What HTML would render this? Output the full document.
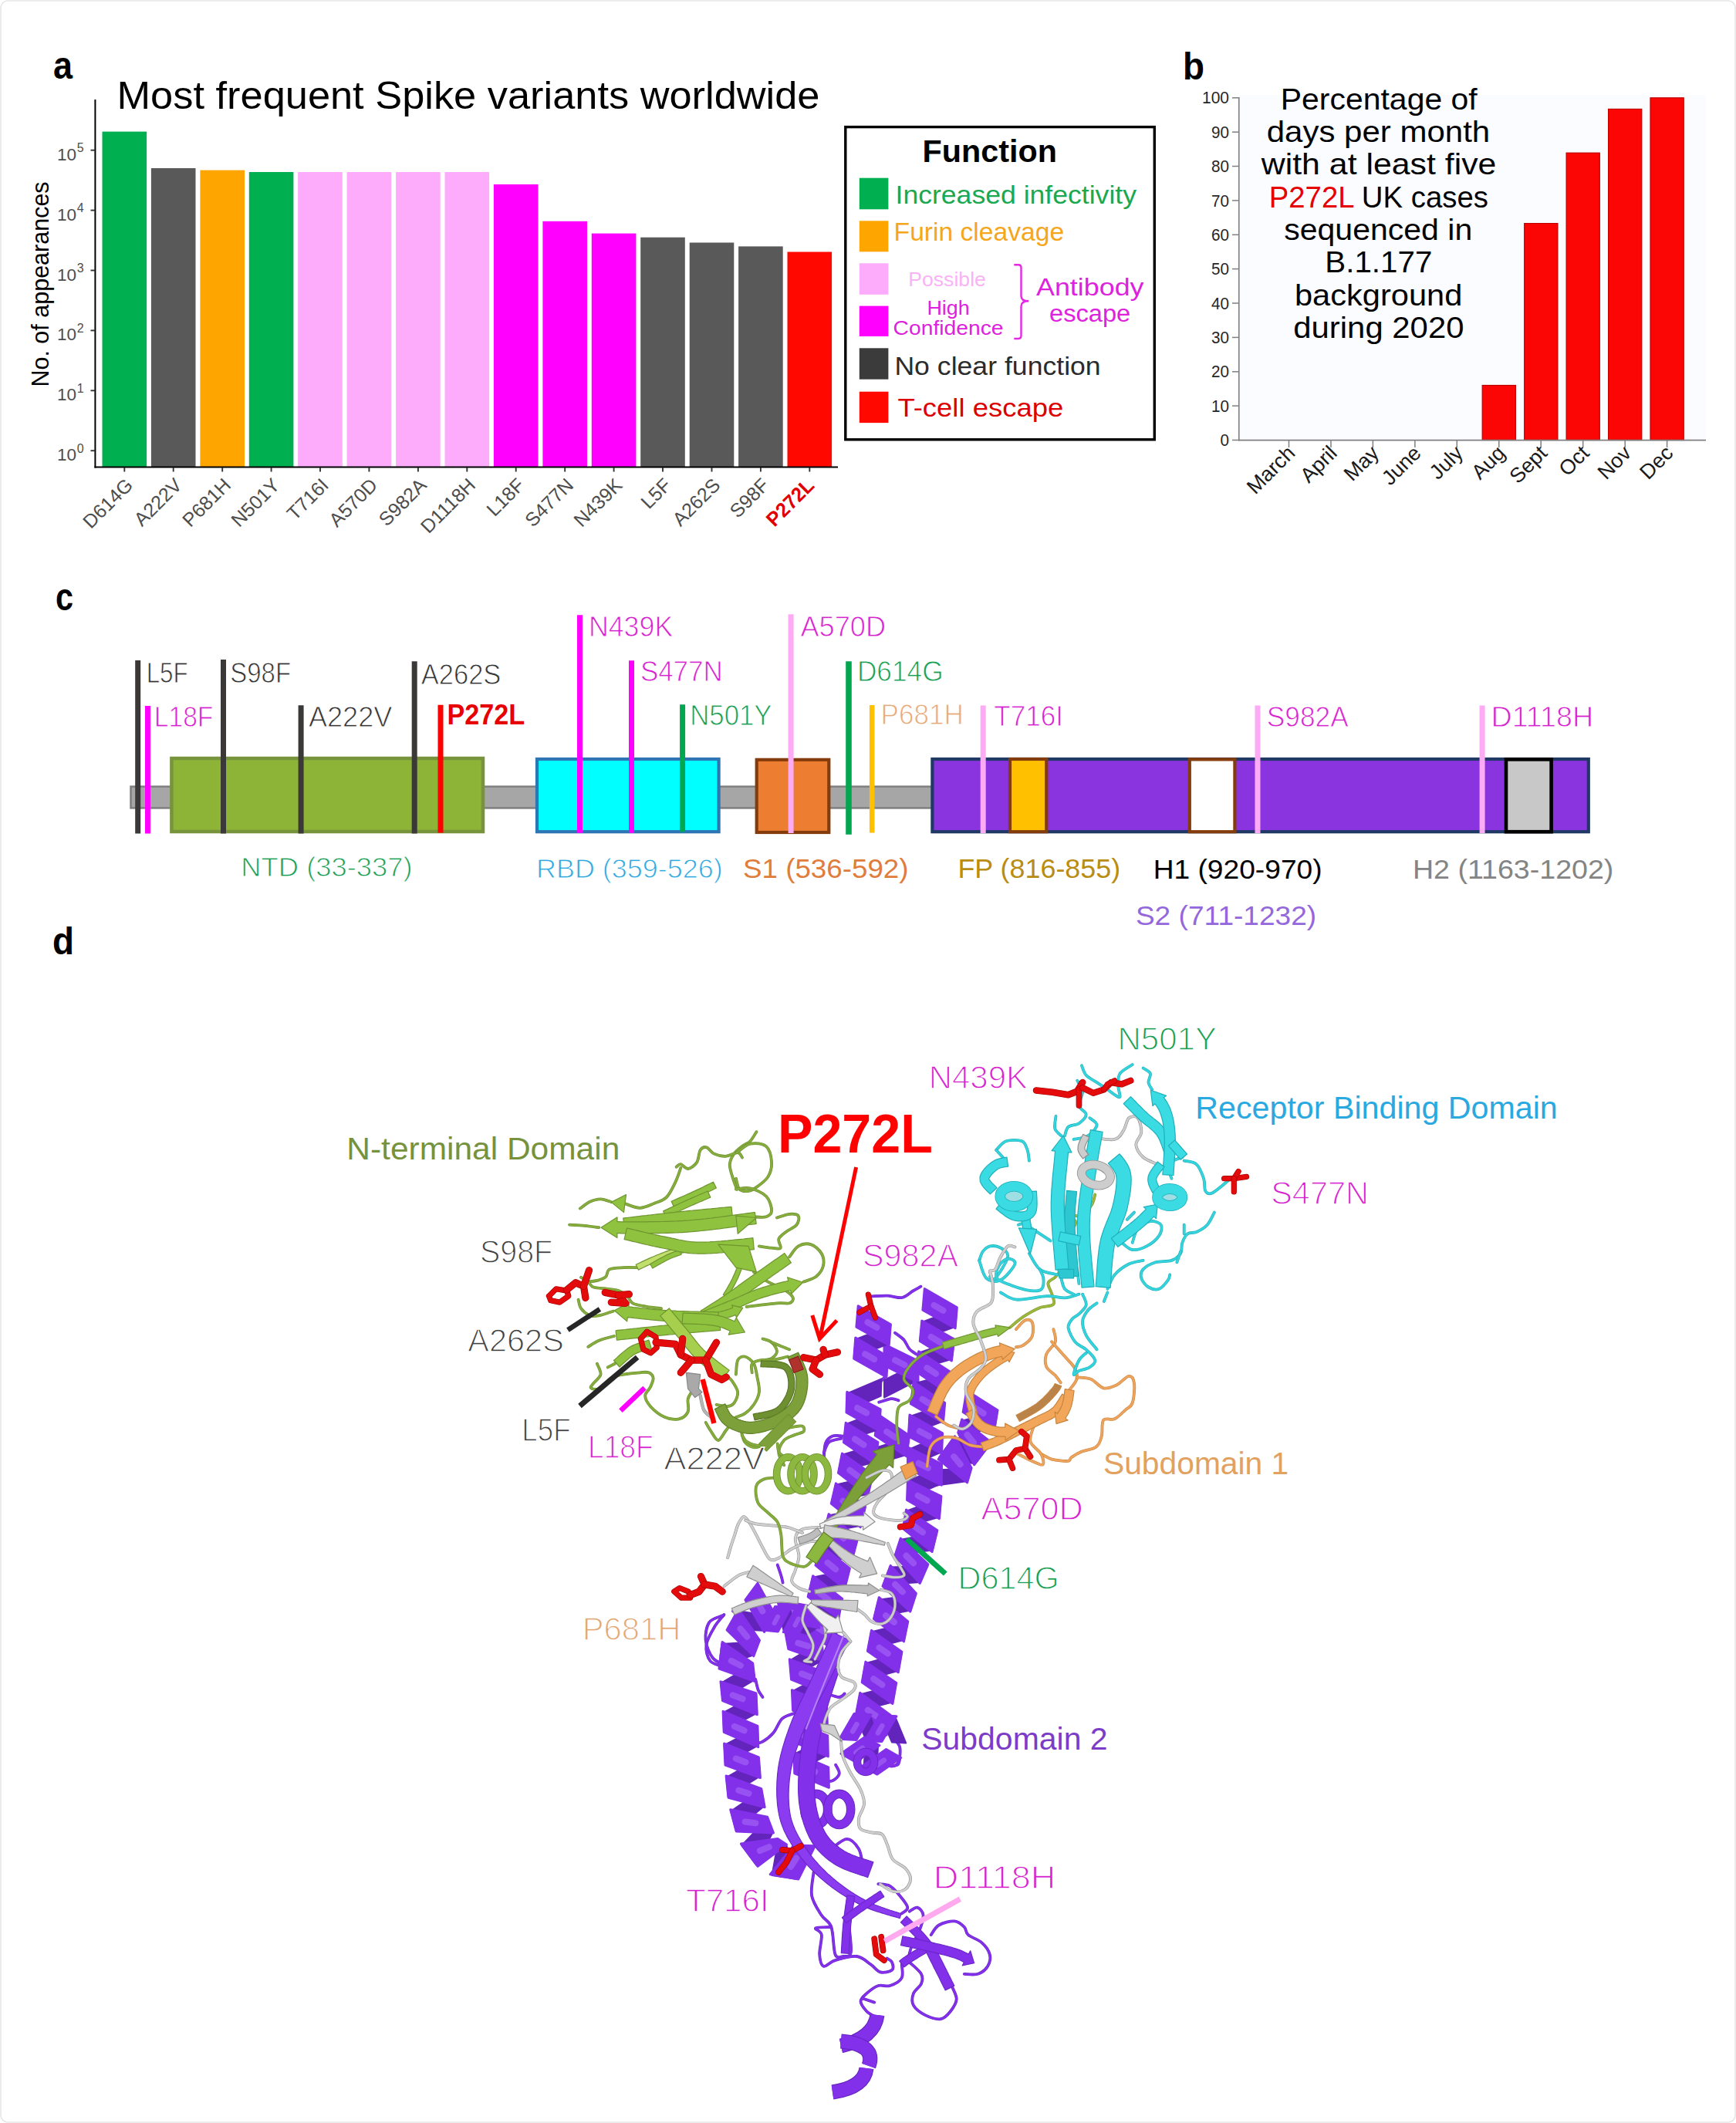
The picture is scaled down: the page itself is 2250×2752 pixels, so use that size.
<!DOCTYPE html>
<html><head><meta charset="utf-8"><title>Spike variants figure</title>
<style>
html,body{margin:0;padding:0;background:#fff;}
body{width:2250px;height:2752px;overflow:hidden;}
svg{display:block;font-family:"Liberation Sans", sans-serif;}
</style></head><body>
<svg width="2250" height="2752" viewBox="0 0 2250 2752">
<rect x="0" y="0" width="2250" height="2752" fill="#fff"/>
<rect x="1" y="1" width="2248" height="2750" rx="9" ry="9" fill="#fff" stroke="#e6e6e6" stroke-width="1.6"/>

<text x="69.0" y="102.0" font-size="50" fill="#000" font-weight="700" textLength="25.0" lengthAdjust="spacingAndGlyphs">a</text>
<text x="1533.0" y="102.5" font-size="50" fill="#000" font-weight="700" textLength="28.0" lengthAdjust="spacingAndGlyphs">b</text>
<text x="72.0" y="790.5" font-size="50" fill="#000" font-weight="700" textLength="23.0" lengthAdjust="spacingAndGlyphs">c</text>
<text x="68.0" y="1237.0" font-size="50" fill="#000" font-weight="700" textLength="28.0" lengthAdjust="spacingAndGlyphs">d</text>
<g id="panel-a">
<text x="151.5" y="141.3" font-size="50" fill="#000" textLength="911.0" lengthAdjust="spacingAndGlyphs">Most frequent Spike variants worldwide</text>
<rect x="132.5" y="170.6" width="57.6" height="434.4" fill="#00b050"/>
<rect x="195.9" y="218.0" width="57.6" height="387.0" fill="#595959"/>
<rect x="259.4" y="220.6" width="57.6" height="384.4" fill="#ffa500"/>
<rect x="322.8" y="223.0" width="57.6" height="382.0" fill="#00b050"/>
<rect x="386.2" y="223.0" width="57.6" height="382.0" fill="#fdabfb"/>
<rect x="449.6" y="223.0" width="57.6" height="382.0" fill="#fdabfb"/>
<rect x="513.1" y="223.0" width="57.6" height="382.0" fill="#fdabfb"/>
<rect x="576.5" y="223.0" width="57.6" height="382.0" fill="#fdabfb"/>
<rect x="639.9" y="239.0" width="57.6" height="366.0" fill="#ff00ff"/>
<rect x="703.4" y="286.8" width="57.6" height="318.2" fill="#ff00ff"/>
<rect x="766.8" y="302.6" width="57.6" height="302.4" fill="#ff00ff"/>
<rect x="830.2" y="307.7" width="57.6" height="297.3" fill="#595959"/>
<rect x="893.7" y="314.5" width="57.6" height="290.5" fill="#595959"/>
<rect x="957.1" y="319.4" width="57.6" height="285.6" fill="#595959"/>
<rect x="1020.5" y="326.5" width="57.6" height="278.5" fill="#ff0800"/>
<line x1="123.4" y1="129.0" x2="123.4" y2="606.4" stroke="#000" stroke-width="2.0" stroke-linecap="butt"/>
<line x1="122.4" y1="605.6" x2="1086.0" y2="605.6" stroke="#000" stroke-width="2.0" stroke-linecap="butt"/>
<line x1="161.3" y1="606.0" x2="161.3" y2="611.5" stroke="#333" stroke-width="1.9" stroke-linecap="butt"/>
<text transform="translate(173.8,630.5) rotate(-45)" text-anchor="end" font-size="25" fill="#4d4d4d">D614G</text>
<line x1="224.7" y1="606.0" x2="224.7" y2="611.5" stroke="#333" stroke-width="1.9" stroke-linecap="butt"/>
<text transform="translate(237.2,630.5) rotate(-45)" text-anchor="end" font-size="25" fill="#4d4d4d">A222V</text>
<line x1="288.2" y1="606.0" x2="288.2" y2="611.5" stroke="#333" stroke-width="1.9" stroke-linecap="butt"/>
<text transform="translate(300.7,630.5) rotate(-45)" text-anchor="end" font-size="25" fill="#4d4d4d">P681H</text>
<line x1="351.6" y1="606.0" x2="351.6" y2="611.5" stroke="#333" stroke-width="1.9" stroke-linecap="butt"/>
<text transform="translate(364.1,630.5) rotate(-45)" text-anchor="end" font-size="25" fill="#4d4d4d">N501Y</text>
<line x1="415.0" y1="606.0" x2="415.0" y2="611.5" stroke="#333" stroke-width="1.9" stroke-linecap="butt"/>
<text transform="translate(427.5,630.5) rotate(-45)" text-anchor="end" font-size="25" fill="#4d4d4d">T716I</text>
<line x1="478.4" y1="606.0" x2="478.4" y2="611.5" stroke="#333" stroke-width="1.9" stroke-linecap="butt"/>
<text transform="translate(490.9,630.5) rotate(-45)" text-anchor="end" font-size="25" fill="#4d4d4d">A570D</text>
<line x1="541.9" y1="606.0" x2="541.9" y2="611.5" stroke="#333" stroke-width="1.9" stroke-linecap="butt"/>
<text transform="translate(554.4,630.5) rotate(-45)" text-anchor="end" font-size="25" fill="#4d4d4d">S982A</text>
<line x1="605.3" y1="606.0" x2="605.3" y2="611.5" stroke="#333" stroke-width="1.9" stroke-linecap="butt"/>
<text transform="translate(617.8,630.5) rotate(-45)" text-anchor="end" font-size="25" fill="#4d4d4d">D1118H</text>
<line x1="668.7" y1="606.0" x2="668.7" y2="611.5" stroke="#333" stroke-width="1.9" stroke-linecap="butt"/>
<text transform="translate(681.2,630.5) rotate(-45)" text-anchor="end" font-size="25" fill="#4d4d4d">L18F</text>
<line x1="732.2" y1="606.0" x2="732.2" y2="611.5" stroke="#333" stroke-width="1.9" stroke-linecap="butt"/>
<text transform="translate(744.7,630.5) rotate(-45)" text-anchor="end" font-size="25" fill="#4d4d4d">S477N</text>
<line x1="795.6" y1="606.0" x2="795.6" y2="611.5" stroke="#333" stroke-width="1.9" stroke-linecap="butt"/>
<text transform="translate(808.1,630.5) rotate(-45)" text-anchor="end" font-size="25" fill="#4d4d4d">N439K</text>
<line x1="859.0" y1="606.0" x2="859.0" y2="611.5" stroke="#333" stroke-width="1.9" stroke-linecap="butt"/>
<text transform="translate(871.5,630.5) rotate(-45)" text-anchor="end" font-size="25" fill="#4d4d4d">L5F</text>
<line x1="922.5" y1="606.0" x2="922.5" y2="611.5" stroke="#333" stroke-width="1.9" stroke-linecap="butt"/>
<text transform="translate(935.0,630.5) rotate(-45)" text-anchor="end" font-size="25" fill="#4d4d4d">A262S</text>
<line x1="985.9" y1="606.0" x2="985.9" y2="611.5" stroke="#333" stroke-width="1.9" stroke-linecap="butt"/>
<text transform="translate(998.4,630.5) rotate(-45)" text-anchor="end" font-size="25" fill="#4d4d4d">S98F</text>
<line x1="1049.3" y1="606.0" x2="1049.3" y2="611.5" stroke="#333" stroke-width="1.9" stroke-linecap="butt"/>
<text transform="translate(1056.8,631) rotate(-45)" text-anchor="end" font-size="26" font-weight="700" fill="#e00000" textLength="75" lengthAdjust="spacingAndGlyphs">P272L</text>
<line x1="117.5" y1="584.2" x2="123.0" y2="584.2" stroke="#333" stroke-width="1.9" stroke-linecap="butt"/>
<text x="99" y="597.2" text-anchor="end" font-size="22.5" fill="#4d4d4d">10</text>
<text x="99.8" y="586.7" font-size="16" fill="#4d4d4d">0</text>
<line x1="117.5" y1="506.3" x2="123.0" y2="506.3" stroke="#333" stroke-width="1.9" stroke-linecap="butt"/>
<text x="99" y="519.3" text-anchor="end" font-size="22.5" fill="#4d4d4d">10</text>
<text x="99.8" y="508.8" font-size="16" fill="#4d4d4d">1</text>
<line x1="117.5" y1="428.4" x2="123.0" y2="428.4" stroke="#333" stroke-width="1.9" stroke-linecap="butt"/>
<text x="99" y="441.4" text-anchor="end" font-size="22.5" fill="#4d4d4d">10</text>
<text x="99.8" y="430.9" font-size="16" fill="#4d4d4d">2</text>
<line x1="117.5" y1="350.5" x2="123.0" y2="350.5" stroke="#333" stroke-width="1.9" stroke-linecap="butt"/>
<text x="99" y="363.5" text-anchor="end" font-size="22.5" fill="#4d4d4d">10</text>
<text x="99.8" y="353.0" font-size="16" fill="#4d4d4d">3</text>
<line x1="117.5" y1="272.6" x2="123.0" y2="272.6" stroke="#333" stroke-width="1.9" stroke-linecap="butt"/>
<text x="99" y="285.6" text-anchor="end" font-size="22.5" fill="#4d4d4d">10</text>
<text x="99.8" y="275.1" font-size="16" fill="#4d4d4d">4</text>
<line x1="117.5" y1="194.7" x2="123.0" y2="194.7" stroke="#333" stroke-width="1.9" stroke-linecap="butt"/>
<text x="99" y="207.7" text-anchor="end" font-size="22.5" fill="#4d4d4d">10</text>
<text x="99.8" y="197.2" font-size="16" fill="#4d4d4d">5</text>
<text transform="translate(63,368.5) rotate(-90)" text-anchor="middle" font-size="30.5" fill="#000">No. of appearances</text>
</g>
<g id="legend">
<rect x="1095.8" y="164.6" width="400.5" height="405.2" fill="#fff" stroke="#000" stroke-width="3.4"/>
<text x="1195.6" y="209.5" font-size="41" fill="#000" font-weight="700" textLength="174.4" lengthAdjust="spacingAndGlyphs">Function</text>
<rect x="1113.8" y="230.7" width="37.6" height="40.6" fill="#00b050"/>
<rect x="1113.8" y="286.3" width="37.6" height="40.0" fill="#ffa500"/>
<rect x="1113.8" y="341.3" width="37.6" height="40.5" fill="#fdabfb"/>
<rect x="1113.8" y="396.6" width="37.6" height="39.4" fill="#ff00ff"/>
<rect x="1113.8" y="451.3" width="37.6" height="40.4" fill="#3b3b3b"/>
<rect x="1113.8" y="507.7" width="37.6" height="40.4" fill="#ff0800"/>
<text x="1160.5" y="264.2" font-size="34" fill="#1aa850" textLength="312.5" lengthAdjust="spacingAndGlyphs">Increased infectivity</text>
<text x="1158.6" y="312.4" font-size="34" fill="#f5a61d" textLength="220.5" lengthAdjust="spacingAndGlyphs">Furin cleavage</text>
<text x="1177.2" y="371.2" font-size="26.5" fill="#f8b3f6" textLength="100.7" lengthAdjust="spacingAndGlyphs">Possible</text>
<text x="1201.4" y="408.0" font-size="26.5" fill="#dd22dd" textLength="55.3" lengthAdjust="spacingAndGlyphs">High</text>
<text x="1157.6" y="434.1" font-size="26.5" fill="#dd22dd" textLength="143.0" lengthAdjust="spacingAndGlyphs">Confidence</text>
<path d="M1314.3,343.2 H1320 Q1323.5,343.2 1323.5,347 V384 Q1323.5,390.3 1333.2,390.3 Q1323.5,390.3 1323.5,397 V435 Q1323.5,439 1320,439 H1314.3" fill="none" stroke="#e628e6" stroke-width="2.4"/>
<text x="1343.0" y="382.7" font-size="31" fill="#dd22dd" textLength="139.5" lengthAdjust="spacingAndGlyphs">Antibody</text>
<text x="1360.0" y="416.8" font-size="31" fill="#dd22dd" textLength="105.2" lengthAdjust="spacingAndGlyphs">escape</text>
<text x="1159.4" y="486.4" font-size="33" fill="#2b2b2b" textLength="267.3" lengthAdjust="spacingAndGlyphs">No clear function</text>
<text x="1163.4" y="540.0" font-size="34" fill="#dc0000" textLength="215.0" lengthAdjust="spacingAndGlyphs">T-cell escape</text>
</g>
<g id="panel-b">
<rect x="1606.0" y="123.0" width="605.0" height="447.0" fill="#fbfcff"/>
<rect x="1921.2" y="499.5" width="43.2" height="71.0" fill="#fb0505" stroke="#c00000" stroke-width="1.2"/>
<rect x="1975.7" y="289.6" width="43.2" height="280.9" fill="#fb0505" stroke="#c00000" stroke-width="1.2"/>
<rect x="2030.1" y="198.2" width="43.2" height="372.3" fill="#fb0505" stroke="#c00000" stroke-width="1.2"/>
<rect x="2084.6" y="141.4" width="43.2" height="429.1" fill="#fb0505" stroke="#c00000" stroke-width="1.2"/>
<rect x="2139.0" y="126.8" width="43.2" height="443.7" fill="#fb0505" stroke="#c00000" stroke-width="1.2"/>
<line x1="1605.8" y1="126.0" x2="1605.8" y2="571.2" stroke="#7f7f7f" stroke-width="1.6" stroke-linecap="butt"/>
<line x1="1605.0" y1="570.6" x2="2211.0" y2="570.6" stroke="#7f7f7f" stroke-width="1.6" stroke-linecap="butt"/>
<line x1="1597.0" y1="570.5" x2="1605.8" y2="570.5" stroke="#7f7f7f" stroke-width="1.5" stroke-linecap="butt"/>
<text x="1593" y="578.1" text-anchor="end" font-size="21.5" fill="#262626" textLength="11.5" lengthAdjust="spacingAndGlyphs">0</text>
<line x1="1597.0" y1="526.1" x2="1605.8" y2="526.1" stroke="#7f7f7f" stroke-width="1.5" stroke-linecap="butt"/>
<text x="1593" y="533.7" text-anchor="end" font-size="21.5" fill="#262626" textLength="23" lengthAdjust="spacingAndGlyphs">10</text>
<line x1="1597.0" y1="481.8" x2="1605.8" y2="481.8" stroke="#7f7f7f" stroke-width="1.5" stroke-linecap="butt"/>
<text x="1593" y="489.4" text-anchor="end" font-size="21.5" fill="#262626" textLength="23" lengthAdjust="spacingAndGlyphs">20</text>
<line x1="1597.0" y1="437.4" x2="1605.8" y2="437.4" stroke="#7f7f7f" stroke-width="1.5" stroke-linecap="butt"/>
<text x="1593" y="445.0" text-anchor="end" font-size="21.5" fill="#262626" textLength="23" lengthAdjust="spacingAndGlyphs">30</text>
<line x1="1597.0" y1="393.0" x2="1605.8" y2="393.0" stroke="#7f7f7f" stroke-width="1.5" stroke-linecap="butt"/>
<text x="1593" y="400.6" text-anchor="end" font-size="21.5" fill="#262626" textLength="23" lengthAdjust="spacingAndGlyphs">40</text>
<line x1="1597.0" y1="348.6" x2="1605.8" y2="348.6" stroke="#7f7f7f" stroke-width="1.5" stroke-linecap="butt"/>
<text x="1593" y="356.2" text-anchor="end" font-size="21.5" fill="#262626" textLength="23" lengthAdjust="spacingAndGlyphs">50</text>
<line x1="1597.0" y1="304.3" x2="1605.8" y2="304.3" stroke="#7f7f7f" stroke-width="1.5" stroke-linecap="butt"/>
<text x="1593" y="311.9" text-anchor="end" font-size="21.5" fill="#262626" textLength="23" lengthAdjust="spacingAndGlyphs">60</text>
<line x1="1597.0" y1="259.9" x2="1605.8" y2="259.9" stroke="#7f7f7f" stroke-width="1.5" stroke-linecap="butt"/>
<text x="1593" y="267.5" text-anchor="end" font-size="21.5" fill="#262626" textLength="23" lengthAdjust="spacingAndGlyphs">70</text>
<line x1="1597.0" y1="215.5" x2="1605.8" y2="215.5" stroke="#7f7f7f" stroke-width="1.5" stroke-linecap="butt"/>
<text x="1593" y="223.1" text-anchor="end" font-size="21.5" fill="#262626" textLength="23" lengthAdjust="spacingAndGlyphs">80</text>
<line x1="1597.0" y1="171.2" x2="1605.8" y2="171.2" stroke="#7f7f7f" stroke-width="1.5" stroke-linecap="butt"/>
<text x="1593" y="178.8" text-anchor="end" font-size="21.5" fill="#262626" textLength="23" lengthAdjust="spacingAndGlyphs">90</text>
<line x1="1597.0" y1="126.8" x2="1605.8" y2="126.8" stroke="#7f7f7f" stroke-width="1.5" stroke-linecap="butt"/>
<text x="1593" y="134.4" text-anchor="end" font-size="21.5" fill="#262626" textLength="35" lengthAdjust="spacingAndGlyphs">100</text>
<line x1="1670.5" y1="570.6" x2="1670.5" y2="580.0" stroke="#7f7f7f" stroke-width="1.5" stroke-linecap="butt"/>
<text transform="translate(1680.0,589) rotate(-45)" text-anchor="end" font-size="27" fill="#1a1a1a">March</text>
<line x1="1725.0" y1="570.6" x2="1725.0" y2="580.0" stroke="#7f7f7f" stroke-width="1.5" stroke-linecap="butt"/>
<text transform="translate(1734.5,589) rotate(-45)" text-anchor="end" font-size="27" fill="#1a1a1a">April</text>
<line x1="1779.4" y1="570.6" x2="1779.4" y2="580.0" stroke="#7f7f7f" stroke-width="1.5" stroke-linecap="butt"/>
<text transform="translate(1788.9,589) rotate(-45)" text-anchor="end" font-size="27" fill="#1a1a1a">May</text>
<line x1="1833.9" y1="570.6" x2="1833.9" y2="580.0" stroke="#7f7f7f" stroke-width="1.5" stroke-linecap="butt"/>
<text transform="translate(1843.4,589) rotate(-45)" text-anchor="end" font-size="27" fill="#1a1a1a">June</text>
<line x1="1888.3" y1="570.6" x2="1888.3" y2="580.0" stroke="#7f7f7f" stroke-width="1.5" stroke-linecap="butt"/>
<text transform="translate(1897.8,589) rotate(-45)" text-anchor="end" font-size="27" fill="#1a1a1a">July</text>
<line x1="1942.8" y1="570.6" x2="1942.8" y2="580.0" stroke="#7f7f7f" stroke-width="1.5" stroke-linecap="butt"/>
<text transform="translate(1952.3,589) rotate(-45)" text-anchor="end" font-size="27" fill="#1a1a1a">Aug</text>
<line x1="1997.2" y1="570.6" x2="1997.2" y2="580.0" stroke="#7f7f7f" stroke-width="1.5" stroke-linecap="butt"/>
<text transform="translate(2006.8,589) rotate(-45)" text-anchor="end" font-size="27" fill="#1a1a1a">Sept</text>
<line x1="2051.7" y1="570.6" x2="2051.7" y2="580.0" stroke="#7f7f7f" stroke-width="1.5" stroke-linecap="butt"/>
<text transform="translate(2061.2,589) rotate(-45)" text-anchor="end" font-size="27" fill="#1a1a1a">Oct</text>
<line x1="2106.2" y1="570.6" x2="2106.2" y2="580.0" stroke="#7f7f7f" stroke-width="1.5" stroke-linecap="butt"/>
<text transform="translate(2115.7,589) rotate(-45)" text-anchor="end" font-size="27" fill="#1a1a1a">Nov</text>
<line x1="2160.6" y1="570.6" x2="2160.6" y2="580.0" stroke="#7f7f7f" stroke-width="1.5" stroke-linecap="butt"/>
<text transform="translate(2170.1,589) rotate(-45)" text-anchor="end" font-size="27" fill="#1a1a1a">Dec</text>
<text x="1659.8" y="142.1" font-size="39" fill="#000" textLength="254.9" lengthAdjust="spacingAndGlyphs">Percentage of</text>
<text x="1641.7" y="184.0" font-size="39" fill="#000" textLength="289.5" lengthAdjust="spacingAndGlyphs">days per month</text>
<text x="1634.8" y="226.4" font-size="39" fill="#000" textLength="304.6" lengthAdjust="spacingAndGlyphs">with at least five</text>
<text x="1644.7" y="269" font-size="39" fill="#000" textLength="284.3" lengthAdjust="spacingAndGlyphs"><tspan fill="#e60000">P272L</tspan> UK cases</text>
<text x="1664.2" y="310.6" font-size="39" fill="#000" textLength="244.1" lengthAdjust="spacingAndGlyphs">sequenced in</text>
<text x="1717.3" y="352.9" font-size="39" fill="#000" textLength="139.1" lengthAdjust="spacingAndGlyphs">B.1.177</text>
<text x="1678.0" y="395.7" font-size="39" fill="#000" textLength="217.3" lengthAdjust="spacingAndGlyphs">background</text>
<text x="1676.3" y="438.1" font-size="39" fill="#000" textLength="221.2" lengthAdjust="spacingAndGlyphs">during 2020</text>
</g>
<g id="panel-c">
<rect x="169.5" y="1019.6" width="1830.5" height="27.8" fill="#a6a6a6" stroke="#7f7f7f" stroke-width="2.5"/>
<rect x="222.4" y="983.0" width="403.6" height="95.0" fill="#8db436" stroke="#77933c" stroke-width="4.5"/>
<rect x="696.0" y="984.0" width="235.6" height="94.2" fill="#00ffff" stroke="#2e75b6" stroke-width="4.2"/>
<rect x="980.7" y="984.8" width="93.6" height="94.2" fill="#ed7d31" stroke="#843c0c" stroke-width="4.2"/>
<rect x="1208.4" y="984.0" width="850.4" height="94.2" fill="#8a34e0" stroke="#1f3864" stroke-width="4.2"/>
<rect x="1309.0" y="984.0" width="47.3" height="94.2" fill="#ffc000" stroke="#843c0c" stroke-width="4.2"/>
<rect x="1541.8" y="984.4" width="58.6" height="93.8" fill="#ffffff" stroke="#843c0c" stroke-width="4.2"/>
<rect x="1952.0" y="984.4" width="58.6" height="93.8" fill="#c8c8c8" stroke="#000000" stroke-width="4.6"/>
<line x1="178.7" y1="856.0" x2="178.7" y2="1080.6" stroke="#3b3838" stroke-width="7" stroke-linecap="butt"/>
<line x1="191.5" y1="915.0" x2="191.5" y2="1080.6" stroke="#ff00ff" stroke-width="7" stroke-linecap="butt"/>
<line x1="289.5" y1="855.0" x2="289.5" y2="1080.6" stroke="#3b3838" stroke-width="7" stroke-linecap="butt"/>
<line x1="390.1" y1="914.2" x2="390.1" y2="1080.6" stroke="#3b3838" stroke-width="7" stroke-linecap="butt"/>
<line x1="537.2" y1="857.3" x2="537.2" y2="1080.6" stroke="#3b3838" stroke-width="7" stroke-linecap="butt"/>
<line x1="571.0" y1="913.8" x2="571.0" y2="1079.5" stroke="#ff0000" stroke-width="7" stroke-linecap="butt"/>
<line x1="751.5" y1="797.2" x2="751.5" y2="1079.8" stroke="#ff00ff" stroke-width="7" stroke-linecap="butt"/>
<line x1="818.5" y1="856.3" x2="818.5" y2="1079.8" stroke="#ff00ff" stroke-width="7" stroke-linecap="butt"/>
<line x1="884.6" y1="913.2" x2="884.6" y2="1078.5" stroke="#00a650" stroke-width="7" stroke-linecap="butt"/>
<line x1="1025.1" y1="796.3" x2="1025.1" y2="1080.0" stroke="#fdabf5" stroke-width="7" stroke-linecap="butt"/>
<line x1="1100.0" y1="857.2" x2="1100.0" y2="1081.8" stroke="#00a650" stroke-width="7.6" stroke-linecap="butt"/>
<line x1="1130.2" y1="914.1" x2="1130.2" y2="1079.6" stroke="#ffc000" stroke-width="6.6" stroke-linecap="butt"/>
<line x1="1274.2" y1="914.5" x2="1274.2" y2="1080.0" stroke="#fdabf5" stroke-width="7" stroke-linecap="butt"/>
<line x1="1630.0" y1="914.5" x2="1630.0" y2="1080.0" stroke="#fdabf5" stroke-width="7" stroke-linecap="butt"/>
<line x1="1921.1" y1="914.5" x2="1921.1" y2="1080.0" stroke="#fdabf5" stroke-width="7" stroke-linecap="butt"/>
<text x="189.7" y="885.3" font-size="37.5" fill="#333" textLength="54.0" lengthAdjust="spacingAndGlyphs" stroke="#fff" stroke-width="0.9" paint-order="fill stroke">L5F</text>
<text x="199.8" y="942.3" font-size="37.5" fill="#d522cf" textLength="76.6" lengthAdjust="spacingAndGlyphs" stroke="#fff" stroke-width="0.9" paint-order="fill stroke">L18F</text>
<text x="298.3" y="885.3" font-size="37.5" fill="#333" textLength="78.8" lengthAdjust="spacingAndGlyphs" stroke="#fff" stroke-width="0.9" paint-order="fill stroke">S98F</text>
<text x="399.9" y="942.3" font-size="37.5" fill="#333" textLength="108.5" lengthAdjust="spacingAndGlyphs" stroke="#fff" stroke-width="0.9" paint-order="fill stroke">A222V</text>
<text x="545.7" y="886.7" font-size="37.5" fill="#333" textLength="103.7" lengthAdjust="spacingAndGlyphs" stroke="#fff" stroke-width="0.9" paint-order="fill stroke">A262S</text>
<text x="579.4" y="939.2" font-size="37" fill="#e60000" font-weight="700" textLength="100.6" lengthAdjust="spacingAndGlyphs">P272L</text>
<text x="762.9" y="824.8" font-size="37.5" fill="#d522cf" textLength="109.4" lengthAdjust="spacingAndGlyphs" stroke="#fff" stroke-width="0.9" paint-order="fill stroke">N439K</text>
<text x="829.9" y="882.6" font-size="37.5" fill="#d522cf" textLength="106.8" lengthAdjust="spacingAndGlyphs" stroke="#fff" stroke-width="0.9" paint-order="fill stroke">S477N</text>
<text x="894.2" y="939.5" font-size="37.5" fill="#1a9e52" textLength="106.4" lengthAdjust="spacingAndGlyphs" stroke="#fff" stroke-width="0.9" paint-order="fill stroke">N501Y</text>
<text x="1037.4" y="824.8" font-size="37.5" fill="#d522cf" textLength="110.7" lengthAdjust="spacingAndGlyphs" stroke="#fff" stroke-width="0.9" paint-order="fill stroke">A570D</text>
<text x="1110.9" y="882.6" font-size="37.5" fill="#1a9e52" textLength="111.7" lengthAdjust="spacingAndGlyphs" stroke="#fff" stroke-width="0.9" paint-order="fill stroke">D614G</text>
<text x="1141.6" y="938.6" font-size="37.5" fill="#e8a978" textLength="107.2" lengthAdjust="spacingAndGlyphs" stroke="#fff" stroke-width="0.9" paint-order="fill stroke">P681H</text>
<text x="1288.2" y="940.8" font-size="37.5" fill="#d522cf" textLength="89.8" lengthAdjust="spacingAndGlyphs" stroke="#fff" stroke-width="0.9" paint-order="fill stroke">T716I</text>
<text x="1641.8" y="941.7" font-size="37.5" fill="#d522cf" textLength="105.9" lengthAdjust="spacingAndGlyphs" stroke="#fff" stroke-width="0.9" paint-order="fill stroke">S982A</text>
<text x="1932.5" y="941.7" font-size="37.5" fill="#d522cf" textLength="132.6" lengthAdjust="spacingAndGlyphs" stroke="#fff" stroke-width="0.9" paint-order="fill stroke">D1118H</text>
<text x="312.3" y="1136.2" font-size="35" fill="#1f9e55" textLength="222.4" lengthAdjust="spacingAndGlyphs" stroke="#fff" stroke-width="0.9" paint-order="fill stroke">NTD (33-337)</text>
<text x="695.0" y="1137.8" font-size="35" fill="#2ea8df" textLength="241.7" lengthAdjust="spacingAndGlyphs" stroke="#fff" stroke-width="0.9" paint-order="fill stroke">RBD (359-526)</text>
<text x="963.0" y="1137.8" font-size="35" fill="#e17d3c" textLength="214.5" lengthAdjust="spacingAndGlyphs">S1 (536-592)</text>
<text x="1241.4" y="1137.8" font-size="35" fill="#b98c14" textLength="210.8" lengthAdjust="spacingAndGlyphs">FP (816-855)</text>
<text x="1494.7" y="1138.7" font-size="35" fill="#000" textLength="218.9" lengthAdjust="spacingAndGlyphs">H1 (920-970)</text>
<text x="1830.9" y="1138.7" font-size="35" fill="#848484" textLength="260.5" lengthAdjust="spacingAndGlyphs">H2 (1163-1202)</text>
<text x="1471.9" y="1199.1" font-size="35" fill="#9468dc" textLength="234.3" lengthAdjust="spacingAndGlyphs">S2 (711-1232)</text>
</g>
<g id="panel-d">
<g id="structure">
<path d="M1128.9,1680.4C1132.5,1680.3 1144.1,1679.4 1150.8,1679.7C1157.5,1680.0 1163.9,1683.0 1169.3,1682.0C1174.6,1681.0 1179.1,1675.9 1183.1,1673.5C1187.1,1671.1 1191.8,1668.7 1193.5,1667.7" fill="none" stroke="#6d26cc" stroke-width="3.8" stroke-linecap="round" stroke-linejoin="round"/><path d="M1128.9,1680.4C1132.5,1680.3 1144.1,1679.4 1150.8,1679.7C1157.5,1680.0 1163.9,1683.0 1169.3,1682.0C1174.6,1681.0 1179.1,1675.9 1183.1,1673.5C1187.1,1671.1 1191.8,1668.7 1193.5,1667.7" fill="none" stroke="#8330ea" stroke-width="2.7" stroke-linecap="round" stroke-linejoin="round"/>
<path d="M1160.0,1727.7C1161.9,1729.2 1168.5,1733.5 1171.6,1736.9C1174.6,1740.4 1175.8,1745.4 1178.5,1748.5C1181.2,1751.6 1186.2,1754.3 1187.7,1755.4" fill="none" stroke="#6d26cc" stroke-width="3.8" stroke-linecap="round" stroke-linejoin="round"/><path d="M1160.0,1727.7C1161.9,1729.2 1168.5,1733.5 1171.6,1736.9C1174.6,1740.4 1175.8,1745.4 1178.5,1748.5C1181.2,1751.6 1186.2,1754.3 1187.7,1755.4" fill="none" stroke="#8330ea" stroke-width="2.7" stroke-linecap="round" stroke-linejoin="round"/>
<path d="M1148.5,1783.1C1146.6,1785.4 1139.6,1792.3 1136.9,1797.0C1134.2,1801.6 1133.1,1808.5 1132.3,1810.8" fill="none" stroke="#6d26cc" stroke-width="3.8" stroke-linecap="round" stroke-linejoin="round"/><path d="M1148.5,1783.1C1146.6,1785.4 1139.6,1792.3 1136.9,1797.0C1134.2,1801.6 1133.1,1808.5 1132.3,1810.8" fill="none" stroke="#8330ea" stroke-width="2.7" stroke-linecap="round" stroke-linejoin="round"/>
<path d="M1139.2,1817.7C1141.9,1817.0 1151.2,1813.5 1155.4,1813.1C1159.6,1812.7 1163.1,1815.0 1164.6,1815.4" fill="none" stroke="#6d26cc" stroke-width="3.8" stroke-linecap="round" stroke-linejoin="round"/><path d="M1139.2,1817.7C1141.9,1817.0 1151.2,1813.5 1155.4,1813.1C1159.6,1812.7 1163.1,1815.0 1164.6,1815.4" fill="none" stroke="#8330ea" stroke-width="2.7" stroke-linecap="round" stroke-linejoin="round"/>
<path d="M1067.7,1891.6C1068.1,1888.1 1068.1,1875.8 1070.0,1870.8C1071.9,1865.8 1075.4,1863.1 1079.2,1861.6C1083.1,1860.0 1090.8,1861.6 1093.1,1861.6" fill="none" stroke="#6d26cc" stroke-width="3.8" stroke-linecap="round" stroke-linejoin="round"/><path d="M1067.7,1891.6C1068.1,1888.1 1068.1,1875.8 1070.0,1870.8C1071.9,1865.8 1075.4,1863.1 1079.2,1861.6C1083.1,1860.0 1090.8,1861.6 1093.1,1861.6" fill="none" stroke="#8330ea" stroke-width="2.7" stroke-linecap="round" stroke-linejoin="round"/>
<path d="M1090.8,1864.6C1088.1,1865.4 1078.5,1866.2 1074.7,1869.2C1070.8,1872.3 1068.9,1880.8 1067.7,1883.1" fill="none" stroke="#6d26cc" stroke-width="3.8" stroke-linecap="round" stroke-linejoin="round"/><path d="M1090.8,1864.6C1088.1,1865.4 1078.5,1866.2 1074.7,1869.2C1070.8,1872.3 1068.9,1880.8 1067.7,1883.1" fill="none" stroke="#8330ea" stroke-width="2.7" stroke-linecap="round" stroke-linejoin="round"/>
<path d="M938.5,2093.1C936.4,2095.8 929.6,2102.7 925.8,2109.3C921.9,2115.8 916.3,2125.1 915.4,2132.4C914.5,2139.7 916.8,2148.5 920.5,2153.1C924.1,2157.7 934.5,2158.9 937.3,2160.1" fill="none" stroke="#6d26cc" stroke-width="3.8" stroke-linecap="round" stroke-linejoin="round"/><path d="M938.5,2093.1C936.4,2095.8 929.6,2102.7 925.8,2109.3C921.9,2115.8 916.3,2125.1 915.4,2132.4C914.5,2139.7 916.8,2148.5 920.5,2153.1C924.1,2157.7 934.5,2158.9 937.3,2160.1" fill="none" stroke="#8330ea" stroke-width="2.7" stroke-linecap="round" stroke-linejoin="round"/>
<path d="M950.0,2088.5C951.9,2087.9 958.1,2086.0 961.6,2085.0C965.0,2084.1 969.3,2083.1 970.8,2082.7" fill="none" stroke="#6d26cc" stroke-width="3.8" stroke-linecap="round" stroke-linejoin="round"/><path d="M950.0,2088.5C951.9,2087.9 958.1,2086.0 961.6,2085.0C965.0,2084.1 969.3,2083.1 970.8,2082.7" fill="none" stroke="#8330ea" stroke-width="2.7" stroke-linecap="round" stroke-linejoin="round"/>
<path d="M1007.7,2028.5C1008.5,2030.8 1011.2,2038.5 1012.3,2042.3C1013.5,2046.2 1014.3,2050.0 1014.6,2051.6" fill="none" stroke="#6d26cc" stroke-width="3.8" stroke-linecap="round" stroke-linejoin="round"/><path d="M1007.7,2028.5C1008.5,2030.8 1011.2,2038.5 1012.3,2042.3C1013.5,2046.2 1014.3,2050.0 1014.6,2051.6" fill="none" stroke="#8330ea" stroke-width="2.7" stroke-linecap="round" stroke-linejoin="round"/>
<path d="M937.7,2093.8C934.6,2095.4 923.1,2097.7 919.2,2103.1C915.4,2108.5 913.9,2118.5 914.6,2126.2C915.4,2133.9 919.6,2143.9 923.9,2149.2C928.1,2154.6 937.3,2156.9 940.0,2158.5" fill="none" stroke="#6d26cc" stroke-width="3.8" stroke-linecap="round" stroke-linejoin="round"/><path d="M937.7,2093.8C934.6,2095.4 923.1,2097.7 919.2,2103.1C915.4,2108.5 913.9,2118.5 914.6,2126.2C915.4,2133.9 919.6,2143.9 923.9,2149.2C928.1,2154.6 937.3,2156.9 940.0,2158.5" fill="none" stroke="#8330ea" stroke-width="2.7" stroke-linecap="round" stroke-linejoin="round"/>
<path d="M1030.0,2220.8C1027.3,2222.0 1018.5,2223.5 1013.9,2227.7C1009.3,2232.0 1006.6,2241.2 1002.3,2246.2C998.1,2251.2 992.3,2255.4 988.5,2257.7C984.6,2260.0 980.8,2259.6 979.2,2260.0" fill="none" stroke="#6d26cc" stroke-width="3.8" stroke-linecap="round" stroke-linejoin="round"/><path d="M1030.0,2220.8C1027.3,2222.0 1018.5,2223.5 1013.9,2227.7C1009.3,2232.0 1006.6,2241.2 1002.3,2246.2C998.1,2251.2 992.3,2255.4 988.5,2257.7C984.6,2260.0 980.8,2259.6 979.2,2260.0" fill="none" stroke="#8330ea" stroke-width="2.7" stroke-linecap="round" stroke-linejoin="round"/>
<path d="M979.2,2176.9C979.8,2179.2 981.2,2186.9 982.7,2190.8C984.3,2194.6 987.5,2198.5 988.5,2200.0" fill="none" stroke="#6d26cc" stroke-width="3.8" stroke-linecap="round" stroke-linejoin="round"/><path d="M979.2,2176.9C979.8,2179.2 981.2,2186.9 982.7,2190.8C984.3,2194.6 987.5,2198.5 988.5,2200.0" fill="none" stroke="#8330ea" stroke-width="2.7" stroke-linecap="round" stroke-linejoin="round"/>
<path d="M1157.0,2253.1C1158.5,2255.0 1165.1,2259.3 1166.2,2264.7C1167.4,2270.0 1166.2,2281.4 1163.9,2285.4C1161.6,2289.5 1155.4,2290.4 1152.4,2288.9C1149.3,2287.3 1146.6,2278.3 1145.4,2276.2" fill="none" stroke="#6d26cc" stroke-width="3.8" stroke-linecap="round" stroke-linejoin="round"/><path d="M1157.0,2253.1C1158.5,2255.0 1165.1,2259.3 1166.2,2264.7C1167.4,2270.0 1166.2,2281.4 1163.9,2285.4C1161.6,2289.5 1155.4,2290.4 1152.4,2288.9C1149.3,2287.3 1146.6,2278.3 1145.4,2276.2" fill="none" stroke="#8330ea" stroke-width="2.7" stroke-linecap="round" stroke-linejoin="round"/>
<path d="M1071.6,2195.4C1074.3,2196.2 1083.9,2200.0 1087.7,2200.0C1091.6,2200.0 1093.5,2196.2 1094.7,2195.4" fill="none" stroke="#6d26cc" stroke-width="3.8" stroke-linecap="round" stroke-linejoin="round"/><path d="M1071.6,2195.4C1074.3,2196.2 1083.9,2200.0 1087.7,2200.0C1091.6,2200.0 1093.5,2196.2 1094.7,2195.4" fill="none" stroke="#8330ea" stroke-width="2.7" stroke-linecap="round" stroke-linejoin="round"/>
<path d="M1064.7,2308.5C1067.0,2308.5 1074.7,2310.0 1078.5,2308.5C1082.3,2307.0 1087.0,2302.7 1087.7,2299.3C1088.5,2295.8 1083.9,2289.7 1083.1,2287.7" fill="none" stroke="#6d26cc" stroke-width="3.8" stroke-linecap="round" stroke-linejoin="round"/><path d="M1064.7,2308.5C1067.0,2308.5 1074.7,2310.0 1078.5,2308.5C1082.3,2307.0 1087.0,2302.7 1087.7,2299.3C1088.5,2295.8 1083.9,2289.7 1083.1,2287.7" fill="none" stroke="#8330ea" stroke-width="2.7" stroke-linecap="round" stroke-linejoin="round"/>
<path d="M1077.4,2396.6C1080.8,2394.5 1091.8,2383.9 1097.7,2383.9C1103.6,2383.9 1109.5,2391.1 1112.9,2396.6C1116.3,2402.1 1117.2,2413.5 1118.0,2416.9" fill="none" stroke="#6d26cc" stroke-width="3.8" stroke-linecap="round" stroke-linejoin="round"/><path d="M1077.4,2396.6C1080.8,2394.5 1091.8,2383.9 1097.7,2383.9C1103.6,2383.9 1109.5,2391.1 1112.9,2396.6C1116.3,2402.1 1117.2,2413.5 1118.0,2416.9" fill="none" stroke="#8330ea" stroke-width="2.7" stroke-linecap="round" stroke-linejoin="round"/>
<path d="M1054.6,2427.0C1054.2,2432.1 1050.4,2448.1 1052.1,2457.4C1053.8,2466.7 1060.5,2476.0 1064.8,2482.8C1069.0,2489.5 1074.5,2489.5 1077.4,2498.0C1080.4,2506.4 1080.0,2527.1 1082.5,2533.5C1085.0,2539.8 1089.3,2536.4 1092.6,2536.0C1096.0,2535.6 1101.5,2537.7 1102.8,2531.0C1104.1,2524.2 1100.7,2501.4 1100.3,2495.5" fill="none" stroke="#6d26cc" stroke-width="3.8" stroke-linecap="round" stroke-linejoin="round"/><path d="M1054.6,2427.0C1054.2,2432.1 1050.4,2448.1 1052.1,2457.4C1053.8,2466.7 1060.5,2476.0 1064.8,2482.8C1069.0,2489.5 1074.5,2489.5 1077.4,2498.0C1080.4,2506.4 1080.0,2527.1 1082.5,2533.5C1085.0,2539.8 1089.3,2536.4 1092.6,2536.0C1096.0,2535.6 1101.5,2537.7 1102.8,2531.0C1104.1,2524.2 1100.7,2501.4 1100.3,2495.5" fill="none" stroke="#8330ea" stroke-width="2.7" stroke-linecap="round" stroke-linejoin="round"/>
<path d="M1077.4,2498.0C1074.1,2498.2 1059.3,2497.6 1057.2,2499.3C1055.0,2501.0 1063.9,2502.4 1064.8,2508.1C1065.6,2513.8 1061.8,2526.7 1062.2,2533.5C1062.7,2540.2 1063.9,2547.4 1067.3,2548.7C1070.7,2550.0 1075.3,2543.2 1082.5,2541.1C1089.7,2539.0 1102.8,2535.2 1110.4,2536.0C1118.0,2536.9 1123.1,2542.8 1128.1,2546.2C1133.2,2549.5 1136.2,2555.0 1140.8,2556.3C1145.5,2557.6 1153.5,2555.9 1156.0,2553.8C1158.6,2551.7 1157.1,2546.2 1156.0,2543.6C1155.0,2541.1 1150.7,2539.4 1149.7,2538.6" fill="none" stroke="#6d26cc" stroke-width="3.8" stroke-linecap="round" stroke-linejoin="round"/><path d="M1077.4,2498.0C1074.1,2498.2 1059.3,2497.6 1057.2,2499.3C1055.0,2501.0 1063.9,2502.4 1064.8,2508.1C1065.6,2513.8 1061.8,2526.7 1062.2,2533.5C1062.7,2540.2 1063.9,2547.4 1067.3,2548.7C1070.7,2550.0 1075.3,2543.2 1082.5,2541.1C1089.7,2539.0 1102.8,2535.2 1110.4,2536.0C1118.0,2536.9 1123.1,2542.8 1128.1,2546.2C1133.2,2549.5 1136.2,2555.0 1140.8,2556.3C1145.5,2557.6 1153.5,2555.9 1156.0,2553.8C1158.6,2551.7 1157.1,2546.2 1156.0,2543.6C1155.0,2541.1 1150.7,2539.4 1149.7,2538.6" fill="none" stroke="#8330ea" stroke-width="2.7" stroke-linecap="round" stroke-linejoin="round"/>
<path d="M1138.3,2442.2C1140.8,2442.7 1148.8,2442.2 1153.5,2444.8C1158.1,2447.3 1162.4,2452.8 1166.2,2457.4C1170.0,2462.1 1175.9,2468.8 1176.3,2472.6C1176.7,2476.5 1170.0,2479.0 1168.7,2480.3" fill="none" stroke="#6d26cc" stroke-width="3.8" stroke-linecap="round" stroke-linejoin="round"/><path d="M1138.3,2442.2C1140.8,2442.7 1148.8,2442.2 1153.5,2444.8C1158.1,2447.3 1162.4,2452.8 1166.2,2457.4C1170.0,2462.1 1175.9,2468.8 1176.3,2472.6C1176.7,2476.5 1170.0,2479.0 1168.7,2480.3" fill="none" stroke="#8330ea" stroke-width="2.7" stroke-linecap="round" stroke-linejoin="round"/>
<path d="M1178.8,2477.7C1180.5,2476.9 1186.0,2471.8 1189.0,2472.6C1191.9,2473.5 1196.2,2477.7 1196.6,2482.8C1197.0,2487.9 1194.0,2496.3 1191.5,2503.1C1189.0,2509.8 1183.9,2516.6 1181.4,2523.3C1178.8,2530.1 1177.1,2540.2 1176.3,2543.6" fill="none" stroke="#6d26cc" stroke-width="3.8" stroke-linecap="round" stroke-linejoin="round"/><path d="M1178.8,2477.7C1180.5,2476.9 1186.0,2471.8 1189.0,2472.6C1191.9,2473.5 1196.2,2477.7 1196.6,2482.8C1197.0,2487.9 1194.0,2496.3 1191.5,2503.1C1189.0,2509.8 1183.9,2516.6 1181.4,2523.3C1178.8,2530.1 1177.1,2540.2 1176.3,2543.6" fill="none" stroke="#8330ea" stroke-width="2.7" stroke-linecap="round" stroke-linejoin="round"/>
<path d="M1206.7,2508.1C1208.4,2506.0 1211.8,2498.4 1216.9,2495.5C1221.9,2492.5 1231.6,2490.0 1237.1,2490.4C1242.6,2490.8 1246.9,2495.0 1249.8,2498.0C1252.8,2501.0 1251.1,2504.8 1254.9,2508.1C1258.7,2511.5 1268.0,2514.1 1272.6,2518.3C1277.3,2522.5 1281.5,2528.4 1282.8,2533.5C1284.0,2538.6 1282.8,2544.5 1280.2,2548.7C1277.7,2552.9 1272.6,2557.1 1267.6,2558.8C1262.5,2560.5 1252.8,2558.8 1249.8,2558.8" fill="none" stroke="#6d26cc" stroke-width="3.8" stroke-linecap="round" stroke-linejoin="round"/><path d="M1206.7,2508.1C1208.4,2506.0 1211.8,2498.4 1216.9,2495.5C1221.9,2492.5 1231.6,2490.0 1237.1,2490.4C1242.6,2490.8 1246.9,2495.0 1249.8,2498.0C1252.8,2501.0 1251.1,2504.8 1254.9,2508.1C1258.7,2511.5 1268.0,2514.1 1272.6,2518.3C1277.3,2522.5 1281.5,2528.4 1282.8,2533.5C1284.0,2538.6 1282.8,2544.5 1280.2,2548.7C1277.7,2552.9 1272.6,2557.1 1267.6,2558.8C1262.5,2560.5 1252.8,2558.8 1249.8,2558.8" fill="none" stroke="#8330ea" stroke-width="2.7" stroke-linecap="round" stroke-linejoin="round"/>
<path d="M1178.8,2543.6C1181.4,2546.2 1191.5,2554.2 1194.0,2558.8C1196.6,2563.5 1195.7,2567.3 1194.0,2571.5C1192.4,2575.7 1185.6,2579.5 1183.9,2584.2C1182.2,2588.8 1181.4,2594.7 1183.9,2599.4C1186.4,2604.0 1193.2,2609.1 1199.1,2612.1C1205.0,2615.0 1213.9,2618.0 1219.4,2617.1C1224.9,2616.3 1228.7,2611.2 1232.1,2607.0C1235.4,2602.8 1239.2,2596.9 1239.7,2591.8C1240.1,2586.7 1235.4,2579.1 1234.6,2576.6" fill="none" stroke="#6d26cc" stroke-width="3.8" stroke-linecap="round" stroke-linejoin="round"/><path d="M1178.8,2543.6C1181.4,2546.2 1191.5,2554.2 1194.0,2558.8C1196.6,2563.5 1195.7,2567.3 1194.0,2571.5C1192.4,2575.7 1185.6,2579.5 1183.9,2584.2C1182.2,2588.8 1181.4,2594.7 1183.9,2599.4C1186.4,2604.0 1193.2,2609.1 1199.1,2612.1C1205.0,2615.0 1213.9,2618.0 1219.4,2617.1C1224.9,2616.3 1228.7,2611.2 1232.1,2607.0C1235.4,2602.8 1239.2,2596.9 1239.7,2591.8C1240.1,2586.7 1235.4,2579.1 1234.6,2576.6" fill="none" stroke="#8330ea" stroke-width="2.7" stroke-linecap="round" stroke-linejoin="round"/>
<path d="M1168.7,2546.2C1168.7,2549.1 1171.2,2559.3 1168.7,2563.9C1166.2,2568.6 1158.6,2572.4 1153.5,2574.0C1148.4,2575.7 1143.3,2572.4 1138.3,2574.0C1133.2,2575.7 1126.9,2580.8 1123.1,2584.2C1119.3,2587.6 1115.5,2590.5 1115.5,2594.3C1115.5,2598.1 1119.9,2603.6 1123.1,2607.0C1126.2,2610.4 1132.6,2613.3 1134.5,2614.6" fill="none" stroke="#6d26cc" stroke-width="3.8" stroke-linecap="round" stroke-linejoin="round"/><path d="M1168.7,2546.2C1168.7,2549.1 1171.2,2559.3 1168.7,2563.9C1166.2,2568.6 1158.6,2572.4 1153.5,2574.0C1148.4,2575.7 1143.3,2572.4 1138.3,2574.0C1133.2,2575.7 1126.9,2580.8 1123.1,2584.2C1119.3,2587.6 1115.5,2590.5 1115.5,2594.3C1115.5,2598.1 1119.9,2603.6 1123.1,2607.0C1126.2,2610.4 1132.6,2613.3 1134.5,2614.6" fill="none" stroke="#8330ea" stroke-width="2.7" stroke-linecap="round" stroke-linejoin="round"/>
<path d="M1118.0,2590.5L1133.2,2595.6" fill="none" stroke="#6d26cc" stroke-width="3.8" stroke-linecap="round" stroke-linejoin="round"/><path d="M1118.0,2590.5L1133.2,2595.6" fill="none" stroke="#8330ea" stroke-width="2.7" stroke-linecap="round" stroke-linejoin="round"/>
<path d="M1153.5,2280.0C1153.9,2281.3 1154.3,2286.3 1156.0,2287.6C1157.7,2288.9 1161.9,2288.9 1163.6,2287.6C1165.3,2286.3 1165.7,2281.3 1166.2,2280.0" fill="none" stroke="#6d26cc" stroke-width="3.8" stroke-linecap="round" stroke-linejoin="round"/><path d="M1153.5,2280.0C1153.9,2281.3 1154.3,2286.3 1156.0,2287.6C1157.7,2288.9 1161.9,2288.9 1163.6,2287.6C1165.3,2286.3 1165.7,2281.3 1166.2,2280.0" fill="none" stroke="#8330ea" stroke-width="2.7" stroke-linecap="round" stroke-linejoin="round"/>
<path d="M1190.0,1767.0L1190.0,1789.0L1146.0,1811.5L1146.0,1789.0Z" fill="#6324bc" stroke="#6324bc" stroke-width="2" stroke-linejoin="round"/><path d="M1146.0,1742.5L1146.0,1770.0L1190.0,1792.0L1190.0,1764.0Z" fill="#8330ea" stroke="#8330ea" stroke-width="3" stroke-linejoin="round"/><path d="M1160.1,1763.2L1172.4,1769.3" fill="none" stroke="#b27cfb" stroke-width="8.1" stroke-linecap="round" opacity="0.45"/>
<path d="M1178.4,1863.0L1175.1,1885.8L1128.7,1899.8L1131.8,1877.6Z" fill="#6324bc" stroke="#6324bc" stroke-width="2" stroke-linejoin="round"/><path d="M1138.1,1833.5L1134.2,1860.7L1174.8,1887.8L1178.6,1861.0Z" fill="#8330ea" stroke="#8330ea" stroke-width="3" stroke-linejoin="round"/><path d="M1149.2,1855.9L1160.5,1863.5" fill="none" stroke="#b27cfb" stroke-width="8.1" stroke-linecap="round" opacity="0.45"/>
<path d="M1292.7,1830.0L1288.8,1854.0L1242.1,1856.5L1246.4,1841.6ZM1283.3,1872.4L1263.9,1897.5L1217.2,1889.0L1236.2,1863.1ZM1258.9,1903.4L1254.1,1920.0L1207.0,1926.4L1212.2,1905.4Z" fill="#6324bc" stroke="#6324bc" stroke-width="2" stroke-linejoin="round"/><path d="M1252.9,1802.6L1248.2,1830.6L1288.3,1856.3L1293.0,1828.1ZM1246.7,1839.9L1241.7,1857.1L1262.6,1898.8L1284.5,1869.6ZM1237.5,1861.8L1216.2,1891.6L1253.6,1921.9L1259.1,1902.9Z" fill="#8330ea" stroke="#8330ea" stroke-width="3" stroke-linejoin="round"/><path d="M1263.4,1824.8L1274.6,1832.0M1253.6,1859.9L1261.8,1869.9M1236.3,1888.2L1244.6,1898.2" fill="none" stroke="#b27cfb" stroke-width="8.1" stroke-linecap="round" opacity="0.45"/>
<path d="M1240.2,1696.8L1238.3,1719.8L1192.5,1736.5L1194.6,1714.0ZM1236.6,1738.0L1233.7,1761.8L1186.9,1775.6L1190.5,1753.6ZM1230.6,1781.1L1227.0,1802.6L1180.6,1817.5L1183.9,1793.6ZM1224.5,1820.4L1222.5,1842.3L1177.5,1859.8L1178.8,1836.2ZM1221.5,1859.8L1220.7,1882.2L1176.5,1901.7L1176.7,1879.3ZM1220.5,1899.9L1220.3,1923.1L1175.7,1942.6L1176.4,1920.5ZM1219.8,1941.7L1217.7,1966.6L1170.8,1979.8L1174.3,1958.9ZM1214.2,1986.8L1208.7,2009.5L1160.5,2015.2L1166.7,1996.1ZM1202.1,2030.0L1192.9,2050.9L1144.7,2054.2L1153.3,2031.5ZM1186.7,2067.3L1180.2,2087.4L1132.9,2096.6L1138.4,2073.7ZM1176.4,2103.7L1171.8,2125.9L1124.8,2138.4L1129.1,2115.4ZM1168.6,2143.3L1164.5,2165.8L1117.5,2178.9L1121.5,2156.2ZM1161.2,2184.5L1157.3,2206.4L1110.1,2218.8L1114.4,2196.4Z" fill="#6324bc" stroke="#6324bc" stroke-width="2" stroke-linejoin="round"/><path d="M1198.3,1670.6L1195.9,1698.2L1238.1,1721.8L1240.3,1694.8ZM1194.8,1712.0L1192.3,1738.5L1233.4,1763.9L1236.8,1736.0ZM1190.7,1751.8L1186.6,1777.6L1226.7,1804.5L1231.1,1778.1ZM1184.2,1791.5L1180.4,1819.6L1222.4,1844.3L1224.7,1818.4ZM1179.0,1834.1L1177.4,1861.8L1220.6,1884.1L1221.6,1857.9ZM1176.8,1876.2L1176.5,1903.7L1220.3,1925.1L1220.5,1897.9ZM1176.4,1918.5L1175.6,1944.5L1217.4,1968.6L1219.9,1939.6ZM1174.5,1957.1L1170.4,1981.6L1208.1,2011.5L1214.9,1983.7ZM1167.2,1994.2L1159.9,2016.8L1192.3,2052.5L1202.9,2027.8ZM1154.2,2029.4L1144.0,2056.2L1179.8,2089.1L1187.4,2065.5ZM1139.3,2070.6L1132.5,2098.6L1171.5,2127.8L1176.8,2101.8ZM1129.5,2113.4L1124.4,2140.3L1164.2,2167.8L1168.9,2141.3ZM1121.9,2154.2L1117.2,2180.8L1156.9,2208.4L1161.7,2181.6ZM1114.7,2194.4L1109.7,2220.8L1149.1,2249.2L1154.1,2223.2Z" fill="#8330ea" stroke="#8330ea" stroke-width="3" stroke-linejoin="round"/><path d="M1210.6,1692.0L1222.4,1698.7M1206.8,1733.1L1218.5,1740.1M1201.5,1773.2L1212.8,1780.7M1195.5,1813.8L1207.0,1821.0M1191.9,1855.3L1204.0,1861.8M1190.7,1896.8L1202.9,1902.9M1189.7,1938.7L1201.6,1945.1M1185.0,1978.4L1195.9,1986.3M1174.5,2016.6L1184.0,2026.3M1160.1,2053.8L1169.8,2063.5M1148.1,2094.3L1158.8,2102.7M1139.6,2135.7L1150.7,2143.5M1132.3,2176.3L1143.4,2184.0M1124.8,2216.8L1135.9,2224.8" fill="none" stroke="#b27cfb" stroke-width="8.1" stroke-linecap="round" opacity="0.45"/>
<path d="M1154.2,1718.7L1152.4,1741.7L1106.8,1759.1L1108.7,1736.1Z" fill="#6324bc" stroke="#6324bc" stroke-width="2" stroke-linejoin="round"/><path d="M1112.2,1692.8L1109.9,1720.2L1152.2,1743.7L1154.4,1716.7ZM1108.8,1734.1L1106.7,1761.1L1148.9,1785.0L1151.0,1758.6Z" fill="#8330ea" stroke="#8330ea" stroke-width="3" stroke-linejoin="round"/><path d="M1124.6,1714.1L1136.4,1720.7M1121.2,1755.3L1133.0,1762.1" fill="none" stroke="#b27cfb" stroke-width="8.1" stroke-linecap="round" opacity="0.45"/>
<path d="M1142.4,1787.3L1141.7,1809.6L1097.0,1829.1L1097.7,1806.4ZM1141.1,1828.8L1139.7,1852.9L1093.7,1867.9L1096.1,1846.2ZM1137.6,1871.6L1134.1,1895.3L1086.9,1907.5L1091.0,1886.0ZM1130.5,1913.8L1125.3,1936.7L1077.8,1947.1L1082.9,1924.7ZM1121.1,1955.2L1115.7,1977.8L1068.2,1986.5L1073.6,1964.5ZM1111.3,1995.5L1105.4,2017.9L1057.5,2027.3L1063.4,2004.7ZM1100.9,2035.1L1095.3,2057.3L1047.6,2067.8L1053.1,2044.7ZM1091.3,2074.3L1087.2,2095.6L1040.6,2109.7L1044.1,2086.5Z" fill="#6324bc" stroke="#6324bc" stroke-width="2" stroke-linejoin="round"/><path d="M1097.8,1804.4L1097.0,1831.0L1139.5,1855.0L1141.2,1826.8ZM1096.2,1844.4L1093.5,1869.8L1133.8,1897.3L1137.9,1869.6ZM1091.4,1884.1L1086.5,1909.4L1124.9,1938.6L1131.0,1911.8ZM1083.4,1922.8L1077.3,1949.1L1115.2,1979.7L1121.5,1953.2ZM1074.1,1962.6L1067.7,1988.4L1104.9,2019.9L1111.8,1993.5ZM1063.9,2002.8L1057.0,2029.2L1094.8,2059.2L1101.4,2033.2ZM1053.6,2042.8L1047.2,2069.9L1086.9,2097.5L1091.7,2072.4ZM1044.5,2084.5L1040.3,2111.7L1080.7,2138.5L1084.7,2112.1Z" fill="#8330ea" stroke="#8330ea" stroke-width="3" stroke-linejoin="round"/><path d="M1111.1,1825.1L1123.1,1831.6M1108.0,1865.5L1119.4,1872.9M1101.4,1905.8L1112.3,1913.8M1092.5,1945.7L1103.2,1954.3M1082.9,1985.5L1093.4,1994.2M1072.5,2025.7L1083.0,2034.1M1062.8,2065.5L1073.7,2073.5M1055.3,2106.8L1066.6,2114.4" fill="none" stroke="#b27cfb" stroke-width="8.1" stroke-linecap="round" opacity="0.45"/>
<path d="M1055.5,2085.0L1061.4,2108.4L1021.6,2135.6L1017.8,2115.1ZM1064.9,2127.7L1067.6,2151.5L1025.4,2175.0L1023.5,2152.7ZM1069.1,2170.0L1070.6,2193.3L1027.6,2215.3L1026.5,2192.7ZM1071.4,2210.5L1072.2,2233.8L1028.8,2256.0L1028.2,2233.1ZM1072.7,2251.9L1073.3,2274.9L1029.8,2296.9L1029.3,2273.9Z" fill="#6324bc" stroke="#6324bc" stroke-width="2" stroke-linejoin="round"/><path d="M1007.5,2073.9L1014.3,2101.2L1061.8,2110.3L1055.0,2083.0ZM1017.3,2113.1L1021.8,2137.5L1067.8,2153.6L1064.6,2125.5ZM1023.3,2150.8L1025.5,2177.0L1070.7,2195.3L1069.0,2167.9ZM1026.4,2190.7L1027.6,2217.3L1072.3,2235.8L1071.3,2208.5ZM1028.1,2231.1L1028.9,2258.0L1073.3,2276.9L1072.7,2249.8ZM1029.2,2271.9L1029.8,2298.9L1074.4,2317.3L1073.7,2290.9Z" fill="#8330ea" stroke="#8330ea" stroke-width="3" stroke-linejoin="round"/><path d="M1026.1,2090.5L1039.4,2093.0M1034.5,2129.9L1047.5,2133.9M1039.0,2169.6L1051.7,2174.5M1041.3,2209.8L1053.9,2214.9M1042.7,2250.6L1055.2,2255.8M1043.8,2291.4L1056.2,2296.6" fill="none" stroke="#b27cfb" stroke-width="8.1" stroke-linecap="round" opacity="0.45"/>
<path d="M1004.1,2096.5L991.4,2114.1L943.0,2110.9L956.1,2087.7ZM983.7,2127.9L977.1,2145.4L931.8,2160.5L935.4,2131.0ZM975.7,2157.5L978.1,2177.4L936.4,2202.6L934.3,2181.8ZM980.2,2197.1L981.2,2220.6L938.1,2243.3L937.2,2220.2ZM982.0,2239.5L982.7,2262.7L939.9,2285.9L938.7,2262.1ZM983.5,2279.9L985.3,2302.5L943.7,2328.1L941.2,2304.0ZM987.0,2320.5L990.7,2340.9L953.5,2371.8L947.2,2347.8ZM995.0,2356.8L1001.8,2374.8L980.0,2417.5L961.4,2392.3ZM1008.8,2384.3L1019.0,2390.9L1032.7,2436.0L1000.6,2430.9Z" fill="#6324bc" stroke="#6324bc" stroke-width="2" stroke-linejoin="round"/><path d="M981.9,2052.3L966.0,2074.0L990.5,2115.5L1005.4,2094.9ZM957.2,2086.1L942.1,2113.0L976.8,2146.8L984.5,2126.3ZM936.1,2128.6L932.0,2163.1L978.4,2179.5L975.7,2156.1ZM934.0,2179.8L936.5,2204.6L981.3,2222.6L980.0,2195.0ZM937.1,2218.3L938.2,2245.3L982.8,2264.6L981.9,2237.5ZM938.6,2260.1L940.0,2288.1L985.4,2304.5L983.4,2278.0ZM941.1,2302.0L944.0,2330.2L991.2,2342.7L986.8,2318.7ZM946.7,2345.7L954.2,2373.9L1002.5,2376.0L994.5,2355.1ZM960.4,2390.1L982.1,2419.4L1019.5,2391.1L1008.0,2383.5ZM998.3,2429.8L1034.8,2435.9L1056.3,2392.8L1028.9,2392.0Z" fill="#8330ea" stroke="#8330ea" stroke-width="3" stroke-linejoin="round"/><path d="M981.6,2076.6L988.3,2088.4M959.6,2111.4L968.2,2121.7M947.8,2152.9L959.8,2159.0M949.8,2197.5L962.5,2202.2M951.9,2237.9L964.5,2243.3M953.8,2279.6L966.4,2284.4M957.4,2320.8L970.4,2324.8M965.8,2361.6L979.3,2363.3M984.9,2399.1L996.8,2394.3M1024.9,2419.9L1032.2,2408.6" fill="none" stroke="#b27cfb" stroke-width="8.1" stroke-linecap="round" opacity="0.45"/>
<path d="M1006.6,2082.6L1023.5,2084.3L1033.2,2117.4L1016.3,2115.7Z" fill="#6324bc" stroke="#6324bc" stroke-width="2" stroke-linejoin="round"/><path d="M988.5,2112.9L1008.4,2114.9L1024.5,2084.4L1004.6,2082.4ZM1015.3,2115.6L1035.2,2117.6L1051.3,2087.1L1031.4,2085.1Z" fill="#8330ea" stroke="#8330ea" stroke-width="3" stroke-linejoin="round"/><path d="M1003.6,2104.1L1008.1,2095.6M1030.4,2106.8L1034.9,2098.3" fill="none" stroke="#b27cfb" stroke-width="6.0" stroke-linecap="round" opacity="0.45"/>
<path d="M1108.0,2221.5L1127.0,2222.6L1140.9,2257.5L1122.9,2256.4ZM1141.0,2223.5L1159.9,2224.6L1174.2,2259.5L1155.9,2258.4Z" fill="#6324bc" stroke="#6324bc" stroke-width="2" stroke-linejoin="round"/><path d="M1088.0,2254.3L1110.0,2255.6L1129.0,2222.7L1107.0,2221.4ZM1120.9,2256.3L1142.9,2257.6L1161.9,2224.7L1140.0,2223.4Z" fill="#8330ea" stroke="#8330ea" stroke-width="3" stroke-linejoin="round"/><path d="M1105.1,2244.4L1110.4,2235.2M1138.0,2246.4L1143.3,2237.2" fill="none" stroke="#b27cfb" stroke-width="6.6" stroke-linecap="round" opacity="0.45"/>
<path d="M1122.5,2252.7L1138.1,2261.6L1136.0,2299.6L1119.5,2290.2Z" fill="#6324bc" stroke="#6324bc" stroke-width="2" stroke-linejoin="round"/><path d="M1090.0,2273.3L1109.1,2284.2L1139.9,2262.6L1120.8,2251.7ZM1117.8,2289.2L1136.9,2300.1L1167.7,2278.5L1148.6,2267.6Z" fill="#8330ea" stroke="#8330ea" stroke-width="3" stroke-linejoin="round"/><path d="M1109.4,2271.9L1118.0,2265.8M1137.2,2287.7L1145.8,2281.7" fill="none" stroke="#b27cfb" stroke-width="6.6" stroke-linecap="round" opacity="0.45"/>
<ellipse cx="1122.0" cy="2284.0" rx="11.0" ry="13.0" fill="none" stroke="#6324bc" stroke-width="10.6" transform="rotate(0 1122.0 2284.0)"/><ellipse cx="1122.0" cy="2284.0" rx="11.0" ry="13.0" fill="none" stroke="#8330ea" stroke-width="9.0" transform="rotate(0 1122.0 2284.0)"/>
<ellipse cx="1057.7" cy="2345.4" rx="15.0" ry="20.0" fill="none" stroke="#6324bc" stroke-width="11.6" transform="rotate(0 1057.7 2345.4)"/><ellipse cx="1057.7" cy="2345.4" rx="15.0" ry="20.0" fill="none" stroke="#8330ea" stroke-width="10.0" transform="rotate(0 1057.7 2345.4)"/>
<ellipse cx="1087.7" cy="2345.4" rx="15.0" ry="20.0" fill="none" stroke="#6324bc" stroke-width="11.6" transform="rotate(0 1087.7 2345.4)"/><ellipse cx="1087.7" cy="2345.4" rx="15.0" ry="20.0" fill="none" stroke="#8330ea" stroke-width="10.0" transform="rotate(0 1087.7 2345.4)"/>
<path d="M1068.0,2157.8L1067.1,2160.6L1066.2,2163.4L1065.2,2166.2L1064.3,2169.1L1063.3,2171.9L1062.4,2174.8L1061.4,2177.6L1060.5,2180.5L1059.5,2183.4L1058.6,2186.2L1057.7,2189.1L1056.7,2192.0L1055.8,2194.9L1054.9,2197.8L1054.0,2200.7L1053.1,2203.7L1052.3,2206.6L1051.4,2209.6L1050.6,2212.6L1049.8,2215.6L1049.0,2218.5L1048.3,2221.4L1047.5,2224.3L1046.8,2227.3L1046.1,2230.3L1045.4,2233.2L1044.7,2236.2L1044.0,2239.2L1043.3,2242.2L1042.6,2245.2L1042.0,2248.2L1041.4,2251.2L1040.8,2254.2L1040.2,2257.3L1039.7,2260.3L1039.2,2263.4L1038.7,2266.5L1038.3,2269.5L1037.8,2272.6L1037.5,2275.7L1037.1,2278.7L1036.8,2281.8L1036.4,2284.8L1036.1,2287.9L1035.9,2291.0L1035.6,2294.0L1035.4,2297.0L1035.2,2300.1L1035.0,2303.2L1034.8,2306.3L1034.7,2309.5L1034.7,2312.6L1034.6,2315.7L1034.6,2318.9L1034.7,2322.1L1034.8,2325.2L1035.0,2328.4L1035.2,2331.6L1035.5,2334.9L1035.9,2338.1L1036.4,2341.3L1036.9,2344.5L1037.5,2347.6L1038.2,2350.8L1038.9,2354.0L1039.7,2357.1L1040.6,2360.2L1041.5,2363.3L1042.5,2366.4L1043.7,2369.5L1044.8,2372.6L1046.1,2375.6L1047.5,2378.6L1048.9,2381.6L1050.5,2384.5L1052.2,2387.4L1054.1,2390.4L1056.1,2393.2L1058.2,2396.0L1060.4,2398.6L1062.8,2401.1L1065.2,2403.6L1067.7,2405.9L1070.2,2408.1L1072.9,2410.2L1075.5,2412.2L1078.2,2414.1L1080.9,2415.9L1083.8,2417.7L1087.0,2419.5L1090.1,2421.0L1093.1,2422.4L1096.1,2423.7L1098.9,2424.8L1101.9,2425.9L1104.9,2427.0L1107.9,2428.0L1110.8,2429.0L1113.7,2430.0L1116.5,2430.9L1119.4,2431.8L1122.1,2432.7L1124.7,2433.6L1131.9,2413.9L1128.9,2412.8L1125.9,2411.8L1123.0,2410.9L1120.2,2410.0L1117.4,2409.1L1114.6,2408.1L1111.9,2407.2L1109.2,2406.2L1106.6,2405.3L1103.8,2404.2L1101.3,2403.1L1098.9,2402.0L1096.6,2400.8L1094.5,2399.7L1092.4,2398.3L1090.1,2396.8L1087.9,2395.2L1085.8,2393.6L1083.7,2392.0L1081.7,2390.3L1079.8,2388.5L1078.0,2386.7L1076.3,2384.8L1074.6,2382.8L1073.1,2380.8L1071.6,2378.8L1070.2,2376.7L1068.9,2374.4L1067.7,2372.1L1066.5,2369.7L1065.4,2367.2L1064.3,2364.7L1063.3,2362.2L1062.4,2359.6L1061.5,2357.0L1060.7,2354.4L1060.0,2351.7L1059.3,2349.0L1058.7,2346.3L1058.1,2343.6L1057.6,2340.9L1057.2,2338.2L1056.8,2335.4L1056.4,2332.7L1056.1,2330.0L1055.9,2327.2L1055.8,2324.4L1055.7,2321.6L1055.6,2318.7L1055.6,2315.9L1055.6,2313.0L1055.7,2310.2L1055.8,2307.3L1056.0,2304.4L1056.1,2301.5L1056.3,2298.6L1056.5,2295.6L1056.8,2292.7L1057.1,2289.8L1057.3,2286.9L1057.7,2284.0L1058.0,2281.1L1058.3,2278.2L1058.7,2275.3L1059.1,2272.4L1059.5,2269.6L1059.9,2266.7L1060.4,2263.9L1060.9,2261.0L1061.4,2258.2L1062.0,2255.3L1062.6,2252.4L1063.2,2249.6L1063.8,2246.7L1064.4,2243.9L1065.1,2241.0L1065.8,2238.1L1066.5,2235.2L1067.2,2232.4L1067.9,2229.5L1068.6,2226.6L1069.4,2223.7L1070.1,2220.8L1070.9,2218.0L1071.6,2215.2L1072.4,2212.5L1073.3,2209.7L1074.1,2206.9L1075.0,2204.0L1075.9,2201.2L1076.7,2198.4L1077.6,2195.5L1078.6,2192.7L1079.5,2189.9L1080.4,2187.1L1081.4,2184.2L1082.3,2181.4L1083.2,2178.6L1084.2,2175.7L1085.1,2172.9L1086.1,2170.0L1087.1,2167.1L1088.0,2164.2Z" fill="#8330ea" stroke="#6d26cc" stroke-width="1.2" stroke-linejoin="round"/>
<path d="M1079.2,2115.8L1077.9,2118.6L1076.7,2121.3L1075.5,2124.1L1074.2,2126.8L1073.0,2129.5L1071.8,2132.3L1070.5,2135.0L1069.3,2137.7L1068.1,2140.5L1066.8,2143.2L1065.6,2145.9L1064.3,2148.7L1063.1,2151.4L1061.9,2154.1L1060.6,2156.9L1059.4,2159.6L1058.2,2162.3L1056.9,2165.1L1055.7,2167.8L1054.5,2170.5L1053.2,2173.2L1052.0,2176.0L1050.7,2178.7L1049.5,2181.4L1048.3,2184.0L1047.0,2186.7L1045.7,2189.4L1044.5,2192.0L1043.2,2194.7L1041.8,2197.4L1040.5,2200.1L1039.2,2202.8L1037.9,2205.5L1036.5,2208.2L1035.2,2211.0L1033.9,2213.7L1032.6,2216.5L1031.3,2219.3L1030.0,2222.1L1028.8,2224.9L1027.5,2227.8L1026.3,2230.7L1025.2,2233.6L1024.1,2236.5L1023.0,2239.4L1022.0,2242.3L1021.0,2245.2L1019.9,2248.1L1019.0,2250.9L1018.0,2253.8L1017.1,2256.7L1016.2,2259.7L1015.3,2262.6L1014.4,2265.6L1013.6,2268.6L1012.8,2271.6L1012.0,2274.7L1011.3,2277.7L1010.6,2280.8L1010.0,2283.9L1009.4,2287.0L1008.9,2290.1L1008.5,2293.2L1008.1,2296.4L1007.7,2299.5L1007.5,2302.6L1007.2,2305.7L1007.0,2308.8L1006.9,2311.9L1006.8,2315.1L1006.7,2318.2L1006.7,2321.3L1006.8,2324.4L1006.8,2327.6L1007.0,2330.7L1007.2,2333.7L1007.4,2336.8L1007.7,2340.0L1008.1,2343.1L1008.6,2346.2L1009.1,2349.4L1009.7,2352.5L1010.4,2355.6L1011.2,2358.9L1012.1,2361.8L1013.1,2364.9L1014.2,2367.9L1015.4,2370.9L1016.7,2373.9L1018.1,2376.8L1019.5,2379.6L1021.0,2382.4L1022.6,2385.1L1024.2,2387.8L1025.8,2390.5L1027.5,2393.1L1029.3,2395.7L1031.0,2398.2L1032.8,2400.7L1034.6,2403.2L1036.5,2405.6L1038.3,2408.1L1040.2,2410.5L1042.2,2412.9L1044.2,2415.3L1046.3,2417.6L1048.4,2419.9L1050.5,2422.1L1052.7,2424.4L1054.9,2426.5L1057.1,2428.7L1059.4,2430.8L1061.6,2432.8L1063.9,2434.9L1066.3,2436.9L1068.6,2438.8L1071.0,2440.8L1073.4,2442.7L1075.8,2444.6L1078.2,2446.4L1080.7,2448.3L1083.2,2450.0L1085.7,2451.8L1088.2,2453.5L1090.8,2455.2L1093.4,2456.8L1096.0,2458.5L1098.6,2460.1L1101.2,2461.6L1103.9,2463.1L1106.5,2464.6L1109.2,2466.0L1111.9,2467.4L1114.6,2468.8L1117.3,2470.2L1120.1,2471.5L1122.9,2472.7L1125.8,2473.9L1128.7,2475.1L1131.6,2476.1L1134.5,2477.1L1137.4,2478.1L1140.3,2479.0L1143.1,2479.9L1146.0,2480.8L1148.9,2481.7L1151.8,2482.5L1154.7,2483.3L1157.6,2484.1L1160.5,2484.9L1163.4,2485.7L1166.2,2486.6L1168.1,2480.9L1165.2,2479.9L1162.3,2478.9L1159.5,2478.0L1156.6,2477.1L1153.8,2476.2L1151.0,2475.2L1148.1,2474.3L1145.3,2473.3L1142.5,2472.3L1139.7,2471.3L1137.0,2470.2L1134.2,2469.2L1131.5,2468.0L1128.9,2466.9L1126.2,2465.7L1123.6,2464.4L1121.0,2463.0L1118.4,2461.6L1115.9,2460.2L1113.3,2458.7L1110.8,2457.2L1108.2,2455.7L1105.7,2454.1L1103.2,2452.5L1100.8,2450.9L1098.3,2449.2L1095.9,2447.5L1093.5,2445.8L1091.2,2444.1L1088.8,2442.3L1086.5,2440.5L1084.2,2438.7L1082.0,2436.8L1079.7,2434.9L1077.5,2433.0L1075.3,2431.0L1073.1,2429.1L1071.0,2427.1L1068.9,2425.0L1066.8,2423.0L1064.7,2420.9L1062.7,2418.8L1060.7,2416.7L1058.8,2414.5L1056.9,2412.3L1055.0,2410.1L1053.1,2407.9L1051.4,2405.6L1049.6,2403.3L1047.9,2401.0L1046.3,2398.6L1044.6,2396.1L1042.9,2393.7L1041.3,2391.3L1039.8,2388.8L1038.2,2386.3L1036.8,2383.8L1035.3,2381.4L1034.0,2378.8L1032.6,2376.3L1031.4,2373.8L1030.2,2371.2L1029.1,2368.6L1028.1,2366.0L1027.2,2363.4L1026.3,2360.8L1025.5,2358.2L1024.8,2355.3L1024.3,2352.8L1023.8,2350.0L1023.4,2347.2L1023.0,2344.4L1022.7,2341.6L1022.5,2338.7L1022.3,2335.9L1022.2,2333.0L1022.1,2330.0L1022.1,2327.2L1022.1,2324.3L1022.2,2321.4L1022.3,2318.6L1022.5,2315.7L1022.7,2312.8L1023.0,2310.0L1023.2,2307.1L1023.6,2304.2L1023.9,2301.4L1024.4,2298.5L1024.8,2295.7L1025.3,2293.0L1025.9,2290.2L1026.5,2287.4L1027.2,2284.6L1027.9,2281.9L1028.7,2279.1L1029.5,2276.3L1030.3,2273.6L1031.2,2270.8L1032.1,2268.1L1033.1,2265.3L1034.1,2262.6L1035.1,2259.8L1036.1,2257.1L1037.2,2254.3L1038.3,2251.5L1039.3,2248.8L1040.5,2246.1L1041.6,2243.4L1042.7,2240.7L1043.9,2238.1L1045.1,2235.5L1046.3,2232.9L1047.6,2230.3L1048.9,2227.7L1050.2,2225.1L1051.6,2222.5L1053.0,2219.9L1054.4,2217.3L1055.8,2214.7L1057.2,2212.0L1058.6,2209.4L1060.0,2206.8L1061.5,2204.1L1062.9,2201.4L1064.3,2198.8L1065.7,2196.1L1067.2,2193.3L1068.6,2190.6L1069.9,2187.9L1071.3,2185.2L1072.6,2182.5L1074.0,2179.8L1075.3,2177.2L1076.7,2174.5L1078.0,2171.8L1079.4,2169.1L1080.7,2166.4L1082.1,2163.7L1083.4,2161.0L1084.7,2158.4L1086.1,2155.7L1087.4,2153.0L1088.8,2150.3L1090.1,2147.6L1091.4,2144.9L1092.8,2142.3L1094.1,2139.6L1095.5,2136.9L1096.8,2134.2L1098.2,2131.5L1099.5,2128.8L1100.8,2126.2Z" fill="#8c3cf0" stroke="#6d26cc" stroke-width="1.2" stroke-linejoin="round"/>
<path d="M1093.1,2120.8C1088.9,2131.2 1075.8,2163.1 1067.7,2183.1C1059.7,2203.1 1048.5,2231.2 1044.7,2240.8" fill="none" stroke="#b480f8" stroke-width="2.2" stroke-linecap="round" stroke-linejoin="round"/>
<path d="M1097.8,2456.8L1097.4,2459.7L1097.0,2462.7L1096.6,2465.6L1096.1,2468.6L1095.7,2471.6L1095.3,2474.6L1094.9,2477.6L1094.5,2480.5L1094.1,2483.5L1093.7,2486.5L1093.3,2489.6L1093.0,2492.6L1092.7,2495.6L1092.4,2498.7L1092.2,2501.7L1091.9,2504.7L1091.7,2507.7L1091.5,2510.7L1091.3,2513.7L1091.1,2516.8L1091.0,2519.7L1090.8,2522.8L1090.6,2525.8L1090.5,2528.7L1090.3,2531.7L1100.3,2532.3L1100.4,2529.3L1100.6,2526.3L1100.8,2523.3L1100.9,2520.3L1101.1,2517.3L1101.3,2514.3L1101.5,2511.4L1101.7,2508.4L1101.9,2505.4L1102.1,2502.5L1102.4,2499.5L1102.6,2496.6L1102.9,2493.6L1103.3,2490.7L1103.6,2487.8L1104.0,2484.8L1104.4,2481.9L1104.8,2478.9L1105.2,2475.9L1105.6,2473.0L1106.0,2470.0L1106.5,2467.1L1106.9,2464.1L1107.3,2461.1L1107.7,2458.1Z" fill="#8330ea" stroke="#6d26cc" stroke-width="1.2" stroke-linejoin="round"/>
<path d="M1140.9,2451.2L1138.4,2452.8L1135.9,2454.5L1133.4,2456.1L1130.9,2457.7L1128.3,2459.4L1125.8,2461.1L1123.3,2462.7L1120.8,2464.4L1118.3,2466.1L1115.8,2467.7L1113.3,2469.4L1110.8,2471.2L1108.3,2472.9L1105.8,2474.7L1103.4,2476.5L1101.0,2478.3L1098.6,2480.2L1096.2,2482.0L1093.8,2483.8L1091.4,2485.7L1096.9,2492.8L1099.3,2491.0L1101.7,2489.1L1104.0,2487.3L1106.4,2485.5L1108.8,2483.7L1111.2,2482.0L1113.5,2480.3L1115.9,2478.6L1118.4,2476.9L1120.9,2475.2L1123.3,2473.5L1125.8,2471.9L1128.3,2470.2L1130.8,2468.6L1133.3,2466.9L1135.8,2465.3L1138.3,2463.6L1140.8,2462.0L1143.3,2460.3L1145.8,2458.7Z" fill="#8330ea" stroke="#6d26cc" stroke-width="1.2" stroke-linejoin="round"/>
<path d="M1167.4,2491.8L1169.5,2493.9L1171.7,2496.0L1173.8,2498.1L1175.9,2500.2L1178.0,2502.3L1180.2,2504.4L1182.3,2506.5L1184.3,2508.6L1186.4,2510.7L1188.3,2512.8L1190.2,2514.9L1192.1,2517.2L1194.0,2519.4L1195.8,2521.7L1197.7,2524.0L1199.6,2526.4L1208.2,2519.5L1206.3,2517.2L1204.4,2514.8L1202.5,2512.5L1200.5,2510.1L1198.6,2507.8L1196.5,2505.4L1194.3,2503.1L1192.2,2500.9L1190.1,2498.7L1187.9,2496.6L1185.8,2494.5L1183.7,2492.4L1181.5,2490.2L1179.4,2488.1L1177.2,2486.0L1175.1,2483.9Z" fill="#8330ea" stroke="#6d26cc" stroke-width="1.2" stroke-linejoin="round"/>
<path d="M1201.6,2519.0L1199.1,2520.6L1196.5,2522.1L1193.9,2523.6L1191.3,2525.2L1188.7,2526.7L1186.1,2528.2L1183.5,2529.8L1180.9,2531.4L1178.3,2533.0L1175.7,2534.7L1173.2,2536.4L1170.5,2538.3L1168.0,2540.2L1165.7,2542.1L1172.0,2549.9L1174.4,2548.0L1176.6,2546.2L1178.8,2544.6L1181.3,2542.9L1183.7,2541.4L1186.2,2539.9L1188.7,2538.4L1191.3,2536.8L1193.8,2535.3L1196.4,2533.8L1199.0,2532.2L1201.6,2530.7L1204.1,2529.2L1206.7,2527.6Z" fill="#8330ea" stroke="#6d26cc" stroke-width="1.2" stroke-linejoin="round"/>
<path d="M1198.4,2526.3L1199.7,2528.9L1201.1,2531.6L1202.4,2534.3L1203.7,2537.0L1205.1,2539.7L1206.4,2542.4L1207.8,2545.0L1209.1,2547.7L1210.4,2550.4L1211.8,2553.1L1213.1,2555.8L1214.5,2558.5L1215.8,2561.1L1217.2,2563.8L1218.5,2566.5L1219.8,2569.2L1221.2,2571.9L1222.5,2574.6L1223.9,2577.2L1225.2,2579.9L1236.8,2574.1L1235.5,2571.4L1234.1,2568.7L1232.8,2566.1L1231.5,2563.4L1230.1,2560.7L1228.8,2558.0L1227.4,2555.3L1226.1,2552.6L1224.8,2550.0L1223.4,2547.3L1222.1,2544.6L1220.7,2541.9L1219.4,2539.2L1218.0,2536.5L1216.7,2533.9L1215.4,2531.2L1214.0,2528.5L1212.7,2525.8L1211.3,2523.1L1210.0,2520.4Z" fill="#8330ea" stroke="#6d26cc" stroke-width="1.2" stroke-linejoin="round"/>
<path d="M1167.5,2521.6L1170.4,2522.2L1173.4,2522.8L1176.3,2523.4L1179.2,2524.0L1182.2,2524.6L1185.1,2525.3L1188.0,2525.9L1190.9,2526.5L1193.8,2527.1L1196.7,2527.8L1199.6,2528.4L1202.5,2529.1L1205.4,2529.8L1208.4,2530.5L1211.3,2531.2L1214.2,2531.9L1217.1,2532.6L1220.0,2533.3L1222.8,2534.0L1225.7,2534.7L1228.5,2535.5L1231.4,2536.3L1234.1,2537.1L1236.9,2538.0L1239.6,2538.9L1242.1,2539.9L1244.5,2541.0L1246.9,2542.2L1249.5,2543.6L1247.2,2548.0L1262.6,2544.7L1257.7,2528.7L1255.3,2533.1L1252.7,2531.7L1249.7,2530.2L1246.7,2528.8L1243.6,2527.6L1240.6,2526.6L1237.6,2525.6L1234.7,2524.7L1231.7,2523.9L1228.7,2523.1L1225.8,2522.4L1222.8,2521.6L1219.9,2520.9L1217.0,2520.2L1214.0,2519.5L1211.1,2518.8L1208.2,2518.1L1205.3,2517.4L1202.3,2516.7L1199.4,2516.1L1196.4,2515.4L1193.5,2514.8L1190.5,2514.1L1187.6,2513.5L1184.6,2512.9L1181.7,2512.3L1178.7,2511.7L1175.8,2511.1L1172.8,2510.5L1169.9,2509.9Z" fill="#8330ea" stroke="#6d26cc" stroke-width="1.2" stroke-linejoin="round"/>
<path d="M1137,2612 Q1133,2642 1090,2652" fill="none" stroke="#6324bc" stroke-width="19" stroke-linecap="butt"/>
<path d="M1137,2612 Q1133,2642 1090,2652" fill="none" stroke="#8330ea" stroke-width="17" stroke-linecap="butt"/>
<path d="M1090,2646 Q1136,2650 1126,2678" fill="none" stroke="#6324bc" stroke-width="19" stroke-linecap="butt"/>
<path d="M1090,2646 Q1136,2650 1126,2678" fill="none" stroke="#8330ea" stroke-width="17" stroke-linecap="butt"/>
<path d="M1123,2681 Q1120,2706 1079,2712" fill="none" stroke="#6324bc" stroke-width="19" stroke-linecap="butt"/>
<path d="M1123,2681 Q1120,2706 1079,2712" fill="none" stroke="#8330ea" stroke-width="17" stroke-linecap="butt"/>
<path d="M1077.7,1991.0L1079.3,1988.4L1080.9,1985.8L1082.5,1983.3L1084.1,1980.8L1085.7,1978.3L1087.3,1975.8L1089.0,1973.4L1090.6,1971.0L1092.4,1968.5L1094.1,1966.2L1095.8,1963.8L1097.6,1961.5L1099.5,1959.1L1101.3,1956.8L1103.1,1954.4L1105.0,1952.1L1106.9,1949.8L1108.8,1947.5L1110.6,1945.1L1112.5,1942.8L1114.4,1940.5L1116.3,1938.2L1118.2,1935.9L1120.1,1933.7L1122.1,1931.4L1124.0,1929.1L1125.9,1926.9L1127.8,1924.7L1129.8,1922.5L1131.8,1920.3L1133.7,1918.1L1135.7,1916.0L1137.8,1913.9L1139.8,1911.8L1141.9,1909.7L1144.0,1907.5L1146.1,1905.4L1148.3,1903.1L1150.4,1900.9L1152.5,1898.6L1157.6,1902.7L1158.8,1872.8L1131.2,1881.2L1136.3,1885.3L1134.6,1887.6L1132.9,1890.0L1131.1,1892.3L1129.2,1894.6L1127.4,1897.0L1125.6,1899.4L1123.7,1901.9L1121.8,1904.3L1120.0,1906.8L1118.1,1909.3L1116.4,1911.7L1114.6,1914.3L1112.9,1916.9L1111.2,1919.4L1109.5,1921.9L1107.8,1924.4L1106.2,1927.0L1104.5,1929.5L1102.9,1932.1L1101.2,1934.6L1099.6,1937.1L1098.0,1939.7L1096.3,1942.3L1094.7,1944.8L1093.1,1947.4L1091.5,1950.0L1090.0,1952.6L1088.4,1955.2L1086.8,1957.8L1085.3,1960.4L1083.8,1963.1L1082.3,1965.8L1080.9,1968.5L1079.5,1971.2L1078.1,1974.0L1076.8,1976.7L1075.5,1979.4L1074.2,1982.2L1072.9,1984.9L1071.6,1987.5Z" fill="#7c9f39" stroke="#5f8028" stroke-width="1.2" stroke-linejoin="round"/>
<path d="M1123.1,1915.4C1126.6,1913.9 1138.5,1906.9 1143.9,1906.2C1149.3,1905.4 1153.9,1906.9 1155.4,1910.8C1157.0,1914.6 1156.2,1923.1 1153.1,1929.2C1150.1,1935.4 1140.4,1942.3 1137.0,1947.7C1133.5,1953.1 1131.2,1958.1 1132.4,1961.6C1133.5,1965.0 1138.1,1966.9 1143.9,1968.5C1149.7,1970.0 1161.6,1971.2 1167.0,1970.8C1172.4,1970.4 1175.4,1967.7 1176.2,1966.2C1177.0,1964.6 1172.4,1962.3 1171.6,1961.6" fill="none" stroke="#8f8f8f" stroke-width="3.8" stroke-linecap="round" stroke-linejoin="round"/><path d="M1123.1,1915.4C1126.6,1913.9 1138.5,1906.9 1143.9,1906.2C1149.3,1905.4 1153.9,1906.9 1155.4,1910.8C1157.0,1914.6 1156.2,1923.1 1153.1,1929.2C1150.1,1935.4 1140.4,1942.3 1137.0,1947.7C1133.5,1953.1 1131.2,1958.1 1132.4,1961.6C1133.5,1965.0 1138.1,1966.9 1143.9,1968.5C1149.7,1970.0 1161.6,1971.2 1167.0,1970.8C1172.4,1970.4 1175.4,1967.7 1176.2,1966.2C1177.0,1964.6 1172.4,1962.3 1171.6,1961.6" fill="none" stroke="#cfcfcf" stroke-width="2.7" stroke-linecap="round" stroke-linejoin="round"/>
<path d="M1150.8,2000.8C1152.0,2003.5 1154.7,2011.2 1157.7,2017.0C1160.8,2022.7 1167.0,2031.2 1169.3,2035.4C1171.6,2039.6 1173.1,2040.8 1171.6,2042.3C1170.1,2043.9 1164.7,2044.7 1160.1,2044.7C1155.4,2044.7 1146.6,2042.7 1143.9,2042.3" fill="none" stroke="#8f8f8f" stroke-width="3.8" stroke-linecap="round" stroke-linejoin="round"/><path d="M1150.8,2000.8C1152.0,2003.5 1154.7,2011.2 1157.7,2017.0C1160.8,2022.7 1167.0,2031.2 1169.3,2035.4C1171.6,2039.6 1173.1,2040.8 1171.6,2042.3C1170.1,2043.9 1164.7,2044.7 1160.1,2044.7C1155.4,2044.7 1146.6,2042.7 1143.9,2042.3" fill="none" stroke="#cfcfcf" stroke-width="2.7" stroke-linecap="round" stroke-linejoin="round"/>
<path d="M1063.1,1980.0C1059.3,1980.4 1045.4,1980.0 1040.0,1982.3C1034.6,1984.6 1031.6,1988.1 1030.8,1993.9C1030.0,1999.6 1035.4,2010.0 1035.4,2017.0C1035.4,2023.9 1032.3,2030.0 1030.8,2035.4C1029.3,2040.8 1025.4,2045.4 1026.2,2049.3C1027.0,2053.1 1031.6,2056.2 1035.4,2058.5C1039.3,2060.8 1047.0,2062.3 1049.3,2063.1" fill="none" stroke="#8f8f8f" stroke-width="3.8" stroke-linecap="round" stroke-linejoin="round"/><path d="M1063.1,1980.0C1059.3,1980.4 1045.4,1980.0 1040.0,1982.3C1034.6,1984.6 1031.6,1988.1 1030.8,1993.9C1030.0,1999.6 1035.4,2010.0 1035.4,2017.0C1035.4,2023.9 1032.3,2030.0 1030.8,2035.4C1029.3,2040.8 1025.4,2045.4 1026.2,2049.3C1027.0,2053.1 1031.6,2056.2 1035.4,2058.5C1039.3,2060.8 1047.0,2062.3 1049.3,2063.1" fill="none" stroke="#cfcfcf" stroke-width="2.7" stroke-linecap="round" stroke-linejoin="round"/>
<path d="M1067.7,1998.5C1064.7,1998.5 1056.2,1996.9 1049.3,1998.5C1042.3,2000.0 1032.7,2004.3 1026.2,2007.7C1019.6,2011.2 1014.6,2017.0 1010.0,2019.3C1005.4,2021.6 1002.0,2023.5 998.5,2021.6C995.0,2019.6 992.3,2013.1 989.3,2007.7C986.2,2002.3 983.1,1995.0 980.0,1989.3C976.9,1983.5 973.5,1976.9 970.8,1973.1C968.1,1969.3 966.2,1965.8 963.9,1966.2C961.6,1966.6 958.9,1971.6 956.9,1975.4C955.0,1979.3 953.9,1984.6 952.3,1989.3C950.8,1993.9 949.2,1998.1 947.7,2003.1C946.2,2008.1 943.9,2016.6 943.1,2019.3" fill="none" stroke="#8f8f8f" stroke-width="3.8" stroke-linecap="round" stroke-linejoin="round"/><path d="M1067.7,1998.5C1064.7,1998.5 1056.2,1996.9 1049.3,1998.5C1042.3,2000.0 1032.7,2004.3 1026.2,2007.7C1019.6,2011.2 1014.6,2017.0 1010.0,2019.3C1005.4,2021.6 1002.0,2023.5 998.5,2021.6C995.0,2019.6 992.3,2013.1 989.3,2007.7C986.2,2002.3 983.1,1995.0 980.0,1989.3C976.9,1983.5 973.5,1976.9 970.8,1973.1C968.1,1969.3 966.2,1965.8 963.9,1966.2C961.6,1966.6 958.9,1971.6 956.9,1975.4C955.0,1979.3 953.9,1984.6 952.3,1989.3C950.8,1993.9 949.2,1998.1 947.7,2003.1C946.2,2008.1 943.9,2016.6 943.1,2019.3" fill="none" stroke="#cfcfcf" stroke-width="2.7" stroke-linecap="round" stroke-linejoin="round"/>
<path d="M966.2,1970.8C968.5,1971.6 973.9,1974.3 980.0,1975.4C986.2,1976.6 996.2,1976.9 1003.1,1977.7C1010.0,1978.5 1015.4,1978.5 1021.6,1980.0C1027.7,1981.6 1037.0,1985.8 1040.0,1986.9" fill="none" stroke="#8f8f8f" stroke-width="3.8" stroke-linecap="round" stroke-linejoin="round"/><path d="M966.2,1970.8C968.5,1971.6 973.9,1974.3 980.0,1975.4C986.2,1976.6 996.2,1976.9 1003.1,1977.7C1010.0,1978.5 1015.4,1978.5 1021.6,1980.0C1027.7,1981.6 1037.0,1985.8 1040.0,1986.9" fill="none" stroke="#cfcfcf" stroke-width="2.7" stroke-linecap="round" stroke-linejoin="round"/>
<path d="M971.9,2037.7C969.4,2038.5 962.5,2039.3 956.9,2042.3C951.4,2045.4 941.6,2053.9 938.5,2056.2" fill="none" stroke="#8f8f8f" stroke-width="3.8" stroke-linecap="round" stroke-linejoin="round"/><path d="M971.9,2037.7C969.4,2038.5 962.5,2039.3 956.9,2042.3C951.4,2045.4 941.6,2053.9 938.5,2056.2" fill="none" stroke="#cfcfcf" stroke-width="2.7" stroke-linecap="round" stroke-linejoin="round"/>
<path d="M1141.6,2060.8C1143.9,2061.6 1152.4,2062.3 1155.4,2065.4C1158.5,2068.5 1160.1,2074.3 1160.1,2079.3C1160.1,2084.3 1158.1,2091.2 1155.4,2095.4C1152.7,2099.7 1148.1,2103.5 1143.9,2104.7C1139.7,2105.8 1133.9,2104.3 1130.1,2102.4C1126.2,2100.4 1123.9,2095.8 1120.8,2093.1C1117.7,2090.4 1113.1,2087.4 1111.6,2086.2" fill="none" stroke="#8f8f8f" stroke-width="3.8" stroke-linecap="round" stroke-linejoin="round"/><path d="M1141.6,2060.8C1143.9,2061.6 1152.4,2062.3 1155.4,2065.4C1158.5,2068.5 1160.1,2074.3 1160.1,2079.3C1160.1,2084.3 1158.1,2091.2 1155.4,2095.4C1152.7,2099.7 1148.1,2103.5 1143.9,2104.7C1139.7,2105.8 1133.9,2104.3 1130.1,2102.4C1126.2,2100.4 1123.9,2095.8 1120.8,2093.1C1117.7,2090.4 1113.1,2087.4 1111.6,2086.2" fill="none" stroke="#cfcfcf" stroke-width="2.7" stroke-linecap="round" stroke-linejoin="round"/>
<path d="M1044.7,2081.6C1043.9,2084.7 1039.6,2094.3 1040.0,2100.0C1040.4,2105.8 1044.7,2110.8 1047.0,2116.2C1049.3,2121.6 1053.5,2127.0 1053.9,2132.4C1054.3,2137.7 1051.2,2145.1 1049.3,2148.5C1047.3,2152.0 1042.0,2152.2 1042.3,2153.1C1042.7,2154.1 1050.0,2154.1 1051.6,2154.3" fill="none" stroke="#8f8f8f" stroke-width="3.8" stroke-linecap="round" stroke-linejoin="round"/><path d="M1044.7,2081.6C1043.9,2084.7 1039.6,2094.3 1040.0,2100.0C1040.4,2105.8 1044.7,2110.8 1047.0,2116.2C1049.3,2121.6 1053.5,2127.0 1053.9,2132.4C1054.3,2137.7 1051.2,2145.1 1049.3,2148.5C1047.3,2152.0 1042.0,2152.2 1042.3,2153.1C1042.7,2154.1 1050.0,2154.1 1051.6,2154.3" fill="none" stroke="#cfcfcf" stroke-width="2.7" stroke-linecap="round" stroke-linejoin="round"/>
<path d="M1067.7,2104.7C1068.1,2107.4 1070.8,2115.4 1070.0,2120.8C1069.3,2126.2 1065.4,2132.0 1063.1,2137.0C1060.8,2142.0 1057.3,2148.5 1056.2,2150.8" fill="none" stroke="#8f8f8f" stroke-width="3.8" stroke-linecap="round" stroke-linejoin="round"/><path d="M1067.7,2104.7C1068.1,2107.4 1070.8,2115.4 1070.0,2120.8C1069.3,2126.2 1065.4,2132.0 1063.1,2137.0C1060.8,2142.0 1057.3,2148.5 1056.2,2150.8" fill="none" stroke="#cfcfcf" stroke-width="2.7" stroke-linecap="round" stroke-linejoin="round"/>
<path d="M1102.4,2127.7C1100.4,2130.1 1093.5,2136.2 1090.8,2141.6C1088.1,2147.0 1086.2,2154.7 1086.2,2160.1C1086.2,2165.4 1087.4,2170.4 1090.8,2173.9C1094.3,2177.4 1104.3,2178.1 1107.0,2180.8C1109.7,2183.5 1109.3,2186.6 1107.0,2190.1C1104.7,2193.5 1098.1,2197.8 1093.1,2201.6C1088.1,2205.5 1080.8,2208.9 1077.0,2213.1C1073.1,2217.4 1071.6,2223.1 1070.0,2227.0C1068.5,2230.8 1068.1,2234.7 1067.7,2236.2" fill="none" stroke="#8f8f8f" stroke-width="3.8" stroke-linecap="round" stroke-linejoin="round"/><path d="M1102.4,2127.7C1100.4,2130.1 1093.5,2136.2 1090.8,2141.6C1088.1,2147.0 1086.2,2154.7 1086.2,2160.1C1086.2,2165.4 1087.4,2170.4 1090.8,2173.9C1094.3,2177.4 1104.3,2178.1 1107.0,2180.8C1109.7,2183.5 1109.3,2186.6 1107.0,2190.1C1104.7,2193.5 1098.1,2197.8 1093.1,2201.6C1088.1,2205.5 1080.8,2208.9 1077.0,2213.1C1073.1,2217.4 1071.6,2223.1 1070.0,2227.0C1068.5,2230.8 1068.1,2234.7 1067.7,2236.2" fill="none" stroke="#cfcfcf" stroke-width="2.7" stroke-linecap="round" stroke-linejoin="round"/>
<path d="M1090.0,2255.4C1090.4,2258.9 1090.4,2269.3 1092.3,2276.2C1094.3,2283.1 1097.7,2289.7 1101.6,2297.0C1105.4,2304.3 1112.4,2313.1 1115.4,2320.0C1118.5,2327.0 1120.4,2332.4 1120.0,2338.5C1119.7,2344.7 1113.9,2351.6 1113.1,2357.0C1112.4,2362.4 1112.7,2367.7 1115.4,2370.8C1118.1,2373.9 1124.7,2374.3 1129.3,2375.4C1133.9,2376.6 1139.7,2375.1 1143.1,2377.7C1146.6,2380.4 1147.7,2386.2 1150.1,2391.6C1152.4,2397.0 1153.1,2405.1 1157.0,2410.1C1160.8,2415.1 1169.3,2417.4 1173.1,2421.6C1177.0,2425.8 1180.1,2430.8 1180.1,2435.5C1180.1,2440.1 1177.0,2446.6 1173.1,2449.3C1169.3,2452.0 1162.4,2452.8 1157.0,2451.6C1151.6,2450.5 1143.5,2443.9 1140.8,2442.4" fill="none" stroke="#8f8f8f" stroke-width="3.8" stroke-linecap="round" stroke-linejoin="round"/><path d="M1090.0,2255.4C1090.4,2258.9 1090.4,2269.3 1092.3,2276.2C1094.3,2283.1 1097.7,2289.7 1101.6,2297.0C1105.4,2304.3 1112.4,2313.1 1115.4,2320.0C1118.5,2327.0 1120.4,2332.4 1120.0,2338.5C1119.7,2344.7 1113.9,2351.6 1113.1,2357.0C1112.4,2362.4 1112.7,2367.7 1115.4,2370.8C1118.1,2373.9 1124.7,2374.3 1129.3,2375.4C1133.9,2376.6 1139.7,2375.1 1143.1,2377.7C1146.6,2380.4 1147.7,2386.2 1150.1,2391.6C1152.4,2397.0 1153.1,2405.1 1157.0,2410.1C1160.8,2415.1 1169.3,2417.4 1173.1,2421.6C1177.0,2425.8 1180.1,2430.8 1180.1,2435.5C1180.1,2440.1 1177.0,2446.6 1173.1,2449.3C1169.3,2452.0 1162.4,2452.8 1157.0,2451.6C1151.6,2450.5 1143.5,2443.9 1140.8,2442.4" fill="none" stroke="#cfcfcf" stroke-width="2.7" stroke-linecap="round" stroke-linejoin="round"/>
<path d="M1178.7,1899.5L1176.2,1901.3L1173.8,1903.1L1171.4,1904.9L1169.0,1906.7L1166.6,1908.4L1164.1,1910.2L1161.7,1912.0L1159.3,1913.7L1156.9,1915.5L1154.5,1917.2L1152.1,1918.9L1149.6,1920.6L1147.2,1922.3L1144.8,1924.0L1142.3,1925.7L1139.8,1927.3L1137.3,1929.0L1134.9,1930.7L1132.4,1932.3L1129.9,1934.0L1127.4,1935.6L1124.9,1937.2L1122.4,1938.9L1119.9,1940.5L1117.3,1942.1L1114.8,1943.8L1112.3,1945.4L1109.8,1947.0L1107.3,1948.6L1104.7,1950.2L1102.2,1951.8L1099.7,1953.4L1097.1,1954.9L1094.6,1956.5L1092.0,1958.0L1089.5,1959.5L1086.9,1961.0L1084.3,1962.5L1081.7,1964.0L1079.1,1965.5L1076.5,1967.0L1073.9,1968.4L1071.3,1969.9L1068.7,1971.4L1071.5,1976.9L1074.3,1975.6L1077.0,1974.3L1079.7,1973.1L1082.4,1971.8L1085.1,1970.5L1087.8,1969.2L1090.6,1967.9L1093.3,1966.5L1096.0,1965.2L1098.7,1963.8L1101.4,1962.5L1104.1,1961.1L1106.7,1959.7L1109.4,1958.3L1112.1,1956.8L1114.7,1955.4L1117.4,1954.0L1120.0,1952.5L1122.7,1951.1L1125.3,1949.7L1128.0,1948.2L1130.6,1946.8L1133.2,1945.3L1135.9,1943.8L1138.5,1942.4L1141.1,1940.9L1143.7,1939.4L1146.4,1937.9L1149.0,1936.4L1151.6,1934.9L1154.2,1933.4L1156.9,1931.8L1159.5,1930.3L1162.1,1928.7L1164.6,1927.1L1167.2,1925.5L1169.8,1924.0L1172.4,1922.4L1174.9,1920.8L1177.5,1919.2L1180.0,1917.6L1182.6,1916.0L1185.1,1914.4L1187.6,1912.8Z" fill="#cfcfcf" stroke="#8f8f8f" stroke-width="1.2" stroke-linejoin="round"/>
<path d="M1167.0,1901.5L1183.1,1894.6L1188.9,1909.6L1173.9,1917.7Z" fill="#f0a050" stroke="#c8853f" stroke-width="1.2" stroke-linejoin="round"/>
<path d="M1036.8,2001.6L1039.6,2000.7L1042.5,1999.8L1045.4,1998.9L1048.4,1997.8L1051.4,1996.6L1054.6,1995.0L1057.5,1993.2L1059.9,1991.5L1062.4,1989.6L1064.8,1987.6L1059.2,1980.6L1056.9,1982.5L1054.7,1984.2L1052.2,1985.9L1050.0,1987.3L1047.7,1988.3L1045.3,1989.4L1042.6,1990.3L1039.7,1991.2L1036.9,1992.1L1034.0,1993.1Z" fill="#bdbdbd" stroke="#8f8f8f" stroke-width="1.2" stroke-linejoin="round"/>
<path d="M1063.9,1981.1L1067.0,1980.4L1069.9,1979.6L1072.8,1978.9L1075.7,1978.2L1078.5,1977.6L1081.3,1977.1L1084.0,1976.7L1087.0,1976.4L1089.7,1976.3L1092.5,1976.2L1095.3,1976.3L1098.2,1976.5L1101.1,1976.7L1104.0,1977.0L1107.0,1977.3L1109.9,1977.6L1112.9,1978.0L1115.8,1978.3L1118.8,1978.7L1118.6,1983.2L1134.1,1972.6L1119.8,1960.2L1119.5,1964.8L1116.5,1964.8L1113.5,1964.9L1110.5,1965.0L1107.4,1965.1L1104.3,1965.2L1101.3,1965.3L1098.2,1965.5L1095.0,1965.8L1091.9,1966.1L1088.7,1966.6L1085.4,1967.2L1082.5,1967.9L1079.4,1968.8L1076.4,1969.8L1073.4,1970.9L1070.6,1972.0L1067.7,1973.1L1065.0,1974.3L1062.3,1975.3Z" fill="#f0f0f0" stroke="#8f8f8f" stroke-width="1.2" stroke-linejoin="round"/>
<path d="M1066.7,1992.6L1069.7,1992.8L1072.8,1992.9L1075.8,1993.0L1078.8,1993.2L1081.7,1993.3L1084.7,1993.5L1087.6,1993.7L1090.5,1993.9L1093.5,1994.2L1096.4,1994.5L1099.3,1994.8L1102.2,1995.2L1105.1,1995.6L1108.0,1996.0L1111.0,1996.5L1113.9,1997.0L1116.9,1997.5L1119.8,1998.1L1122.8,1998.6L1125.7,1999.2L1128.7,1999.7L1131.6,2000.3L1134.6,2000.8L1137.5,2001.4L1140.5,2002.0L1143.4,2002.6L1146.4,2003.1L1147.4,1999.2L1144.6,1998.2L1141.8,1997.2L1138.9,1996.2L1136.1,1995.2L1133.2,1994.2L1130.4,1993.2L1127.5,1992.2L1124.7,1991.3L1121.8,1990.3L1119.0,1989.3L1116.1,1988.4L1113.2,1987.4L1110.3,1986.5L1107.4,1985.6L1104.5,1984.7L1101.5,1983.9L1098.5,1983.1L1095.4,1982.3L1092.5,1981.6L1089.5,1980.9L1086.5,1980.3L1083.5,1979.7L1080.5,1979.1L1077.5,1978.5L1074.6,1977.9L1071.7,1977.3L1068.8,1976.7Z" fill="#cfcfcf" stroke="#8f8f8f" stroke-width="1.2" stroke-linejoin="round"/>
<path d="M1072.0,2001.5L1074.1,2003.6L1076.1,2005.8L1078.2,2008.0L1080.2,2010.2L1082.3,2012.4L1084.5,2014.6L1086.6,2016.8L1088.8,2019.0L1091.1,2021.2L1093.5,2023.3L1095.9,2025.5L1098.2,2027.4L1100.9,2029.4L1103.5,2031.2L1106.1,2033.0L1108.7,2034.8L1111.3,2036.5L1113.9,2038.1L1116.5,2039.7L1113.7,2045.1L1136.7,2039.9L1127.5,2018.5L1124.7,2023.9L1121.9,2022.7L1119.2,2021.6L1116.5,2020.5L1113.9,2019.3L1111.3,2018.1L1108.8,2016.9L1106.3,2015.7L1103.7,2014.2L1101.3,2012.7L1098.9,2011.2L1096.5,2009.6L1094.1,2008.0L1091.7,2006.3L1089.4,2004.5L1087.0,2002.7L1084.6,2000.9L1082.2,1999.1L1079.8,1997.3L1077.3,1995.5Z" fill="#cfcfcf" stroke="#8f8f8f" stroke-width="1.2" stroke-linejoin="round"/>
<path d="M967.8,2044.0L970.5,2045.2L973.3,2046.4L976.0,2047.7L978.8,2048.9L981.5,2050.1L984.3,2051.4L987.0,2052.6L989.8,2053.8L992.5,2055.0L995.3,2056.3L998.0,2057.5L1000.8,2058.7L1003.6,2059.9L1006.3,2061.2L1009.1,2062.4L1011.8,2063.6L1014.6,2064.8L1017.3,2066.0L1020.1,2067.3L1022.9,2068.5L1025.6,2069.7L1028.1,2065.2L1025.6,2063.5L1023.1,2061.8L1020.7,2060.1L1018.2,2058.4L1015.7,2056.7L1013.2,2055.0L1010.7,2053.2L1008.3,2051.5L1005.8,2049.8L1003.3,2048.1L1000.8,2046.4L998.4,2044.7L995.9,2043.0L993.4,2041.2L991.0,2039.5L988.5,2037.8L986.0,2036.1L983.5,2034.3L981.1,2032.6L978.6,2030.9L976.1,2029.2Z" fill="#cfcfcf" stroke="#8f8f8f" stroke-width="1.2" stroke-linejoin="round"/>
<path d="M951.7,2093.1L954.5,2092.0L957.3,2090.8L960.1,2089.7L962.8,2088.5L965.5,2087.4L968.2,2086.4L971.0,2085.4L973.7,2084.5L976.5,2083.6L979.3,2082.9L982.2,2082.1L985.0,2081.4L987.9,2080.7L990.7,2080.1L993.6,2079.5L996.4,2078.9L999.3,2078.4L1002.1,2078.0L1005.1,2077.6L1008.0,2077.3L1010.7,2077.2L1013.5,2077.2L1016.3,2077.3L1019.2,2077.5L1022.0,2077.7L1025.0,2078.0L1027.9,2078.3L1030.9,2078.7L1034.0,2079.0L1034.8,2070.1L1032.0,2069.8L1029.0,2069.4L1026.0,2069.1L1023.0,2068.7L1019.9,2068.5L1016.7,2068.3L1013.6,2068.2L1010.3,2068.2L1007.1,2068.3L1004.0,2068.7L1001.0,2069.0L997.9,2069.5L994.8,2070.1L991.8,2070.7L988.8,2071.3L985.8,2072.0L982.8,2072.7L979.9,2073.4L976.9,2074.2L973.9,2075.0L971.0,2075.9L968.1,2076.9L965.1,2078.0L962.2,2079.1L959.4,2080.2L956.6,2081.4L953.8,2082.5L951.1,2083.7L948.3,2084.8Z" fill="#cfcfcf" stroke="#8f8f8f" stroke-width="1.2" stroke-linejoin="round"/>
<path d="M1056.6,2066.0L1059.6,2065.7L1062.6,2065.3L1065.6,2064.9L1068.5,2064.5L1071.5,2064.1L1074.4,2063.8L1077.3,2063.5L1080.2,2063.3L1083.2,2063.1L1086.1,2063.0L1089.0,2062.9L1091.9,2063.0L1094.8,2063.1L1097.7,2063.3L1100.7,2063.5L1103.6,2063.8L1106.6,2064.0L1109.6,2064.3L1112.5,2064.6L1115.5,2065.0L1118.4,2065.3L1121.4,2065.6L1124.4,2066.0L1124.2,2069.0L1139.8,2061.7L1125.4,2052.1L1125.2,2055.2L1122.2,2055.1L1119.2,2055.0L1116.2,2054.9L1113.1,2054.8L1110.1,2054.8L1107.1,2054.7L1104.1,2054.7L1101.0,2054.7L1098.0,2054.7L1094.9,2054.8L1091.8,2054.9L1088.7,2055.1L1085.6,2055.4L1082.5,2055.8L1079.5,2056.3L1076.5,2056.8L1073.5,2057.3L1070.5,2057.9L1067.5,2058.5L1064.5,2059.2L1061.6,2059.9L1058.7,2060.5L1055.8,2061.1Z" fill="#bdbdbd" stroke="#8f8f8f" stroke-width="1.2" stroke-linejoin="round"/>
<path d="M1051.3,2080.0L1054.3,2080.4L1057.3,2080.9L1060.2,2081.4L1063.2,2081.8L1066.2,2082.3L1069.2,2082.8L1072.1,2083.3L1075.1,2083.7L1078.1,2084.2L1081.0,2084.7L1084.0,2085.2L1087.0,2085.6L1089.9,2086.1L1092.9,2086.6L1095.9,2087.1L1098.8,2087.6L1101.8,2088.0L1104.8,2088.5L1107.8,2089.0L1110.7,2089.5L1112.0,2074.6L1109.0,2074.5L1106.0,2074.5L1103.0,2074.5L1100.0,2074.4L1097.0,2074.4L1094.0,2074.4L1090.9,2074.3L1087.9,2074.3L1084.9,2074.3L1081.9,2074.2L1078.9,2074.2L1075.9,2074.2L1072.9,2074.2L1069.9,2074.1L1066.9,2074.1L1063.9,2074.1L1060.8,2074.0L1057.8,2074.0L1054.8,2074.0L1051.8,2074.0Z" fill="#cfcfcf" stroke="#8f8f8f" stroke-width="1.2" stroke-linejoin="round"/>
<path d="M1045.4,2083.4L1047.4,2085.7L1049.3,2088.0L1051.3,2090.3L1053.3,2092.6L1055.3,2094.9L1057.3,2097.2L1059.4,2099.5L1061.6,2101.8L1063.8,2104.1L1066.1,2106.3L1068.3,2108.5L1070.5,2110.5L1072.8,2112.7L1069.5,2117.2L1092.7,2115.9L1086.5,2093.7L1083.2,2098.2L1080.6,2096.8L1078.0,2095.3L1075.5,2093.9L1072.9,2092.4L1070.5,2090.9L1068.1,2089.4L1065.6,2087.8L1063.1,2086.1L1060.7,2084.4L1058.2,2082.7L1055.8,2081.0L1053.3,2079.2L1050.8,2077.5Z" fill="#f0f0f0" stroke="#8f8f8f" stroke-width="1.2" stroke-linejoin="round"/>
<path d="M1093.1,2116.2L1102.4,2127.7" fill="none" stroke="#8f8f8f" stroke-width="3.8" stroke-linecap="round" stroke-linejoin="round"/><path d="M1093.1,2116.2L1102.4,2127.7" fill="none" stroke="#cfcfcf" stroke-width="2.7" stroke-linecap="round" stroke-linejoin="round"/>
<path d="M1063.1,2234.4L1081.6,2236.7L1090.8,2257.5L1077.0,2248.2L1065.4,2243.6Z" fill="#cfcfcf" stroke="#8f8f8f" stroke-width="1.2" stroke-linejoin="round"/>
<path d="M1058.3,2027.1L1059.9,2024.6L1061.6,2022.1L1063.2,2019.6L1064.8,2017.1L1066.5,2014.7L1068.1,2012.3L1069.7,2009.9L1071.5,2007.5L1073.2,2005.1L1074.9,2002.8L1076.7,2000.4L1078.5,1998.0L1080.3,1995.6L1067.5,1986.0L1065.7,1988.4L1063.9,1990.8L1062.1,1993.2L1060.3,1995.7L1058.5,1998.2L1056.7,2000.6L1054.9,2003.2L1053.2,2005.7L1051.5,2008.3L1049.8,2010.8L1048.2,2013.3L1046.5,2015.8L1044.9,2018.3Z" fill="#8db83f" stroke="#5f8028" stroke-width="1.2" stroke-linejoin="round"/>
<path d="M980.4,1467.2C979.1,1469.2 975.2,1476.3 972.4,1479.2C969.5,1482.2 966.6,1482.3 963.1,1485.0C959.7,1487.7 954.5,1491.4 951.6,1495.4C948.7,1499.4 946.2,1504.2 945.8,1509.2C945.4,1514.2 947.7,1520.0 949.3,1525.4C950.8,1530.8 954.1,1538.9 955.0,1541.6" fill="none" stroke="#6a8e2e" stroke-width="3.8" stroke-linecap="round" stroke-linejoin="round"/><path d="M980.4,1467.2C979.1,1469.2 975.2,1476.3 972.4,1479.2C969.5,1482.2 966.6,1482.3 963.1,1485.0C959.7,1487.7 954.5,1491.4 951.6,1495.4C948.7,1499.4 946.2,1504.2 945.8,1509.2C945.4,1514.2 947.7,1520.0 949.3,1525.4C950.8,1530.8 954.1,1538.9 955.0,1541.6" fill="none" stroke="#86ac3e" stroke-width="2.7" stroke-linecap="round" stroke-linejoin="round"/>
<path d="M876.6,1512.7C877.5,1512.1 879.8,1508.9 882.3,1509.2C884.8,1509.6 888.1,1515.4 891.6,1515.0C895.0,1514.6 900.4,1511.0 903.1,1506.9C905.8,1502.9 905.6,1494.0 907.7,1490.8C909.8,1487.5 912.9,1486.5 915.8,1487.3C918.7,1488.1 921.0,1493.5 925.0,1495.4C929.1,1497.3 934.9,1499.0 940.0,1498.9C945.2,1498.7 952.5,1494.0 956.2,1494.2C959.9,1494.5 961.0,1499.4 962.0,1500.5" fill="none" stroke="#6a8e2e" stroke-width="3.8" stroke-linecap="round" stroke-linejoin="round"/><path d="M876.6,1512.7C877.5,1512.1 879.8,1508.9 882.3,1509.2C884.8,1509.6 888.1,1515.4 891.6,1515.0C895.0,1514.6 900.4,1511.0 903.1,1506.9C905.8,1502.9 905.6,1494.0 907.7,1490.8C909.8,1487.5 912.9,1486.5 915.8,1487.3C918.7,1488.1 921.0,1493.5 925.0,1495.4C929.1,1497.3 934.9,1499.0 940.0,1498.9C945.2,1498.7 952.5,1494.0 956.2,1494.2C959.9,1494.5 961.0,1499.4 962.0,1500.5" fill="none" stroke="#86ac3e" stroke-width="2.7" stroke-linecap="round" stroke-linejoin="round"/>
<path d="M955.0,1494.2C957.9,1492.3 966.0,1484.0 972.4,1482.7C978.7,1481.4 988.5,1482.1 993.1,1486.2C997.7,1490.2 999.7,1500.4 1000.1,1506.9C1000.4,1513.5 998.5,1520.2 995.4,1525.4C992.4,1530.6 985.8,1535.0 981.6,1538.1C977.4,1541.2 973.9,1543.3 970.1,1543.9C966.2,1544.4 961.2,1544.3 958.5,1541.6C955.8,1538.9 954.7,1530.0 953.9,1527.7" fill="none" stroke="#6a8e2e" stroke-width="3.8" stroke-linecap="round" stroke-linejoin="round"/><path d="M955.0,1494.2C957.9,1492.3 966.0,1484.0 972.4,1482.7C978.7,1481.4 988.5,1482.1 993.1,1486.2C997.7,1490.2 999.7,1500.4 1000.1,1506.9C1000.4,1513.5 998.5,1520.2 995.4,1525.4C992.4,1530.6 985.8,1535.0 981.6,1538.1C977.4,1541.2 973.9,1543.3 970.1,1543.9C966.2,1544.4 961.2,1544.3 958.5,1541.6C955.8,1538.9 954.7,1530.0 953.9,1527.7" fill="none" stroke="#86ac3e" stroke-width="2.7" stroke-linecap="round" stroke-linejoin="round"/>
<path d="M953.9,1541.6C957.0,1541.4 965.8,1538.9 972.4,1540.4C978.9,1541.9 988.5,1546.0 993.1,1550.8C997.7,1555.6 1000.1,1564.8 1000.1,1569.3C1000.1,1573.7 997.0,1576.0 993.1,1577.3C989.3,1578.7 979.7,1577.3 977.0,1577.3" fill="none" stroke="#6a8e2e" stroke-width="3.8" stroke-linecap="round" stroke-linejoin="round"/><path d="M953.9,1541.6C957.0,1541.4 965.8,1538.9 972.4,1540.4C978.9,1541.9 988.5,1546.0 993.1,1550.8C997.7,1555.6 1000.1,1564.8 1000.1,1569.3C1000.1,1573.7 997.0,1576.0 993.1,1577.3C989.3,1578.7 979.7,1577.3 977.0,1577.3" fill="none" stroke="#86ac3e" stroke-width="2.7" stroke-linecap="round" stroke-linejoin="round"/>
<path d="M751.9,1566.5C754.0,1565.0 760.2,1559.8 764.6,1557.7C769.1,1555.7 773.9,1554.2 778.5,1554.3C783.1,1554.3 790.0,1557.5 792.3,1558.2" fill="none" stroke="#6a8e2e" stroke-width="3.8" stroke-linecap="round" stroke-linejoin="round"/><path d="M751.9,1566.5C754.0,1565.0 760.2,1559.8 764.6,1557.7C769.1,1555.7 773.9,1554.2 778.5,1554.3C783.1,1554.3 790.0,1557.5 792.3,1558.2" fill="none" stroke="#86ac3e" stroke-width="2.7" stroke-linecap="round" stroke-linejoin="round"/>
<path d="M809.6,1560.0C812.9,1561.0 822.9,1565.8 829.3,1565.8C835.6,1565.8 842.0,1562.3 847.7,1560.0C853.5,1557.7 859.3,1556.6 863.9,1551.9C868.5,1547.3 872.3,1538.7 875.4,1532.3C878.5,1526.0 881.2,1516.9 882.3,1513.9" fill="none" stroke="#6a8e2e" stroke-width="3.8" stroke-linecap="round" stroke-linejoin="round"/><path d="M809.6,1560.0C812.9,1561.0 822.9,1565.8 829.3,1565.8C835.6,1565.8 842.0,1562.3 847.7,1560.0C853.5,1557.7 859.3,1556.6 863.9,1551.9C868.5,1547.3 872.3,1538.7 875.4,1532.3C878.5,1526.0 881.2,1516.9 882.3,1513.9" fill="none" stroke="#86ac3e" stroke-width="2.7" stroke-linecap="round" stroke-linejoin="round"/>
<path d="M738.1,1587.7C741.4,1587.9 751.4,1588.3 757.7,1588.9C764.1,1589.5 773.1,1590.8 776.2,1591.2" fill="none" stroke="#6a8e2e" stroke-width="3.8" stroke-linecap="round" stroke-linejoin="round"/><path d="M738.1,1587.7C741.4,1587.9 751.4,1588.3 757.7,1588.9C764.1,1589.5 773.1,1590.8 776.2,1591.2" fill="none" stroke="#86ac3e" stroke-width="2.7" stroke-linecap="round" stroke-linejoin="round"/>
<path d="M1007.0,1578.5C1009.7,1577.7 1018.5,1574.3 1023.1,1573.9C1027.8,1573.5 1033.1,1573.9 1034.7,1576.2C1036.2,1578.5 1035.1,1584.3 1032.4,1587.7C1029.7,1591.2 1022.4,1593.9 1018.5,1597.0C1014.7,1600.0 1010.4,1602.7 1009.3,1606.2C1008.1,1609.6 1013.1,1615.8 1011.6,1617.7C1010.1,1619.6 1004.7,1618.1 1000.1,1617.7C995.4,1617.3 986.6,1615.8 983.9,1615.4" fill="none" stroke="#6a8e2e" stroke-width="3.8" stroke-linecap="round" stroke-linejoin="round"/><path d="M1007.0,1578.5C1009.7,1577.7 1018.5,1574.3 1023.1,1573.9C1027.8,1573.5 1033.1,1573.9 1034.7,1576.2C1036.2,1578.5 1035.1,1584.3 1032.4,1587.7C1029.7,1591.2 1022.4,1593.9 1018.5,1597.0C1014.7,1600.0 1010.4,1602.7 1009.3,1606.2C1008.1,1609.6 1013.1,1615.8 1011.6,1617.7C1010.1,1619.6 1004.7,1618.1 1000.1,1617.7C995.4,1617.3 986.6,1615.8 983.9,1615.4" fill="none" stroke="#86ac3e" stroke-width="2.7" stroke-linecap="round" stroke-linejoin="round"/>
<path d="M1023.1,1629.3C1025.1,1627.0 1030.1,1618.1 1034.7,1615.4C1039.3,1612.7 1045.8,1611.6 1050.8,1613.1C1055.8,1614.6 1062.0,1620.0 1064.7,1624.7C1067.4,1629.3 1068.1,1635.8 1067.0,1640.8C1065.8,1645.8 1062.0,1651.2 1057.8,1654.7C1053.5,1658.1 1044.3,1660.4 1041.6,1661.6" fill="none" stroke="#6a8e2e" stroke-width="3.8" stroke-linecap="round" stroke-linejoin="round"/><path d="M1023.1,1629.3C1025.1,1627.0 1030.1,1618.1 1034.7,1615.4C1039.3,1612.7 1045.8,1611.6 1050.8,1613.1C1055.8,1614.6 1062.0,1620.0 1064.7,1624.7C1067.4,1629.3 1068.1,1635.8 1067.0,1640.8C1065.8,1645.8 1062.0,1651.2 1057.8,1654.7C1053.5,1658.1 1044.3,1660.4 1041.6,1661.6" fill="none" stroke="#86ac3e" stroke-width="2.7" stroke-linecap="round" stroke-linejoin="round"/>
<path d="M977.0,1648.9C980.1,1651.0 988.5,1657.5 995.4,1661.6C1002.4,1665.6 1013.1,1669.7 1018.5,1673.1C1023.9,1676.6 1027.0,1679.7 1027.8,1682.4C1028.5,1685.0 1026.6,1688.1 1023.1,1689.3C1019.7,1690.4 1016.2,1688.5 1007.0,1689.3C997.7,1690.0 974.3,1693.1 967.7,1693.9" fill="none" stroke="#6a8e2e" stroke-width="3.8" stroke-linecap="round" stroke-linejoin="round"/><path d="M977.0,1648.9C980.1,1651.0 988.5,1657.5 995.4,1661.6C1002.4,1665.6 1013.1,1669.7 1018.5,1673.1C1023.9,1676.6 1027.0,1679.7 1027.8,1682.4C1028.5,1685.0 1026.6,1688.1 1023.1,1689.3C1019.7,1690.4 1016.2,1688.5 1007.0,1689.3C997.7,1690.0 974.3,1693.1 967.7,1693.9" fill="none" stroke="#86ac3e" stroke-width="2.7" stroke-linecap="round" stroke-linejoin="round"/>
<path d="M825.8,1643.1C822.9,1643.1 814.4,1642.7 808.5,1643.1C802.5,1643.5 793.9,1643.5 790.0,1645.4C786.2,1647.3 787.7,1652.3 785.4,1654.7C783.1,1657.0 780.0,1658.1 776.2,1659.3C772.3,1660.4 764.6,1661.2 762.3,1661.6" fill="none" stroke="#6a8e2e" stroke-width="3.8" stroke-linecap="round" stroke-linejoin="round"/><path d="M825.8,1643.1C822.9,1643.1 814.4,1642.7 808.5,1643.1C802.5,1643.5 793.9,1643.5 790.0,1645.4C786.2,1647.3 787.7,1652.3 785.4,1654.7C783.1,1657.0 780.0,1658.1 776.2,1659.3C772.3,1660.4 764.6,1661.2 762.3,1661.6" fill="none" stroke="#86ac3e" stroke-width="2.7" stroke-linecap="round" stroke-linejoin="round"/>
<path d="M753.1,1655.8C754.6,1656.8 759.6,1659.5 762.3,1661.6C765.0,1663.7 765.0,1667.0 769.2,1668.5C773.5,1670.0 782.3,1670.0 787.7,1670.8C793.1,1671.6 797.3,1671.6 801.6,1673.1C805.8,1674.7 810.0,1677.4 813.1,1680.0C816.2,1682.7 815.8,1687.0 820.0,1689.3C824.3,1691.6 832.3,1692.7 838.5,1693.9C844.6,1695.0 853.9,1695.8 857.0,1696.2" fill="none" stroke="#6a8e2e" stroke-width="3.8" stroke-linecap="round" stroke-linejoin="round"/><path d="M753.1,1655.8C754.6,1656.8 759.6,1659.5 762.3,1661.6C765.0,1663.7 765.0,1667.0 769.2,1668.5C773.5,1670.0 782.3,1670.0 787.7,1670.8C793.1,1671.6 797.3,1671.6 801.6,1673.1C805.8,1674.7 810.0,1677.4 813.1,1680.0C816.2,1682.7 815.8,1687.0 820.0,1689.3C824.3,1691.6 832.3,1692.7 838.5,1693.9C844.6,1695.0 853.9,1695.8 857.0,1696.2" fill="none" stroke="#86ac3e" stroke-width="2.7" stroke-linecap="round" stroke-linejoin="round"/>
<path d="M749.6,1684.7C750.2,1686.6 750.6,1692.7 753.1,1696.2C755.6,1699.7 760.8,1703.9 764.6,1705.4C768.5,1707.0 771.2,1706.4 776.2,1705.4C781.2,1704.5 791.6,1700.6 794.6,1699.7" fill="none" stroke="#6a8e2e" stroke-width="3.8" stroke-linecap="round" stroke-linejoin="round"/><path d="M749.6,1684.7C750.2,1686.6 750.6,1692.7 753.1,1696.2C755.6,1699.7 760.8,1703.9 764.6,1705.4C768.5,1707.0 771.2,1706.4 776.2,1705.4C781.2,1704.5 791.6,1700.6 794.6,1699.7" fill="none" stroke="#86ac3e" stroke-width="2.7" stroke-linecap="round" stroke-linejoin="round"/>
<path d="M762.3,1745.8C764.6,1744.5 770.6,1740.1 776.2,1737.7C781.7,1735.4 792.5,1732.9 795.8,1732.0" fill="none" stroke="#6a8e2e" stroke-width="3.8" stroke-linecap="round" stroke-linejoin="round"/><path d="M762.3,1745.8C764.6,1744.5 770.6,1740.1 776.2,1737.7C781.7,1735.4 792.5,1732.9 795.8,1732.0" fill="none" stroke="#86ac3e" stroke-width="2.7" stroke-linecap="round" stroke-linejoin="round"/>
<path d="M773.9,1767.8C774.6,1770.1 779.2,1777.4 778.5,1781.6C777.7,1785.8 771.4,1790.3 769.2,1793.1C767.1,1796.0 764.6,1797.8 765.8,1798.9C766.9,1800.1 771.7,1802.2 776.2,1800.1C780.6,1798.0 786.9,1789.3 792.3,1786.2C797.7,1783.1 802.3,1782.8 808.5,1781.6C814.6,1780.5 823.9,1779.7 829.3,1779.3C834.6,1778.9 837.9,1778.1 840.8,1779.3C843.7,1780.5 846.2,1783.1 846.6,1786.2C847.0,1789.3 844.8,1793.9 843.1,1797.8C841.4,1801.6 836.2,1805.1 836.2,1809.3C836.2,1813.5 838.9,1818.5 843.1,1823.2C847.3,1827.8 855.4,1834.3 861.6,1837.0C867.7,1839.7 875.0,1840.5 880.0,1839.3C885.0,1838.2 889.7,1834.3 891.6,1830.1C893.5,1825.8 890.8,1818.1 891.6,1813.9C892.3,1809.7 895.4,1806.2 896.2,1804.7" fill="none" stroke="#6a8e2e" stroke-width="3.8" stroke-linecap="round" stroke-linejoin="round"/><path d="M773.9,1767.8C774.6,1770.1 779.2,1777.4 778.5,1781.6C777.7,1785.8 771.4,1790.3 769.2,1793.1C767.1,1796.0 764.6,1797.8 765.8,1798.9C766.9,1800.1 771.7,1802.2 776.2,1800.1C780.6,1798.0 786.9,1789.3 792.3,1786.2C797.7,1783.1 802.3,1782.8 808.5,1781.6C814.6,1780.5 823.9,1779.7 829.3,1779.3C834.6,1778.9 837.9,1778.1 840.8,1779.3C843.7,1780.5 846.2,1783.1 846.6,1786.2C847.0,1789.3 844.8,1793.9 843.1,1797.8C841.4,1801.6 836.2,1805.1 836.2,1809.3C836.2,1813.5 838.9,1818.5 843.1,1823.2C847.3,1827.8 855.4,1834.3 861.6,1837.0C867.7,1839.7 875.0,1840.5 880.0,1839.3C885.0,1838.2 889.7,1834.3 891.6,1830.1C893.5,1825.8 890.8,1818.1 891.6,1813.9C892.3,1809.7 895.4,1806.2 896.2,1804.7" fill="none" stroke="#86ac3e" stroke-width="2.7" stroke-linecap="round" stroke-linejoin="round"/>
<path d="M787.7,1772.4L796.9,1767.8" fill="none" stroke="#6a8e2e" stroke-width="3.8" stroke-linecap="round" stroke-linejoin="round"/><path d="M787.7,1772.4L796.9,1767.8" fill="none" stroke="#86ac3e" stroke-width="2.7" stroke-linecap="round" stroke-linejoin="round"/>
<path d="M940.0,1781.6C941.6,1783.1 946.6,1787.0 949.3,1790.8C952.0,1794.7 955.8,1800.1 956.2,1804.7C956.6,1809.3 953.9,1815.5 951.6,1818.5C949.3,1821.6 946.2,1822.8 942.4,1823.2C938.5,1823.5 930.8,1821.2 928.5,1820.8" fill="none" stroke="#6a8e2e" stroke-width="3.8" stroke-linecap="round" stroke-linejoin="round"/><path d="M940.0,1781.6C941.6,1783.1 946.6,1787.0 949.3,1790.8C952.0,1794.7 955.8,1800.1 956.2,1804.7C956.6,1809.3 953.9,1815.5 951.6,1818.5C949.3,1821.6 946.2,1822.8 942.4,1823.2C938.5,1823.5 930.8,1821.2 928.5,1820.8" fill="none" stroke="#86ac3e" stroke-width="2.7" stroke-linecap="round" stroke-linejoin="round"/>
<path d="M914.7,1843.9C915.8,1845.8 918.9,1851.6 921.6,1855.5C924.3,1859.3 927.7,1867.0 930.8,1867.0C933.9,1867.0 937.4,1858.9 940.0,1855.5C942.7,1852.0 945.8,1847.8 947.0,1846.2" fill="none" stroke="#6a8e2e" stroke-width="3.8" stroke-linecap="round" stroke-linejoin="round"/><path d="M914.7,1843.9C915.8,1845.8 918.9,1851.6 921.6,1855.5C924.3,1859.3 927.7,1867.0 930.8,1867.0C933.9,1867.0 937.4,1858.9 940.0,1855.5C942.7,1852.0 945.8,1847.8 947.0,1846.2" fill="none" stroke="#86ac3e" stroke-width="2.7" stroke-linecap="round" stroke-linejoin="round"/>
<path d="M953.9,1781.6C954.3,1778.5 954.3,1767.0 956.2,1763.1C958.1,1759.3 962.0,1757.8 965.4,1758.5C968.9,1759.3 974.3,1763.1 977.0,1767.8C979.7,1772.4 980.4,1780.1 981.6,1786.2C982.7,1792.4 984.7,1798.9 983.9,1804.7C983.1,1810.5 980.1,1816.2 977.0,1820.8C973.9,1825.5 969.3,1829.7 965.4,1832.4C961.6,1835.1 955.8,1836.2 953.9,1837.0" fill="none" stroke="#6a8e2e" stroke-width="3.8" stroke-linecap="round" stroke-linejoin="round"/><path d="M953.9,1781.6C954.3,1778.5 954.3,1767.0 956.2,1763.1C958.1,1759.3 962.0,1757.8 965.4,1758.5C968.9,1759.3 974.3,1763.1 977.0,1767.8C979.7,1772.4 980.4,1780.1 981.6,1786.2C982.7,1792.4 984.7,1798.9 983.9,1804.7C983.1,1810.5 980.1,1816.2 977.0,1820.8C973.9,1825.5 969.3,1829.7 965.4,1832.4C961.6,1835.1 955.8,1836.2 953.9,1837.0" fill="none" stroke="#86ac3e" stroke-width="2.7" stroke-linecap="round" stroke-linejoin="round"/>
<path d="M988.5,1735.4C990.4,1736.2 997.0,1737.4 1000.1,1740.1C1003.1,1742.8 1007.0,1748.1 1007.0,1751.6C1007.0,1755.1 1003.1,1758.9 1000.1,1760.8C997.0,1762.8 990.4,1762.8 988.5,1763.1" fill="none" stroke="#6a8e2e" stroke-width="3.8" stroke-linecap="round" stroke-linejoin="round"/><path d="M988.5,1735.4C990.4,1736.2 997.0,1737.4 1000.1,1740.1C1003.1,1742.8 1007.0,1748.1 1007.0,1751.6C1007.0,1755.1 1003.1,1758.9 1000.1,1760.8C997.0,1762.8 990.4,1762.8 988.5,1763.1" fill="none" stroke="#86ac3e" stroke-width="2.7" stroke-linecap="round" stroke-linejoin="round"/>
<path d="M974.7,1779.3C974.7,1777.4 972.7,1770.4 974.7,1767.8C976.6,1765.1 982.0,1763.9 986.2,1763.1C990.4,1762.4 994.3,1763.9 1000.1,1763.1C1005.8,1762.4 1017.4,1759.3 1020.8,1758.5" fill="none" stroke="#6a8e2e" stroke-width="3.8" stroke-linecap="round" stroke-linejoin="round"/><path d="M974.7,1779.3C974.7,1777.4 972.7,1770.4 974.7,1767.8C976.6,1765.1 982.0,1763.9 986.2,1763.1C990.4,1762.4 994.3,1763.9 1000.1,1763.1C1005.8,1762.4 1017.4,1759.3 1020.8,1758.5" fill="none" stroke="#86ac3e" stroke-width="2.7" stroke-linecap="round" stroke-linejoin="round"/>
<path d="M1000.1,1740.1C1002.0,1740.8 1007.8,1743.1 1011.6,1744.7C1015.4,1746.2 1021.2,1748.5 1023.1,1749.3" fill="none" stroke="#6a8e2e" stroke-width="3.8" stroke-linecap="round" stroke-linejoin="round"/><path d="M1000.1,1740.1C1002.0,1740.8 1007.8,1743.1 1011.6,1744.7C1015.4,1746.2 1021.2,1748.5 1023.1,1749.3" fill="none" stroke="#86ac3e" stroke-width="2.7" stroke-linecap="round" stroke-linejoin="round"/>
<path d="M960.8,1855.5C961.6,1857.8 962.7,1865.9 965.4,1869.3C968.1,1872.8 973.1,1875.5 977.0,1876.2C980.8,1877.0 986.6,1874.3 988.5,1873.9" fill="none" stroke="#6a8e2e" stroke-width="3.8" stroke-linecap="round" stroke-linejoin="round"/><path d="M960.8,1855.5C961.6,1857.8 962.7,1865.9 965.4,1869.3C968.1,1872.8 973.1,1875.5 977.0,1876.2C980.8,1877.0 986.6,1874.3 988.5,1873.9" fill="none" stroke="#86ac3e" stroke-width="2.7" stroke-linecap="round" stroke-linejoin="round"/>
<path d="M1007.0,1855.5C1009.7,1854.7 1017.8,1852.0 1023.1,1850.8C1028.5,1849.7 1036.2,1847.8 1039.3,1848.5C1042.4,1849.3 1043.1,1853.5 1041.6,1855.5C1040.1,1857.4 1034.3,1858.2 1030.1,1860.1C1025.8,1862.0 1019.7,1863.2 1016.2,1867.0C1012.8,1870.9 1009.3,1877.8 1009.3,1883.2C1009.3,1888.5 1015.1,1896.6 1016.2,1899.3" fill="none" stroke="#6a8e2e" stroke-width="3.8" stroke-linecap="round" stroke-linejoin="round"/><path d="M1007.0,1855.5C1009.7,1854.7 1017.8,1852.0 1023.1,1850.8C1028.5,1849.7 1036.2,1847.8 1039.3,1848.5C1042.4,1849.3 1043.1,1853.5 1041.6,1855.5C1040.1,1857.4 1034.3,1858.2 1030.1,1860.1C1025.8,1862.0 1019.7,1863.2 1016.2,1867.0C1012.8,1870.9 1009.3,1877.8 1009.3,1883.2C1009.3,1888.5 1015.1,1896.6 1016.2,1899.3" fill="none" stroke="#86ac3e" stroke-width="2.7" stroke-linecap="round" stroke-linejoin="round"/>
<path d="M961.6,1860.0C962.7,1861.5 964.6,1866.9 968.5,1869.2C972.3,1871.5 979.6,1874.2 984.6,1873.8C989.6,1873.5 996.2,1868.1 998.5,1866.9" fill="none" stroke="#6a8e2e" stroke-width="3.8" stroke-linecap="round" stroke-linejoin="round"/><path d="M961.6,1860.0C962.7,1861.5 964.6,1866.9 968.5,1869.2C972.3,1871.5 979.6,1874.2 984.6,1873.8C989.6,1873.5 996.2,1868.1 998.5,1866.9" fill="none" stroke="#86ac3e" stroke-width="2.7" stroke-linecap="round" stroke-linejoin="round"/>
<path d="M1007.7,1871.5C1008.1,1873.5 1007.7,1879.6 1010.0,1883.1C1012.3,1886.5 1019.6,1890.8 1021.6,1892.3" fill="none" stroke="#6a8e2e" stroke-width="3.8" stroke-linecap="round" stroke-linejoin="round"/><path d="M1007.7,1871.5C1008.1,1873.5 1007.7,1879.6 1010.0,1883.1C1012.3,1886.5 1019.6,1890.8 1021.6,1892.3" fill="none" stroke="#86ac3e" stroke-width="2.7" stroke-linecap="round" stroke-linejoin="round"/>
<path d="M1005.4,1915.4C1002.7,1915.8 993.5,1915.8 989.3,1917.7C985.0,1919.6 981.2,1921.9 980.0,1926.9C978.9,1931.9 979.6,1941.9 982.3,1947.7C985.0,1953.5 991.9,1957.3 996.2,1961.6C1000.4,1965.8 1005.0,1968.5 1007.7,1973.1C1010.4,1977.7 1011.2,1981.9 1012.3,1989.3C1013.5,1996.6 1012.7,2010.8 1014.6,2017.0C1016.6,2023.1 1019.3,2023.9 1023.9,2026.2C1028.5,2028.5 1037.7,2031.2 1042.3,2030.8C1047.0,2030.4 1050.0,2025.0 1051.6,2023.9" fill="none" stroke="#6a8e2e" stroke-width="3.8" stroke-linecap="round" stroke-linejoin="round"/><path d="M1005.4,1915.4C1002.7,1915.8 993.5,1915.8 989.3,1917.7C985.0,1919.6 981.2,1921.9 980.0,1926.9C978.9,1931.9 979.6,1941.9 982.3,1947.7C985.0,1953.5 991.9,1957.3 996.2,1961.6C1000.4,1965.8 1005.0,1968.5 1007.7,1973.1C1010.4,1977.7 1011.2,1981.9 1012.3,1989.3C1013.5,1996.6 1012.7,2010.8 1014.6,2017.0C1016.6,2023.1 1019.3,2023.9 1023.9,2026.2C1028.5,2028.5 1037.7,2031.2 1042.3,2030.8C1047.0,2030.4 1050.0,2025.0 1051.6,2023.9" fill="none" stroke="#86ac3e" stroke-width="2.7" stroke-linecap="round" stroke-linejoin="round"/>
<path d="M1222.3,1745.0C1218.1,1746.8 1204.3,1751.0 1197.0,1755.4C1189.6,1759.8 1182.7,1766.2 1178.5,1771.6C1174.3,1776.9 1170.8,1782.7 1171.6,1787.7C1172.3,1792.7 1182.0,1797.0 1183.1,1801.6C1184.3,1806.2 1181.6,1811.6 1178.5,1815.4C1175.4,1819.3 1167.3,1819.3 1164.6,1824.7C1161.9,1830.0 1162.3,1840.0 1162.3,1847.7C1162.3,1855.4 1164.3,1867.0 1164.6,1870.8" fill="none" stroke="#6a8e2e" stroke-width="3.8" stroke-linecap="round" stroke-linejoin="round"/><path d="M1222.3,1745.0C1218.1,1746.8 1204.3,1751.0 1197.0,1755.4C1189.6,1759.8 1182.7,1766.2 1178.5,1771.6C1174.3,1776.9 1170.8,1782.7 1171.6,1787.7C1172.3,1792.7 1182.0,1797.0 1183.1,1801.6C1184.3,1806.2 1181.6,1811.6 1178.5,1815.4C1175.4,1819.3 1167.3,1819.3 1164.6,1824.7C1161.9,1830.0 1162.3,1840.0 1162.3,1847.7C1162.3,1855.4 1164.3,1867.0 1164.6,1870.8" fill="none" stroke="#86ac3e" stroke-width="2.7" stroke-linecap="round" stroke-linejoin="round"/>
<path d="M1419.3,1548.5C1418.5,1550.8 1417.7,1557.7 1414.6,1562.3C1411.6,1567.0 1405.8,1574.3 1400.8,1576.2C1395.8,1578.1 1385.8,1572.7 1384.6,1573.9C1383.5,1575.0 1393.1,1580.0 1393.9,1583.1C1394.6,1586.2 1392.3,1590.0 1389.3,1592.3C1386.2,1594.7 1378.5,1594.3 1375.4,1597.0C1372.3,1599.7 1370.8,1603.9 1370.8,1608.5C1370.8,1613.1 1373.9,1619.7 1375.4,1624.7C1376.9,1629.7 1381.2,1633.5 1380.0,1638.5C1378.9,1643.5 1372.1,1650.6 1368.5,1654.7C1364.9,1658.8 1359.4,1659.4 1358.5,1663.1C1357.6,1666.8 1362.0,1672.3 1363.1,1676.9C1364.3,1681.5 1368.1,1687.7 1365.4,1690.8C1362.8,1693.9 1353.5,1692.7 1347.0,1695.4C1340.4,1698.1 1332.6,1702.7 1326.2,1706.9C1319.9,1711.2 1311.8,1718.5 1308.9,1720.8" fill="none" stroke="#7d962c" stroke-width="3.8" stroke-linecap="round" stroke-linejoin="round"/><path d="M1419.3,1548.5C1418.5,1550.8 1417.7,1557.7 1414.6,1562.3C1411.6,1567.0 1405.8,1574.3 1400.8,1576.2C1395.8,1578.1 1385.8,1572.7 1384.6,1573.9C1383.5,1575.0 1393.1,1580.0 1393.9,1583.1C1394.6,1586.2 1392.3,1590.0 1389.3,1592.3C1386.2,1594.7 1378.5,1594.3 1375.4,1597.0C1372.3,1599.7 1370.8,1603.9 1370.8,1608.5C1370.8,1613.1 1373.9,1619.7 1375.4,1624.7C1376.9,1629.7 1381.2,1633.5 1380.0,1638.5C1378.9,1643.5 1372.1,1650.6 1368.5,1654.7C1364.9,1658.8 1359.4,1659.4 1358.5,1663.1C1357.6,1666.8 1362.0,1672.3 1363.1,1676.9C1364.3,1681.5 1368.1,1687.7 1365.4,1690.8C1362.8,1693.9 1353.5,1692.7 1347.0,1695.4C1340.4,1698.1 1332.6,1702.7 1326.2,1706.9C1319.9,1711.2 1311.8,1718.5 1308.9,1720.8" fill="none" stroke="#9cb83c" stroke-width="2.7" stroke-linecap="round" stroke-linejoin="round"/>
<path d="M1223.6,1748.7L1226.5,1747.8L1229.4,1747.0L1232.2,1746.1L1235.1,1745.3L1238.0,1744.5L1240.9,1743.6L1243.8,1742.8L1246.6,1742.0L1249.5,1741.1L1252.4,1740.3L1255.3,1739.5L1258.2,1738.7L1261.0,1737.9L1263.9,1737.0L1266.8,1736.2L1269.7,1735.5L1272.5,1734.7L1275.4,1733.9L1278.3,1733.2L1281.2,1732.4L1284.1,1731.7L1287.0,1730.9L1289.9,1730.2L1292.8,1729.5L1293.5,1732.4L1309.2,1720.9L1289.9,1717.9L1290.7,1720.8L1287.7,1721.5L1284.8,1722.2L1281.9,1722.9L1279.0,1723.7L1276.0,1724.4L1273.1,1725.2L1270.2,1726.0L1267.3,1726.8L1264.4,1727.6L1261.5,1728.4L1258.6,1729.2L1255.7,1730.0L1252.8,1730.8L1249.9,1731.7L1247.0,1732.5L1244.1,1733.3L1241.3,1734.2L1238.4,1735.0L1235.5,1735.8L1232.6,1736.7L1229.7,1737.5L1226.9,1738.3L1224.0,1739.2L1221.1,1740.0Z" fill="#8fc043" stroke="#6f952f" stroke-width="1.2" stroke-linejoin="round"/>
<path d="M942.8,1681.6L944.2,1679.0L945.8,1676.5L947.3,1673.9L948.8,1671.2L950.3,1668.6L951.8,1665.9L953.2,1663.3L954.6,1660.5L955.9,1657.7L957.2,1654.9L958.4,1652.1L959.5,1649.3L960.6,1646.5L961.7,1643.6L962.7,1640.8L963.8,1638.0L964.8,1635.2L965.8,1632.3L966.8,1629.5L967.8,1626.7L968.9,1623.8L969.9,1621.0L964.0,1618.9L963.0,1621.7L962.0,1624.6L961.0,1627.4L959.9,1630.2L958.9,1633.0L957.9,1635.8L956.9,1638.6L955.8,1641.4L954.8,1644.2L953.7,1647.0L952.6,1649.7L951.4,1652.4L950.2,1655.1L949.0,1657.7L947.7,1660.3L946.3,1663.0L944.8,1665.5L943.4,1668.1L941.9,1670.7L940.4,1673.3L938.8,1675.9L937.3,1678.5Z" fill="#8fc23f" stroke="#6f952f" stroke-width="1.2" stroke-linejoin="round"/>
<path d="M827.4,1646.1L830.1,1644.8L832.8,1643.5L835.5,1642.2L838.2,1640.9L840.9,1639.7L843.7,1638.4L846.4,1637.2L849.0,1636.1L851.8,1634.9L854.5,1633.8L857.3,1632.7L860.1,1631.6L862.8,1630.5L865.6,1629.5L868.3,1628.5L871.1,1627.6L873.9,1626.7L876.7,1625.9L879.5,1625.1L882.4,1624.5L885.3,1623.8L888.2,1623.2L891.1,1622.6L894.0,1622.0L896.9,1621.4L899.9,1620.8L902.8,1620.2L905.8,1619.6L904.3,1612.3L901.4,1612.9L898.4,1613.4L895.5,1614.0L892.5,1614.6L889.6,1615.2L886.6,1615.8L883.6,1616.5L880.7,1617.1L877.7,1617.9L874.8,1618.6L871.8,1619.5L868.8,1620.4L865.9,1621.4L863.0,1622.4L860.2,1623.5L857.3,1624.6L854.5,1625.7L851.7,1626.8L848.9,1628.0L846.1,1629.2L843.3,1630.4L840.5,1631.6L837.8,1632.9L835.1,1634.1L832.3,1635.4L829.6,1636.7L826.9,1638.0L824.2,1639.3Z" fill="#c2de6c" stroke="#6f952f" stroke-width="1.2" stroke-linejoin="round"/>
<path d="M845.8,1644.0L848.4,1642.5L851.0,1641.0L853.6,1639.5L856.2,1638.1L858.8,1636.6L861.4,1635.2L864.1,1633.8L866.7,1632.5L869.3,1631.3L871.9,1630.2L874.6,1629.2L877.5,1628.1L880.3,1627.2L883.1,1626.2L881.1,1620.3L878.2,1621.3L875.3,1622.3L872.5,1623.3L869.6,1624.4L866.8,1625.6L863.9,1626.9L861.2,1628.3L858.5,1629.7L855.8,1631.1L853.2,1632.6L850.5,1634.1L847.9,1635.6L845.3,1637.1L842.7,1638.5Z" fill="#8fc23f" stroke="#6f952f" stroke-width="1.2" stroke-linejoin="round"/>
<path d="M873.7,1565.2L876.4,1564.0L879.2,1562.8L882.0,1561.6L884.7,1560.4L887.5,1559.2L890.2,1558.0L893.0,1556.8L895.7,1555.6L898.5,1554.3L901.2,1553.1L904.0,1551.8L906.7,1550.5L909.5,1549.2L912.2,1547.9L914.9,1546.6L917.6,1545.3L920.3,1544.0L923.0,1542.7L925.7,1541.3L928.4,1540.0L924.5,1532.2L921.8,1533.5L919.1,1534.8L916.4,1536.1L913.8,1537.4L911.1,1538.8L908.4,1540.1L905.7,1541.4L903.0,1542.6L900.3,1543.9L897.6,1545.1L894.9,1546.4L892.2,1547.6L889.4,1548.8L886.7,1550.0L884.0,1551.2L881.2,1552.4L878.5,1553.6L875.7,1554.8L873.0,1556.0L870.2,1557.2Z" fill="#8fc23f" stroke="#6f952f" stroke-width="1.2" stroke-linejoin="round"/>
<path d="M863.4,1577.8L866.1,1576.6L868.9,1575.3L871.6,1574.0L874.3,1572.8L877.0,1571.5L879.7,1570.3L882.4,1569.0L885.2,1567.7L887.9,1566.5L890.6,1565.3L893.3,1564.0L896.1,1562.8L898.8,1561.6L901.5,1560.4L904.3,1559.2L907.0,1558.0L909.8,1556.9L912.5,1555.7L915.3,1554.5L918.0,1553.3L920.8,1552.1L917.3,1544.1L914.6,1545.3L911.8,1546.5L909.1,1547.6L906.3,1548.8L903.5,1550.0L900.8,1551.2L898.0,1552.4L895.3,1553.6L892.5,1554.8L889.7,1556.1L887.0,1557.3L884.3,1558.5L881.5,1559.8L878.8,1561.1L876.1,1562.3L873.3,1563.6L870.6,1564.8L867.9,1566.1L865.2,1567.4L862.4,1568.6L859.7,1569.9Z" fill="#8fc23f" stroke="#6f952f" stroke-width="1.2" stroke-linejoin="round"/>
<path d="M809.3,1592.7L812.3,1592.4L815.2,1592.0L818.2,1591.7L821.2,1591.3L824.2,1591.0L827.2,1590.6L830.1,1590.3L833.1,1589.9L836.1,1589.6L839.1,1589.2L842.0,1588.9L845.0,1588.5L848.0,1588.2L851.0,1587.8L854.0,1587.5L856.9,1587.2L859.9,1586.8L862.9,1586.5L865.9,1586.2L868.8,1585.9L871.8,1585.5L874.8,1585.2L877.7,1584.9L880.7,1584.6L883.7,1584.3L886.7,1584.0L889.7,1583.7L892.6,1583.4L895.6,1583.1L898.6,1582.8L901.6,1582.6L904.6,1582.3L907.6,1582.0L910.5,1581.7L913.5,1581.4L916.5,1581.1L919.5,1580.8L922.5,1580.6L925.5,1580.3L928.4,1580.0L931.4,1579.7L934.4,1579.4L937.4,1579.1L940.4,1578.9L943.4,1578.6L946.4,1578.3L949.4,1578.0L948.0,1564.3L945.1,1564.6L942.1,1564.9L939.1,1565.2L936.1,1565.4L933.1,1565.7L930.1,1566.0L927.2,1566.3L924.2,1566.6L921.2,1566.9L918.2,1567.1L915.2,1567.4L912.2,1567.7L909.2,1568.0L906.2,1568.3L903.2,1568.6L900.3,1568.9L897.3,1569.2L894.3,1569.4L891.3,1569.7L888.3,1570.0L885.3,1570.3L882.3,1570.6L879.3,1570.9L876.3,1571.2L873.3,1571.6L870.3,1571.9L867.4,1572.2L864.4,1572.5L861.4,1572.8L858.4,1573.2L855.4,1573.5L852.4,1573.8L849.4,1574.2L846.4,1574.5L843.5,1574.9L840.5,1575.2L837.5,1575.6L834.5,1575.9L831.5,1576.2L828.5,1576.6L825.6,1576.9L822.6,1577.3L819.6,1577.7L816.6,1578.0L813.6,1578.4L810.7,1578.7L807.7,1579.0Z" fill="#8fc23f" stroke="#6f952f" stroke-width="1.2" stroke-linejoin="round"/>
<path d="M978.4,1571.5L975.4,1571.9L972.3,1572.3L969.4,1572.7L966.4,1573.1L963.4,1573.5L960.4,1573.9L957.4,1574.3L954.5,1574.7L951.5,1575.1L948.5,1575.5L945.6,1575.9L942.6,1576.3L939.6,1576.7L936.7,1577.1L933.7,1577.5L930.8,1577.9L927.8,1578.2L924.9,1578.6L921.9,1579.0L918.9,1579.3L916.0,1579.6L913.0,1580.0L910.1,1580.3L907.1,1580.6L904.2,1580.9L901.2,1581.2L898.2,1581.5L895.3,1581.7L892.3,1582.0L889.4,1582.2L886.5,1582.4L883.5,1582.6L880.6,1582.7L877.6,1582.9L874.7,1583.0L871.7,1583.1L868.7,1583.2L865.7,1583.3L862.8,1583.4L859.8,1583.5L856.8,1583.5L853.9,1583.6L850.9,1583.6L847.9,1583.7L844.9,1583.7L841.9,1583.7L838.9,1583.8L835.9,1583.8L832.9,1583.8L830.0,1583.8L827.0,1583.8L824.0,1583.8L821.0,1583.8L818.0,1583.8L815.0,1583.8L812.0,1583.8L809.0,1583.8L806.0,1583.8L803.0,1583.7L800.0,1583.7L800.0,1577.8L779.0,1591.2L799.9,1604.6L799.9,1598.7L802.9,1598.7L805.9,1598.8L808.9,1598.8L811.9,1598.8L815.0,1598.8L818.0,1598.8L821.0,1598.8L824.0,1598.8L827.0,1598.8L830.0,1598.8L833.0,1598.8L836.0,1598.8L839.0,1598.8L842.0,1598.7L845.1,1598.7L848.1,1598.7L851.1,1598.6L854.1,1598.6L857.1,1598.5L860.1,1598.5L863.2,1598.4L866.2,1598.3L869.2,1598.2L872.2,1598.1L875.3,1598.0L878.3,1597.9L881.3,1597.7L884.4,1597.6L887.4,1597.4L890.5,1597.2L893.5,1596.9L896.6,1596.7L899.6,1596.4L902.6,1596.1L905.6,1595.8L908.6,1595.5L911.6,1595.2L914.7,1594.9L917.7,1594.6L920.7,1594.2L923.7,1593.9L926.7,1593.5L929.7,1593.1L932.6,1592.8L935.6,1592.4L938.6,1592.0L941.6,1591.6L944.6,1591.2L947.6,1590.8L950.6,1590.4L953.5,1590.0L956.5,1589.6L959.5,1589.2L962.5,1588.8L965.4,1588.3L968.4,1587.9L971.4,1587.5L974.3,1587.1L977.2,1586.8L980.2,1586.4Z" fill="#8fc23f" stroke="#6f952f" stroke-width="1.2" stroke-linejoin="round"/>
<path d="M953.9,1576.2L980.4,1578.5L956.2,1599.3Z" fill="#8fc23f" stroke="#6f952f" stroke-width="1.2" stroke-linejoin="round"/>
<path d="M809.1,1606.6L812.0,1607.2L814.9,1607.9L817.8,1608.6L820.7,1609.3L823.6,1610.0L826.6,1610.7L829.5,1611.4L832.4,1612.1L835.4,1612.8L838.3,1613.5L841.3,1614.1L844.2,1614.8L847.1,1615.5L850.1,1616.1L853.1,1616.7L856.1,1617.4L859.1,1618.0L862.0,1618.5L864.9,1619.1L867.8,1619.7L870.7,1620.4L873.6,1621.0L876.6,1621.6L879.6,1622.3L882.6,1622.8L885.7,1623.4L888.8,1623.8L892.0,1624.3L895.2,1624.6L898.3,1624.8L901.5,1625.0L904.7,1625.2L907.9,1625.2L911.0,1625.2L914.1,1625.1L917.2,1625.0L920.3,1624.9L923.3,1624.7L926.4,1624.5L929.4,1624.3L932.4,1624.0L935.5,1623.8L938.5,1623.5L941.5,1623.3L944.5,1623.0L947.5,1622.7L950.5,1622.4L953.5,1622.1L956.5,1621.8L959.5,1621.5L962.5,1621.2L965.5,1620.9L968.5,1620.6L971.4,1620.2L974.4,1619.9L977.3,1619.7L975.9,1604.7L972.9,1605.0L969.9,1605.3L966.9,1605.6L963.9,1606.0L960.9,1606.3L957.9,1606.6L955.0,1606.9L952.0,1607.2L949.0,1607.5L946.1,1607.8L943.1,1608.1L940.1,1608.3L937.1,1608.6L934.2,1608.9L931.2,1609.1L928.3,1609.3L925.4,1609.5L922.4,1609.7L919.4,1609.9L916.5,1610.0L913.6,1610.1L910.7,1610.2L907.9,1610.2L905.0,1610.2L902.2,1610.1L899.4,1609.9L896.6,1609.7L893.8,1609.4L891.0,1609.0L888.2,1608.6L885.4,1608.1L882.5,1607.5L879.7,1607.0L876.8,1606.3L873.9,1605.7L870.9,1605.1L867.9,1604.4L864.9,1603.8L862.0,1603.2L859.1,1602.7L856.2,1602.1L853.3,1601.4L850.4,1600.8L847.5,1600.2L844.6,1599.5L841.7,1598.8L838.8,1598.2L835.9,1597.5L833.0,1596.8L830.0,1596.1L827.1,1595.4L824.2,1594.7L821.3,1594.0L818.4,1593.3L815.4,1592.6L812.5,1592.0Z" fill="#8fc23f" stroke="#6f952f" stroke-width="1.2" stroke-linejoin="round"/>
<path d="M930.8,1613.1L970.1,1615.4L980.4,1648.9L953.9,1643.1Z" fill="#8fc23f" stroke="#6f952f" stroke-width="1.2" stroke-linejoin="round"/>
<path d="M792.3,1558.4L811.5,1548.5L808.5,1571.6Z" fill="#8fc23f" stroke="#6f952f" stroke-width="1.2" stroke-linejoin="round"/>
<path d="M916.4,1711.8L918.9,1710.2L921.4,1708.6L924.0,1707.0L926.5,1705.4L929.0,1703.8L931.6,1702.1L934.1,1700.5L936.7,1698.9L939.2,1697.3L941.7,1695.6L944.3,1693.9L946.8,1692.2L949.4,1690.5L951.9,1688.8L954.4,1687.1L956.9,1685.3L959.3,1683.5L961.8,1681.8L964.2,1680.0L966.7,1678.2L969.1,1676.5L971.5,1674.7L973.9,1673.0L976.3,1671.2L978.8,1669.5L981.2,1667.8L983.6,1666.1L986.1,1664.3L988.5,1662.6L991.0,1660.9L993.4,1659.2L995.9,1657.5L998.4,1655.7L1000.8,1654.0L1003.3,1652.3L1005.7,1650.6L1008.2,1648.9L1010.6,1647.1L1013.1,1645.4L1015.6,1643.7L1018.0,1642.0L1020.5,1640.3L1022.9,1638.6L1025.4,1636.8L1016.8,1624.5L1014.4,1626.3L1011.9,1628.0L1009.4,1629.7L1007.0,1631.4L1004.5,1633.1L1002.1,1634.8L999.6,1636.6L997.1,1638.3L994.7,1640.0L992.2,1641.7L989.8,1643.4L987.3,1645.2L984.8,1646.9L982.4,1648.6L979.9,1650.3L977.5,1652.1L975.0,1653.8L972.5,1655.5L970.1,1657.3L967.6,1659.0L965.2,1660.8L962.7,1662.6L960.3,1664.3L957.8,1666.1L955.4,1667.9L953.0,1669.6L950.6,1671.4L948.2,1673.1L945.8,1674.8L943.3,1676.5L940.9,1678.1L938.5,1679.8L936.0,1681.4L933.6,1683.0L931.1,1684.7L928.6,1686.3L926.0,1687.9L923.5,1689.5L921.0,1691.1L918.5,1692.7L916.0,1694.3L913.4,1695.9L910.9,1697.5L908.3,1699.1Z" fill="#8fc23f" stroke="#6f952f" stroke-width="1.2" stroke-linejoin="round"/>
<path d="M910.1,1714.0L912.8,1712.9L915.6,1711.8L918.4,1710.7L921.2,1709.6L924.0,1708.5L926.8,1707.3L929.6,1706.2L932.3,1705.1L935.1,1704.0L937.9,1702.9L940.7,1701.8L943.5,1700.7L946.3,1699.5L949.1,1698.4L951.9,1697.3L954.7,1696.1L957.6,1694.9L960.3,1693.7L963.1,1692.4L965.8,1691.2L968.5,1690.0L971.2,1688.8L973.9,1687.6L976.6,1686.5L979.3,1685.4L982.0,1684.3L984.7,1683.3L987.4,1682.4L990.3,1681.4L993.0,1680.6L995.8,1679.8L998.6,1679.0L1001.5,1678.2L1004.3,1677.4L1007.2,1676.7L1010.1,1676.0L1013.0,1675.3L1015.9,1674.6L1018.8,1673.9L1021.7,1673.2L1024.6,1672.5L1025.7,1677.1L1040.7,1662.3L1020.6,1655.7L1021.7,1660.3L1018.8,1661.0L1015.8,1661.7L1012.9,1662.4L1010.0,1663.1L1007.1,1663.9L1004.1,1664.6L1001.2,1665.4L998.2,1666.1L995.3,1666.9L992.3,1667.8L989.3,1668.6L986.4,1669.6L983.5,1670.5L980.6,1671.5L977.6,1672.6L974.7,1673.7L971.9,1674.9L969.0,1676.1L966.2,1677.3L963.5,1678.6L960.7,1679.8L958.0,1681.0L955.2,1682.2L952.5,1683.4L949.8,1684.6L947.1,1685.7L944.4,1686.8L941.6,1687.9L938.8,1689.1L936.1,1690.2L933.3,1691.3L930.5,1692.4L927.7,1693.5L924.9,1694.6L922.1,1695.7L919.4,1696.8L916.6,1698.0L913.8,1699.1L911.0,1700.2L908.2,1701.3L905.4,1702.4Z" fill="#8fc23f" stroke="#6f952f" stroke-width="1.2" stroke-linejoin="round"/>
<path d="M918.2,1714.4L921.0,1713.8L923.9,1713.1L926.9,1712.4L929.8,1711.7L932.7,1710.9L935.7,1710.2L938.7,1709.4L941.7,1708.5L944.7,1707.6L947.6,1706.6L950.5,1705.6L953.3,1704.5L954.6,1707.8L962.7,1695.4L948.6,1691.9L949.8,1695.2L947.1,1696.2L944.3,1697.2L941.5,1698.1L938.8,1699.0L936.0,1699.7L933.2,1700.5L930.4,1701.2L927.4,1701.9L924.6,1702.6L921.7,1703.3L918.7,1704.0L915.8,1704.7Z" fill="#8fc23f" stroke="#6f952f" stroke-width="1.2" stroke-linejoin="round"/>
<path d="M932.6,1711.9L929.6,1712.2L926.6,1712.4L923.6,1712.7L920.6,1712.9L917.7,1713.2L914.7,1713.4L911.7,1713.7L908.7,1713.9L905.7,1714.2L902.7,1714.4L899.7,1714.7L896.7,1714.9L893.7,1715.2L890.7,1715.5L887.7,1715.7L884.8,1716.0L881.8,1716.2L878.8,1716.5L875.8,1716.8L872.8,1717.0L869.8,1717.3L866.8,1717.6L863.8,1717.9L860.8,1718.2L857.8,1718.4L854.8,1718.7L851.8,1719.0L848.8,1719.3L845.8,1719.7L842.8,1720.0L839.8,1720.3L836.9,1720.6L833.9,1720.9L830.9,1721.2L827.9,1721.5L824.9,1721.9L821.9,1722.2L818.9,1722.5L816.0,1722.8L813.0,1723.1L810.0,1723.5L807.0,1723.8L804.0,1724.1L801.0,1724.4L798.1,1724.8L799.4,1737.2L802.4,1736.9L805.4,1736.5L808.4,1736.2L811.3,1735.9L814.3,1735.6L817.3,1735.2L820.3,1734.9L823.3,1734.6L826.2,1734.3L829.2,1734.0L832.2,1733.6L835.2,1733.3L838.2,1733.0L841.1,1732.7L844.1,1732.4L847.1,1732.1L850.1,1731.8L853.1,1731.5L856.0,1731.2L859.0,1730.9L862.0,1730.6L865.0,1730.3L867.9,1730.0L870.9,1729.8L873.9,1729.5L876.9,1729.2L879.9,1729.0L882.9,1728.7L885.8,1728.4L888.8,1728.2L891.8,1727.9L894.8,1727.7L897.8,1727.4L900.8,1727.1L903.8,1726.9L906.7,1726.6L909.7,1726.4L912.7,1726.1L915.7,1725.9L918.7,1725.6L921.7,1725.4L924.7,1725.1L927.7,1724.9L930.7,1724.6L933.7,1724.4Z" fill="#8fc23f" stroke="#6f952f" stroke-width="1.2" stroke-linejoin="round"/>
<path d="M931.0,1700.9L928.0,1700.8L925.0,1700.7L922.0,1700.6L919.0,1700.6L916.0,1700.5L913.0,1700.4L910.0,1700.4L907.0,1700.3L904.0,1700.2L901.0,1700.2L898.0,1700.1L895.0,1700.0L892.0,1699.9L889.0,1699.8L886.1,1699.7L883.1,1699.6L880.1,1699.5L877.1,1699.4L874.2,1699.2L871.2,1699.1L868.2,1699.0L865.2,1698.8L862.3,1698.6L859.4,1698.4L856.4,1698.2L853.5,1697.9L850.5,1697.7L847.5,1697.4L844.6,1697.1L841.6,1696.8L838.6,1696.5L835.7,1696.2L832.7,1695.9L829.7,1695.6L826.8,1695.2L823.8,1694.9L820.8,1694.6L817.9,1694.2L814.9,1693.9L815.5,1688.6L796.2,1698.7L812.7,1712.9L813.3,1707.6L816.3,1707.9L819.3,1708.2L822.3,1708.6L825.3,1708.9L828.3,1709.2L831.3,1709.6L834.3,1709.9L837.3,1710.2L840.2,1710.5L843.3,1710.8L846.3,1711.1L849.3,1711.3L852.3,1711.6L855.3,1711.9L858.4,1712.1L861.4,1712.3L864.5,1712.5L867.5,1712.7L870.5,1712.8L873.5,1713.0L876.5,1713.1L879.6,1713.2L882.6,1713.4L885.6,1713.5L888.6,1713.6L891.6,1713.7L894.6,1713.7L897.6,1713.8L900.6,1713.9L903.7,1714.0L906.7,1714.1L909.7,1714.1L912.7,1714.2L915.7,1714.3L918.7,1714.3L921.7,1714.4L924.7,1714.5L927.6,1714.5L930.6,1714.6Z" fill="#8fc23f" stroke="#6f952f" stroke-width="1.2" stroke-linejoin="round"/>
<path d="M884.2,1715.8L887.4,1715.9L890.4,1716.0L893.4,1716.1L896.4,1716.2L899.4,1716.3L902.4,1716.4L905.3,1716.5L908.3,1716.7L911.2,1716.8L914.0,1717.0L917.0,1717.3L919.9,1717.6L922.7,1717.9L925.4,1718.3L928.1,1718.8L930.7,1719.4L933.2,1720.2L935.8,1721.0L938.4,1721.9L941.2,1723.1L943.8,1724.2L946.4,1725.3L944.2,1730.2L965.4,1727.0L954.3,1708.0L952.1,1712.8L949.2,1711.5L946.3,1710.3L943.5,1709.2L940.5,1708.1L937.4,1707.0L934.1,1706.1L930.9,1705.4L927.6,1704.8L924.5,1704.3L921.3,1703.9L918.2,1703.6L915.2,1703.3L912.1,1703.1L909.0,1702.9L905.9,1702.8L902.9,1702.7L899.9,1702.6L896.8,1702.5L893.8,1702.4L890.9,1702.3L887.9,1702.2L885.1,1702.0Z" fill="#8fc23f" stroke="#6f952f" stroke-width="1.2" stroke-linejoin="round"/>
<path d="M803.0,1772.0L805.3,1769.9L807.5,1767.8L809.7,1765.8L811.9,1763.9L814.0,1762.0L816.2,1760.1L818.3,1758.4L820.8,1756.6L823.0,1755.2L825.2,1754.1L827.5,1753.1L830.1,1752.2L832.7,1751.3L835.5,1750.4L838.3,1749.6L841.2,1748.8L844.2,1747.9L840.9,1737.2L838.1,1738.0L835.3,1738.8L832.3,1739.6L829.3,1740.5L826.3,1741.6L823.2,1742.7L820.0,1744.1L816.9,1745.8L814.1,1747.6L811.7,1749.4L809.1,1751.4L806.7,1753.4L804.4,1755.5L802.1,1757.5L799.9,1759.6L797.7,1761.6L795.5,1763.5Z" fill="#8fc23f" stroke="#6f952f" stroke-width="1.2" stroke-linejoin="round"/>
<path d="M855.8,1705.6L857.7,1707.9L859.6,1710.2L861.6,1712.5L863.5,1714.8L865.4,1717.1L867.3,1719.4L869.3,1721.8L871.2,1724.1L873.1,1726.4L875.0,1728.7L876.9,1731.0L878.9,1733.3L880.7,1735.5L882.5,1737.7L884.3,1740.1L886.1,1742.5L887.9,1744.9L889.8,1747.3L891.8,1749.7L893.8,1752.2L895.8,1754.6L898.0,1757.0L900.2,1759.3L902.4,1761.4L904.7,1763.7L907.1,1765.8L909.5,1767.8L911.9,1769.8L914.4,1771.7L916.8,1773.6L919.2,1775.5L921.6,1777.4L924.0,1779.2L926.4,1781.0L928.8,1782.8L931.2,1784.6L933.6,1786.4L935.9,1788.1L945.1,1776.3L942.7,1774.4L940.2,1772.6L937.8,1770.8L935.4,1769.0L933.1,1767.2L930.7,1765.4L928.3,1763.6L926.0,1761.8L923.7,1760.0L921.4,1758.2L919.2,1756.3L917.0,1754.5L914.9,1752.7L912.9,1750.8L910.8,1748.7L908.9,1746.7L907.0,1744.6L905.2,1742.5L903.4,1740.2L901.6,1738.0L899.8,1735.7L898.0,1733.3L896.2,1731.0L894.3,1728.6L892.3,1726.0L890.4,1723.7L888.5,1721.4L886.5,1719.1L884.6,1716.8L882.7,1714.5L880.8,1712.2L878.9,1709.8L876.9,1707.5L875.0,1705.2L873.1,1702.9L871.2,1700.6L869.3,1698.3L867.3,1696.0Z" fill="#a6cf4e" stroke="#6f952f" stroke-width="1.2" stroke-linejoin="round"/>
<path d="M985.9,1771.7L989.1,1772.0L992.1,1772.0L995.1,1772.1L998.0,1772.2L1001.0,1772.3L1003.9,1772.5L1006.6,1772.8L1009.3,1773.2L1012.2,1773.8L1014.6,1774.6L1016.4,1775.8L1017.2,1776.7L1018.6,1778.7L1019.9,1781.4L1020.6,1783.8L1021.2,1786.4L1021.6,1789.0L1021.9,1791.6L1021.9,1794.3L1021.8,1797.0L1021.5,1799.6L1020.9,1802.2L1020.1,1804.8L1019.1,1807.4L1017.9,1810.1L1016.6,1812.5L1015.2,1814.9L1013.7,1817.2L1012.1,1819.3L1010.3,1821.4L1008.5,1823.2L1006.6,1824.8L1004.5,1826.0L1002.1,1827.1L999.5,1828.1L996.6,1828.9L993.9,1829.6L991.1,1830.2L988.2,1830.8L985.3,1831.3L982.4,1831.9L979.4,1832.4L976.2,1833.1L978.1,1840.8L980.8,1840.3L983.7,1839.7L986.7,1839.2L989.7,1838.7L992.7,1838.1L995.8,1837.4L998.9,1836.6L1001.7,1835.7L1004.8,1834.6L1007.9,1833.3L1010.9,1831.5L1013.7,1829.3L1016.1,1826.9L1018.3,1824.4L1020.3,1821.8L1022.1,1819.1L1023.7,1816.3L1025.2,1813.4L1026.4,1810.7L1027.6,1807.6L1028.5,1804.5L1029.3,1801.2L1029.7,1797.9L1029.9,1794.6L1029.9,1791.3L1029.6,1788.0L1029.0,1784.7L1028.2,1781.3L1027.1,1778.1L1025.9,1775.3L1023.9,1772.3L1020.6,1768.9L1017.2,1767.1L1013.9,1766.0L1011.0,1765.3L1007.7,1764.8L1004.5,1764.5L1001.4,1764.3L998.4,1764.2L995.3,1764.1L992.3,1764.0L989.3,1764.0L986.5,1763.8Z" fill="#6f9030" stroke="#587424" stroke-width="1.2" stroke-linejoin="round"/>
<path d="M1020.9,1759.2L1022.3,1762.2L1023.6,1765.0L1025.0,1767.7L1026.2,1770.2L1027.4,1772.8L1028.5,1775.2L1029.6,1778.0L1030.4,1780.5L1031.1,1782.8L1031.5,1784.9L1031.8,1787.2L1031.9,1789.8L1031.9,1792.5L1031.8,1795.2L1031.5,1798.2L1031.1,1800.8L1030.6,1803.4L1030.0,1806.0L1029.4,1808.5L1028.6,1811.0L1027.7,1813.3L1026.7,1815.5L1025.6,1817.5L1024.3,1819.5L1022.8,1821.3L1021.1,1823.1L1018.9,1825.2L1017.0,1826.8L1014.9,1828.3L1012.7,1829.8L1010.4,1831.2L1008.1,1832.6L1005.6,1833.9L1003.2,1835.1L1000.7,1836.3L998.2,1837.4L995.4,1838.4L992.8,1839.3L990.2,1840.2L987.5,1840.9L984.9,1841.6L982.3,1842.2L979.6,1842.7L977.1,1843.0L974.5,1843.3L972.1,1843.3L969.8,1843.2L966.8,1842.8L964.5,1842.3L962.1,1841.7L959.7,1840.9L957.3,1840.0L955.0,1838.9L952.7,1837.8L950.5,1836.5L948.9,1835.4L947.7,1834.3L945.8,1831.9L944.8,1830.1L943.7,1828.0L942.5,1825.6L941.3,1822.9L939.8,1819.8L926.5,1826.6L927.6,1828.9L928.8,1831.7L930.3,1834.7L931.9,1837.9L934.0,1841.2L935.9,1843.5L939.0,1846.6L942.2,1849.0L945.2,1850.8L948.3,1852.4L951.4,1853.8L954.6,1855.0L957.9,1856.1L961.3,1857.0L964.8,1857.7L967.8,1858.1L971.4,1858.3L975.0,1858.3L978.5,1858.0L981.8,1857.5L985.1,1856.9L988.4,1856.2L991.5,1855.4L994.7,1854.5L997.8,1853.5L1000.8,1852.4L1003.6,1851.3L1006.6,1850.1L1009.6,1848.7L1012.5,1847.2L1015.3,1845.7L1018.2,1844.0L1021.0,1842.3L1023.7,1840.4L1026.5,1838.4L1029.2,1836.1L1031.3,1834.1L1033.8,1831.5L1036.1,1828.7L1038.2,1825.7L1040.0,1822.5L1041.5,1819.3L1042.7,1816.0L1043.8,1812.7L1044.6,1809.5L1045.4,1806.2L1045.9,1802.9L1046.4,1799.6L1046.7,1796.6L1046.9,1793.3L1046.9,1789.9L1046.8,1786.6L1046.4,1782.9L1045.6,1779.2L1044.7,1775.8L1043.5,1772.5L1042.4,1769.7L1041.1,1766.7L1039.8,1763.8L1038.4,1761.0L1037.0,1758.3L1035.7,1755.7L1034.6,1753.2Z" fill="#7da03a" stroke="#5f8028" stroke-width="1.2" stroke-linejoin="round"/>
<path d="M1022.6,1762.7L1023.7,1765.5L1024.7,1768.3L1025.8,1771.1L1026.9,1773.9L1027.9,1776.7L1029.0,1779.5L1041.2,1774.9L1040.1,1772.1L1039.0,1769.3L1038.0,1766.5L1036.9,1763.7L1035.8,1760.9L1034.8,1758.1Z" fill="#b0322c" stroke="#8a2020" stroke-width="1.2" stroke-linejoin="round"/>
<path d="M993.4,1881.1L995.5,1879.0L997.6,1876.9L999.7,1874.7L1001.9,1872.6L1004.0,1870.5L1006.1,1868.4L1008.2,1866.2L1010.3,1864.1L1012.5,1862.0L1014.6,1859.9L1016.7,1857.8L1018.8,1855.6L1021.0,1853.5L1023.1,1851.4L1025.2,1849.3L1027.3,1847.2L1029.4,1845.0L1031.6,1842.9L1021.8,1833.2L1019.7,1835.3L1017.6,1837.4L1015.5,1839.6L1013.4,1841.7L1011.2,1843.8L1009.1,1845.9L1007.0,1848.0L1004.9,1850.2L1002.7,1852.3L1000.6,1854.4L998.5,1856.5L996.4,1858.6L994.3,1860.8L992.1,1862.9L990.0,1865.0L987.9,1867.1L985.8,1869.3L983.7,1871.4Z" fill="#7da03a" stroke="#6f952f" stroke-width="1.2" stroke-linejoin="round"/>
<ellipse cx="1021.6" cy="1910.8" rx="15.0" ry="22.0" fill="none" stroke="#6a8e2e" stroke-width="9.6" transform="rotate(0 1021.6 1910.8)"/><ellipse cx="1021.6" cy="1910.8" rx="15.0" ry="22.0" fill="none" stroke="#8db83f" stroke-width="8.0" transform="rotate(0 1021.6 1910.8)"/>
<ellipse cx="1040.0" cy="1910.8" rx="15.0" ry="22.0" fill="none" stroke="#6a8e2e" stroke-width="9.6" transform="rotate(0 1040.0 1910.8)"/><ellipse cx="1040.0" cy="1910.8" rx="15.0" ry="22.0" fill="none" stroke="#8db83f" stroke-width="8.0" transform="rotate(0 1040.0 1910.8)"/>
<ellipse cx="1058.5" cy="1910.8" rx="15.0" ry="22.0" fill="none" stroke="#6a8e2e" stroke-width="9.6" transform="rotate(0 1058.5 1910.8)"/><ellipse cx="1058.5" cy="1910.8" rx="15.0" ry="22.0" fill="none" stroke="#8db83f" stroke-width="8.0" transform="rotate(0 1058.5 1910.8)"/>
<path d="M889.3,1779.3L907.7,1781.6L905.4,1800.1L910.0,1804.7L900.8,1811.6L891.6,1800.1Z" fill="#a9a9a9" stroke="#888" stroke-width="1.2" stroke-linejoin="round"/>
<path d="M907.7,1809.3C908.5,1812.4 910.0,1823.2 912.3,1827.8C914.7,1832.4 920.0,1835.5 921.6,1837.0" fill="none" stroke="#8f8f8f" stroke-width="4.3" stroke-linecap="round" stroke-linejoin="round"/><path d="M907.7,1809.3C908.5,1812.4 910.0,1823.2 912.3,1827.8C914.7,1832.4 920.0,1835.5 921.6,1837.0" fill="none" stroke="#b5b5b5" stroke-width="3.2" stroke-linecap="round" stroke-linejoin="round"/>
<path d="M1317.0,1723.1C1318.9,1721.2 1325.1,1713.1 1328.5,1711.6C1332.0,1710.0 1336.2,1710.4 1337.7,1713.9C1339.3,1717.3 1339.7,1727.3 1337.7,1732.3C1335.8,1737.3 1329.7,1741.6 1326.2,1743.9C1322.7,1746.2 1318.5,1745.8 1317.0,1746.2" fill="none" stroke="#c8853f" stroke-width="3.8" stroke-linecap="round" stroke-linejoin="round"/><path d="M1317.0,1723.1C1318.9,1721.2 1325.1,1713.1 1328.5,1711.6C1332.0,1710.0 1336.2,1710.4 1337.7,1713.9C1339.3,1717.3 1339.7,1727.3 1337.7,1732.3C1335.8,1737.3 1329.7,1741.6 1326.2,1743.9C1322.7,1746.2 1318.5,1745.8 1317.0,1746.2" fill="none" stroke="#eea35c" stroke-width="2.7" stroke-linecap="round" stroke-linejoin="round"/>
<path d="M1365.4,1723.1C1365.8,1725.8 1369.3,1733.9 1367.8,1739.2C1366.2,1744.6 1358.1,1750.0 1356.2,1755.4C1354.3,1760.8 1354.3,1766.9 1356.2,1771.6C1358.1,1776.2 1364.7,1779.6 1367.8,1783.1C1370.8,1786.6 1373.5,1790.8 1374.7,1792.3" fill="none" stroke="#c8853f" stroke-width="3.8" stroke-linecap="round" stroke-linejoin="round"/><path d="M1365.4,1723.1C1365.8,1725.8 1369.3,1733.9 1367.8,1739.2C1366.2,1744.6 1358.1,1750.0 1356.2,1755.4C1354.3,1760.8 1354.3,1766.9 1356.2,1771.6C1358.1,1776.2 1364.7,1779.6 1367.8,1783.1C1370.8,1786.6 1373.5,1790.8 1374.7,1792.3" fill="none" stroke="#eea35c" stroke-width="2.7" stroke-linecap="round" stroke-linejoin="round"/>
<path d="M1363.1,1739.2C1366.2,1742.7 1376.6,1754.3 1381.6,1760.0C1386.6,1765.8 1390.8,1769.3 1393.1,1773.9C1395.5,1778.5 1396.6,1783.1 1395.5,1787.7C1394.3,1792.3 1387.8,1799.3 1386.2,1801.6" fill="none" stroke="#c8853f" stroke-width="3.8" stroke-linecap="round" stroke-linejoin="round"/><path d="M1363.1,1739.2C1366.2,1742.7 1376.6,1754.3 1381.6,1760.0C1386.6,1765.8 1390.8,1769.3 1393.1,1773.9C1395.5,1778.5 1396.6,1783.1 1395.5,1787.7C1394.3,1792.3 1387.8,1799.3 1386.2,1801.6" fill="none" stroke="#eea35c" stroke-width="2.7" stroke-linecap="round" stroke-linejoin="round"/>
<path d="M1395.5,1785.4C1398.5,1785.8 1408.1,1785.4 1413.9,1787.7C1419.7,1790.0 1424.6,1798.0 1430.1,1799.3C1435.6,1800.6 1441.5,1798.0 1447.0,1795.5C1452.5,1792.9 1459.3,1784.3 1463.1,1783.9C1467.0,1783.5 1469.3,1787.4 1470.0,1793.2C1470.8,1798.9 1469.7,1812.8 1467.7,1818.5C1465.8,1824.3 1462.3,1824.3 1458.5,1827.8C1454.7,1831.2 1449.4,1837.1 1444.7,1839.3C1439.9,1841.5 1432.9,1837.1 1430.1,1840.8C1427.3,1844.5 1429.3,1855.8 1427.8,1861.6C1426.2,1867.4 1425.5,1872.0 1420.8,1875.4C1416.2,1878.9 1405.5,1880.0 1400.1,1882.4C1394.7,1884.7 1391.2,1887.4 1388.5,1889.3C1385.8,1891.2 1388.1,1893.5 1383.9,1893.9C1379.7,1894.3 1368.9,1893.1 1363.1,1891.6C1357.4,1890.0 1351.6,1885.8 1349.3,1884.7" fill="none" stroke="#c8853f" stroke-width="3.8" stroke-linecap="round" stroke-linejoin="round"/><path d="M1395.5,1785.4C1398.5,1785.8 1408.1,1785.4 1413.9,1787.7C1419.7,1790.0 1424.6,1798.0 1430.1,1799.3C1435.6,1800.6 1441.5,1798.0 1447.0,1795.5C1452.5,1792.9 1459.3,1784.3 1463.1,1783.9C1467.0,1783.5 1469.3,1787.4 1470.0,1793.2C1470.8,1798.9 1469.7,1812.8 1467.7,1818.5C1465.8,1824.3 1462.3,1824.3 1458.5,1827.8C1454.7,1831.2 1449.4,1837.1 1444.7,1839.3C1439.9,1841.5 1432.9,1837.1 1430.1,1840.8C1427.3,1844.5 1429.3,1855.8 1427.8,1861.6C1426.2,1867.4 1425.5,1872.0 1420.8,1875.4C1416.2,1878.9 1405.5,1880.0 1400.1,1882.4C1394.7,1884.7 1391.2,1887.4 1388.5,1889.3C1385.8,1891.2 1388.1,1893.5 1383.9,1893.9C1379.7,1894.3 1368.9,1893.1 1363.1,1891.6C1357.4,1890.0 1351.6,1885.8 1349.3,1884.7" fill="none" stroke="#eea35c" stroke-width="2.7" stroke-linecap="round" stroke-linejoin="round"/>
<path d="M1213.1,1836.2C1215.8,1838.1 1223.5,1845.0 1229.3,1847.7C1235.0,1850.4 1244.7,1851.6 1247.7,1852.3" fill="none" stroke="#c8853f" stroke-width="3.8" stroke-linecap="round" stroke-linejoin="round"/><path d="M1213.1,1836.2C1215.8,1838.1 1223.5,1845.0 1229.3,1847.7C1235.0,1850.4 1244.7,1851.6 1247.7,1852.3" fill="none" stroke="#eea35c" stroke-width="2.7" stroke-linecap="round" stroke-linejoin="round"/>
<path d="M1319.3,1884.7C1322.4,1886.2 1332.4,1891.6 1337.7,1893.9C1343.1,1896.2 1349.7,1900.1 1351.6,1898.5C1353.5,1897.0 1352.0,1889.7 1349.3,1884.7C1346.6,1879.7 1337.0,1874.7 1335.4,1868.5C1333.9,1862.4 1339.3,1851.2 1340.1,1847.7" fill="none" stroke="#c8853f" stroke-width="3.8" stroke-linecap="round" stroke-linejoin="round"/><path d="M1319.3,1884.7C1322.4,1886.2 1332.4,1891.6 1337.7,1893.9C1343.1,1896.2 1349.7,1900.1 1351.6,1898.5C1353.5,1897.0 1352.0,1889.7 1349.3,1884.7C1346.6,1879.7 1337.0,1874.7 1335.4,1868.5C1333.9,1862.4 1339.3,1851.2 1340.1,1847.7" fill="none" stroke="#eea35c" stroke-width="2.7" stroke-linecap="round" stroke-linejoin="round"/>
<path d="M1201.6,1900.8C1202.3,1896.6 1203.1,1881.6 1206.2,1875.4C1209.3,1869.3 1214.6,1865.8 1220.0,1863.9C1225.4,1862.0 1232.3,1862.4 1238.5,1863.9C1244.7,1865.4 1251.2,1871.2 1257.0,1873.1C1262.7,1875.0 1270.4,1875.0 1273.1,1875.4" fill="none" stroke="#c8853f" stroke-width="3.8" stroke-linecap="round" stroke-linejoin="round"/><path d="M1201.6,1900.8C1202.3,1896.6 1203.1,1881.6 1206.2,1875.4C1209.3,1869.3 1214.6,1865.8 1220.0,1863.9C1225.4,1862.0 1232.3,1862.4 1238.5,1863.9C1244.7,1865.4 1251.2,1871.2 1257.0,1873.1C1262.7,1875.0 1270.4,1875.0 1273.1,1875.4" fill="none" stroke="#eea35c" stroke-width="2.7" stroke-linecap="round" stroke-linejoin="round"/>
<path d="M1321.5,1842.4L1324.0,1841.0L1326.7,1839.6L1329.3,1838.2L1332.0,1836.8L1334.7,1835.3L1337.4,1833.8L1339.9,1832.3L1342.6,1830.7L1345.3,1829.0L1347.9,1827.2L1350.5,1825.3L1353.0,1823.3L1355.2,1821.3L1357.5,1819.1L1359.8,1817.0L1362.0,1814.7L1364.1,1812.5L1366.2,1810.2L1368.2,1808.0L1370.2,1805.7L1372.3,1802.9L1374.0,1800.4L1375.7,1796.7L1367.2,1793.6L1366.6,1795.3L1364.9,1797.8L1363.3,1799.8L1361.4,1802.0L1359.5,1804.2L1357.5,1806.4L1355.5,1808.5L1353.4,1810.6L1351.4,1812.6L1349.3,1814.5L1347.0,1816.5L1344.9,1818.3L1342.7,1819.9L1340.3,1821.5L1337.9,1823.0L1335.4,1824.5L1332.8,1826.0L1330.3,1827.4L1327.7,1828.8L1325.1,1830.3L1322.4,1831.7L1319.8,1833.1L1317.1,1834.6Z" fill="#b9834a" stroke="#c8853f" stroke-width="1.2" stroke-linejoin="round"/>
<path d="M1266.5,1831.6L1265.7,1828.5L1264.9,1825.6L1264.1,1822.8L1263.3,1819.9L1262.7,1817.1L1262.2,1814.5L1261.9,1812.0L1261.7,1809.7L1261.9,1806.7L1262.5,1804.6L1263.4,1802.4L1264.5,1800.1L1265.8,1797.8L1267.2,1795.6L1268.8,1793.4L1270.6,1791.1L1272.4,1788.9L1274.3,1786.7L1276.3,1784.6L1278.2,1782.7L1280.3,1780.9L1282.5,1779.1L1284.7,1777.3L1287.0,1775.5L1289.4,1773.8L1291.8,1772.1L1294.2,1770.5L1296.6,1768.8L1299.1,1767.2L1301.5,1765.8L1304.0,1764.4L1306.6,1763.0L1308.0,1765.6L1314.9,1753.0L1300.5,1751.5L1301.9,1754.1L1299.2,1755.6L1296.5,1757.2L1293.7,1758.8L1291.2,1760.4L1288.6,1762.2L1286.1,1763.9L1283.6,1765.7L1281.1,1767.5L1278.6,1769.4L1276.2,1771.3L1273.7,1773.3L1271.3,1775.5L1269.0,1777.8L1266.8,1780.1L1264.8,1782.4L1262.8,1784.8L1260.9,1787.3L1259.0,1789.9L1257.2,1792.7L1255.5,1795.7L1254.0,1798.8L1252.8,1802.2L1252.0,1805.9L1251.7,1808.9L1251.9,1812.6L1252.3,1816.1L1252.9,1819.3L1253.6,1822.4L1254.4,1825.3L1255.2,1828.3L1256.0,1831.2L1256.7,1833.9Z" fill="#f2a65a" stroke="#c8853f" stroke-width="1.2" stroke-linejoin="round"/>
<path d="M1214.9,1834.4L1216.1,1831.5L1217.3,1828.7L1218.5,1825.9L1219.6,1823.2L1220.7,1820.5L1221.9,1817.8L1223.0,1815.1L1224.3,1812.4L1225.5,1809.8L1226.7,1807.3L1228.0,1804.9L1229.4,1802.6L1230.8,1800.4L1232.4,1798.2L1234.0,1796.0L1235.9,1793.7L1237.8,1791.7L1239.6,1789.7L1241.6,1787.8L1243.7,1786.0L1245.8,1784.2L1248.0,1782.4L1250.2,1780.7L1252.5,1779.1L1254.8,1777.5L1257.2,1775.9L1259.6,1774.4L1262.1,1772.9L1264.6,1771.5L1267.1,1770.1L1269.7,1768.8L1272.2,1767.5L1274.8,1766.2L1277.4,1765.0L1280.0,1763.9L1282.6,1762.8L1285.1,1761.9L1287.7,1761.0L1290.5,1760.2L1293.2,1759.5L1295.9,1758.9L1298.7,1758.4L1299.4,1762.3L1315.2,1748.6L1295.4,1740.7L1296.1,1744.6L1293.0,1745.2L1289.9,1745.9L1286.7,1746.7L1283.8,1747.5L1280.7,1748.6L1277.6,1749.8L1274.6,1751.0L1271.7,1752.2L1268.9,1753.5L1266.1,1754.9L1263.3,1756.3L1260.5,1757.8L1257.8,1759.3L1255.1,1760.8L1252.4,1762.4L1249.7,1764.1L1247.1,1765.8L1244.5,1767.6L1241.9,1769.5L1239.4,1771.4L1236.9,1773.4L1234.4,1775.5L1232.0,1777.7L1229.6,1779.9L1227.3,1782.3L1225.2,1784.7L1223.3,1787.1L1221.3,1789.7L1219.4,1792.3L1217.5,1795.1L1215.8,1798.0L1214.3,1800.9L1212.9,1803.8L1211.5,1806.6L1210.3,1809.3L1209.0,1812.2L1207.8,1815.0L1206.6,1817.8L1205.5,1820.6L1204.4,1823.4L1203.2,1826.1L1202.1,1828.7Z" fill="#f2a65a" stroke="#c8853f" stroke-width="1.2" stroke-linejoin="round"/>
<path d="M1275.0,1880.6L1277.8,1879.6L1280.6,1878.5L1283.5,1877.5L1286.4,1876.4L1289.2,1875.3L1292.0,1874.1L1294.9,1872.9L1297.8,1871.6L1300.5,1870.3L1303.3,1869.0L1306.0,1867.6L1308.7,1866.3L1311.4,1864.9L1314.1,1863.5L1316.7,1862.1L1319.4,1860.8L1322.0,1859.4L1324.7,1858.1L1327.4,1856.8L1330.1,1855.4L1332.7,1854.1L1335.4,1852.8L1338.1,1851.5L1340.8,1850.1L1343.5,1848.8L1346.2,1847.4L1348.9,1846.0L1351.5,1844.7L1354.1,1843.4L1356.8,1842.2L1359.6,1840.8L1362.6,1839.4L1365.5,1837.7L1368.0,1836.0L1370.8,1833.9L1373.4,1831.3L1375.7,1828.7L1377.7,1826.0L1379.5,1823.3L1381.2,1820.7L1382.8,1818.1L1384.4,1815.5L1385.9,1813.1L1376.7,1807.1L1375.0,1809.8L1373.4,1812.4L1371.9,1814.9L1370.3,1817.3L1368.8,1819.6L1367.2,1821.7L1365.6,1823.6L1363.9,1825.3L1362.0,1826.8L1359.5,1828.5L1357.2,1829.7L1354.8,1831.0L1352.2,1832.2L1349.4,1833.5L1346.6,1834.8L1343.9,1836.2L1341.2,1837.6L1338.6,1838.9L1335.9,1840.3L1333.3,1841.6L1330.6,1842.9L1327.9,1844.2L1325.2,1845.6L1322.5,1846.9L1319.8,1848.3L1317.1,1849.6L1314.4,1851.0L1311.7,1852.4L1309.0,1853.7L1306.4,1855.1L1303.7,1856.4L1301.1,1857.8L1298.4,1859.1L1295.8,1860.4L1293.1,1861.6L1290.5,1862.8L1287.9,1864.0L1285.1,1865.1L1282.4,1866.1L1279.7,1867.2L1276.9,1868.2L1274.1,1869.2L1271.2,1870.3Z" fill="#f2a65a" stroke="#c8853f" stroke-width="1.2" stroke-linejoin="round"/>
<path d="M1380.3,1800.6L1379.8,1803.7L1379.4,1806.7L1379.0,1809.6L1378.6,1812.5L1378.0,1815.3L1377.4,1817.9L1376.8,1820.3L1376.0,1822.5L1374.9,1824.9L1373.5,1827.6L1372.1,1829.9L1370.6,1832.4L1367.2,1830.2L1369.1,1845.6L1384.2,1840.9L1380.8,1838.7L1382.4,1836.0L1384.1,1833.2L1385.5,1830.6L1386.9,1827.5L1388.1,1824.1L1389.1,1820.8L1389.8,1817.5L1390.4,1814.4L1390.9,1811.4L1391.3,1808.3L1391.7,1805.3L1392.1,1802.5Z" fill="#f2a65a" stroke="#c8853f" stroke-width="1.2" stroke-linejoin="round"/>
<path d="M1252.0,1832.6L1253.5,1834.9L1255.0,1837.5L1256.7,1840.2L1258.4,1842.7L1260.3,1845.4L1262.5,1848.1L1265.2,1850.8L1268.2,1853.2L1271.2,1855.0L1274.2,1856.6L1277.4,1857.9L1280.5,1859.0L1283.7,1859.9L1286.9,1860.7L1290.1,1861.3L1293.5,1861.8L1296.5,1862.1L1299.9,1862.1L1303.1,1862.1L1303.2,1867.1L1320.9,1854.8L1302.7,1845.1L1302.8,1850.1L1300.1,1850.1L1297.5,1850.1L1294.5,1849.8L1291.9,1849.4L1289.3,1848.9L1286.6,1848.3L1284.0,1847.5L1281.6,1846.6L1279.2,1845.6L1276.9,1844.5L1274.8,1843.1L1273.1,1841.8L1271.6,1840.2L1270.0,1838.3L1268.4,1836.1L1266.8,1833.6L1265.3,1831.2L1263.7,1828.7L1262.0,1825.9Z" fill="#f2a65a" stroke="#c8853f" stroke-width="1.2" stroke-linejoin="round"/>
<path d="M1402.0,1381.2C1402.9,1383.3 1404.5,1390.2 1407.7,1393.8C1411.0,1397.5 1417.0,1400.0 1421.6,1403.1C1426.2,1406.2 1431.6,1409.6 1435.4,1412.3C1439.3,1415.0 1442.0,1417.7 1444.7,1419.2C1447.3,1420.8 1450.8,1423.5 1451.6,1421.5C1452.3,1419.6 1449.3,1412.7 1449.3,1407.7C1449.3,1402.7 1448.5,1396.2 1451.6,1391.5C1454.7,1386.9 1465.0,1381.9 1467.7,1380.0" fill="none" stroke="#1fb0bb" stroke-width="3.8" stroke-linecap="round" stroke-linejoin="round"/><path d="M1402.0,1381.2C1402.9,1383.3 1404.5,1390.2 1407.7,1393.8C1411.0,1397.5 1417.0,1400.0 1421.6,1403.1C1426.2,1406.2 1431.6,1409.6 1435.4,1412.3C1439.3,1415.0 1442.0,1417.7 1444.7,1419.2C1447.3,1420.8 1450.8,1423.5 1451.6,1421.5C1452.3,1419.6 1449.3,1412.7 1449.3,1407.7C1449.3,1402.7 1448.5,1396.2 1451.6,1391.5C1454.7,1386.9 1465.0,1381.9 1467.7,1380.0" fill="none" stroke="#35d3dc" stroke-width="2.7" stroke-linecap="round" stroke-linejoin="round"/>
<path d="M1481.6,1384.6C1483.1,1385.8 1489.7,1388.5 1490.8,1391.5C1492.0,1394.6 1488.1,1399.6 1488.5,1403.1C1488.9,1406.5 1492.4,1410.8 1493.1,1412.3" fill="none" stroke="#1fb0bb" stroke-width="3.8" stroke-linecap="round" stroke-linejoin="round"/><path d="M1481.6,1384.6C1483.1,1385.8 1489.7,1388.5 1490.8,1391.5C1492.0,1394.6 1488.1,1399.6 1488.5,1403.1C1488.9,1406.5 1492.4,1410.8 1493.1,1412.3" fill="none" stroke="#35d3dc" stroke-width="2.7" stroke-linecap="round" stroke-linejoin="round"/>
<path d="M1396.2,1400.8C1397.3,1403.1 1402.7,1409.2 1403.1,1414.6C1403.5,1420.0 1397.7,1428.1 1398.5,1433.1C1399.3,1438.1 1407.7,1440.8 1407.7,1444.6C1407.7,1448.5 1402.3,1453.5 1398.5,1456.2C1394.6,1458.9 1387.7,1458.1 1384.6,1460.8C1381.6,1463.5 1380.8,1470.4 1380.0,1472.3" fill="none" stroke="#1fb0bb" stroke-width="3.8" stroke-linecap="round" stroke-linejoin="round"/><path d="M1396.2,1400.8C1397.3,1403.1 1402.7,1409.2 1403.1,1414.6C1403.5,1420.0 1397.7,1428.1 1398.5,1433.1C1399.3,1438.1 1407.7,1440.8 1407.7,1444.6C1407.7,1448.5 1402.3,1453.5 1398.5,1456.2C1394.6,1458.9 1387.7,1458.1 1384.6,1460.8C1381.6,1463.5 1380.8,1470.4 1380.0,1472.3" fill="none" stroke="#35d3dc" stroke-width="2.7" stroke-linecap="round" stroke-linejoin="round"/>
<path d="M1368.5,1446.9C1368.3,1449.6 1366.2,1458.9 1367.3,1463.1C1368.5,1467.3 1374.1,1470.8 1375.4,1472.3" fill="none" stroke="#1fb0bb" stroke-width="3.8" stroke-linecap="round" stroke-linejoin="round"/><path d="M1368.5,1446.9C1368.3,1449.6 1366.2,1458.9 1367.3,1463.1C1368.5,1467.3 1374.1,1470.8 1375.4,1472.3" fill="none" stroke="#35d3dc" stroke-width="2.7" stroke-linecap="round" stroke-linejoin="round"/>
<path d="M1412.3,1449.2C1413.9,1450.8 1422.0,1454.6 1421.6,1458.5C1421.2,1462.3 1415.0,1469.2 1410.0,1472.3C1405.0,1475.4 1394.6,1476.2 1391.6,1476.9" fill="none" stroke="#1fb0bb" stroke-width="3.8" stroke-linecap="round" stroke-linejoin="round"/><path d="M1412.3,1449.2C1413.9,1450.8 1422.0,1454.6 1421.6,1458.5C1421.2,1462.3 1415.0,1469.2 1410.0,1472.3C1405.0,1475.4 1394.6,1476.2 1391.6,1476.9" fill="none" stroke="#35d3dc" stroke-width="2.7" stroke-linecap="round" stroke-linejoin="round"/>
<path d="M1291.2,1490.8C1293.3,1488.9 1298.3,1481.2 1303.9,1479.2C1309.4,1477.3 1320.0,1477.3 1324.6,1479.2C1329.2,1481.2 1330.0,1486.6 1331.6,1490.8C1333.1,1495.0 1333.5,1502.3 1333.9,1504.6" fill="none" stroke="#1fb0bb" stroke-width="3.8" stroke-linecap="round" stroke-linejoin="round"/><path d="M1291.2,1490.8C1293.3,1488.9 1298.3,1481.2 1303.9,1479.2C1309.4,1477.3 1320.0,1477.3 1324.6,1479.2C1329.2,1481.2 1330.0,1486.6 1331.6,1490.8C1333.1,1495.0 1333.5,1502.3 1333.9,1504.6" fill="none" stroke="#35d3dc" stroke-width="2.7" stroke-linecap="round" stroke-linejoin="round"/>
<path d="M1291.2,1490.8L1301.5,1502.3" fill="none" stroke="#1fb0bb" stroke-width="3.8" stroke-linecap="round" stroke-linejoin="round"/><path d="M1291.2,1490.8L1301.5,1502.3" fill="none" stroke="#35d3dc" stroke-width="2.7" stroke-linecap="round" stroke-linejoin="round"/>
<path d="M1320.0,1587.7C1321.6,1587.7 1322.3,1584.3 1329.2,1587.7C1336.2,1591.2 1356.2,1605.0 1361.6,1608.5" fill="none" stroke="#1fb0bb" stroke-width="3.8" stroke-linecap="round" stroke-linejoin="round"/><path d="M1320.0,1587.7C1321.6,1587.7 1322.3,1584.3 1329.2,1587.7C1336.2,1591.2 1356.2,1605.0 1361.6,1608.5" fill="none" stroke="#35d3dc" stroke-width="2.7" stroke-linecap="round" stroke-linejoin="round"/>
<path d="M1333.9,1624.7C1336.2,1628.1 1341.6,1640.8 1347.7,1645.4C1353.9,1650.1 1366.9,1651.2 1370.8,1652.4" fill="none" stroke="#1fb0bb" stroke-width="3.8" stroke-linecap="round" stroke-linejoin="round"/><path d="M1333.9,1624.7C1336.2,1628.1 1341.6,1640.8 1347.7,1645.4C1353.9,1650.1 1366.9,1651.2 1370.8,1652.4" fill="none" stroke="#35d3dc" stroke-width="2.7" stroke-linecap="round" stroke-linejoin="round"/>
<path d="M1269.2,1633.9C1270.0,1632.0 1271.5,1625.4 1273.8,1622.4C1276.2,1619.3 1279.2,1616.2 1283.1,1615.4C1286.9,1614.7 1293.1,1615.4 1296.9,1617.7C1300.8,1620.0 1307.3,1622.7 1306.2,1629.3C1305.0,1635.8 1293.9,1652.7 1290.0,1657.0C1286.2,1661.2 1284.2,1655.1 1283.1,1654.7" fill="none" stroke="#1fb0bb" stroke-width="3.8" stroke-linecap="round" stroke-linejoin="round"/><path d="M1269.2,1633.9C1270.0,1632.0 1271.5,1625.4 1273.8,1622.4C1276.2,1619.3 1279.2,1616.2 1283.1,1615.4C1286.9,1614.7 1293.1,1615.4 1296.9,1617.7C1300.8,1620.0 1307.3,1622.7 1306.2,1629.3C1305.0,1635.8 1293.9,1652.7 1290.0,1657.0C1286.2,1661.2 1284.2,1655.1 1283.1,1654.7" fill="none" stroke="#35d3dc" stroke-width="2.7" stroke-linecap="round" stroke-linejoin="round"/>
<path d="M1269.2,1633.9C1270.8,1637.7 1273.8,1652.7 1278.5,1657.0C1283.1,1661.2 1290.8,1662.4 1296.9,1659.3C1303.1,1656.2 1313.9,1643.1 1315.4,1638.5C1316.9,1633.9 1309.6,1631.2 1306.2,1631.6C1302.7,1632.0 1296.9,1636.6 1294.6,1640.8C1292.3,1645.1 1289.6,1652.7 1292.3,1657.0C1295.0,1661.2 1303.5,1663.5 1310.8,1666.2C1318.1,1668.9 1329.6,1672.4 1336.2,1673.1C1342.7,1673.9 1347.3,1673.5 1350.0,1670.8C1352.7,1668.1 1352.7,1661.2 1352.3,1657.0C1351.9,1652.7 1348.5,1647.4 1347.7,1645.4" fill="none" stroke="#1fb0bb" stroke-width="3.8" stroke-linecap="round" stroke-linejoin="round"/><path d="M1269.2,1633.9C1270.8,1637.7 1273.8,1652.7 1278.5,1657.0C1283.1,1661.2 1290.8,1662.4 1296.9,1659.3C1303.1,1656.2 1313.9,1643.1 1315.4,1638.5C1316.9,1633.9 1309.6,1631.2 1306.2,1631.6C1302.7,1632.0 1296.9,1636.6 1294.6,1640.8C1292.3,1645.1 1289.6,1652.7 1292.3,1657.0C1295.0,1661.2 1303.5,1663.5 1310.8,1666.2C1318.1,1668.9 1329.6,1672.4 1336.2,1673.1C1342.7,1673.9 1347.3,1673.5 1350.0,1670.8C1352.7,1668.1 1352.7,1661.2 1352.3,1657.0C1351.9,1652.7 1348.5,1647.4 1347.7,1645.4" fill="none" stroke="#35d3dc" stroke-width="2.7" stroke-linecap="round" stroke-linejoin="round"/>
<path d="M1296.9,1675.4C1300.4,1677.0 1307.7,1683.9 1317.7,1684.7C1327.7,1685.4 1346.6,1680.4 1356.9,1680.1C1367.3,1679.7 1373.1,1682.8 1380.0,1682.4C1386.9,1682.0 1395.4,1678.5 1398.5,1677.7" fill="none" stroke="#1fb0bb" stroke-width="3.8" stroke-linecap="round" stroke-linejoin="round"/><path d="M1296.9,1675.4C1300.4,1677.0 1307.7,1683.9 1317.7,1684.7C1327.7,1685.4 1346.6,1680.4 1356.9,1680.1C1367.3,1679.7 1373.1,1682.8 1380.0,1682.4C1386.9,1682.0 1395.4,1678.5 1398.5,1677.7" fill="none" stroke="#35d3dc" stroke-width="2.7" stroke-linecap="round" stroke-linejoin="round"/>
<path d="M1403.1,1677.7C1403.9,1680.1 1408.5,1687.4 1407.7,1691.6C1407.0,1695.8 1401.6,1700.1 1398.5,1703.1C1395.4,1706.2 1391.6,1707.0 1389.3,1710.1C1386.9,1713.1 1383.9,1716.6 1384.6,1721.6C1385.4,1726.6 1390.0,1735.5 1393.9,1740.1C1397.7,1744.7 1403.5,1745.5 1407.7,1749.3C1412.0,1753.1 1418.5,1759.3 1419.3,1763.2C1420.0,1767.0 1415.8,1770.1 1412.3,1772.4C1408.9,1774.7 1402.0,1775.5 1398.5,1777.0C1395.0,1778.5 1391.6,1783.9 1391.6,1781.6C1391.6,1779.3 1395.8,1767.8 1398.5,1763.2C1401.2,1758.5 1406.2,1755.5 1407.7,1753.9" fill="none" stroke="#1fb0bb" stroke-width="3.8" stroke-linecap="round" stroke-linejoin="round"/><path d="M1403.1,1677.7C1403.9,1680.1 1408.5,1687.4 1407.7,1691.6C1407.0,1695.8 1401.6,1700.1 1398.5,1703.1C1395.4,1706.2 1391.6,1707.0 1389.3,1710.1C1386.9,1713.1 1383.9,1716.6 1384.6,1721.6C1385.4,1726.6 1390.0,1735.5 1393.9,1740.1C1397.7,1744.7 1403.5,1745.5 1407.7,1749.3C1412.0,1753.1 1418.5,1759.3 1419.3,1763.2C1420.0,1767.0 1415.8,1770.1 1412.3,1772.4C1408.9,1774.7 1402.0,1775.5 1398.5,1777.0C1395.0,1778.5 1391.6,1783.9 1391.6,1781.6C1391.6,1779.3 1395.8,1767.8 1398.5,1763.2C1401.2,1758.5 1406.2,1755.5 1407.7,1753.9" fill="none" stroke="#35d3dc" stroke-width="2.7" stroke-linecap="round" stroke-linejoin="round"/>
<path d="M1421.6,1689.3C1419.6,1690.8 1413.1,1694.7 1410.0,1698.5C1407.0,1702.4 1403.5,1707.0 1403.1,1712.4C1402.7,1717.8 1404.6,1724.7 1407.7,1730.8C1410.8,1737.0 1419.3,1746.2 1421.6,1749.3" fill="none" stroke="#1fb0bb" stroke-width="3.8" stroke-linecap="round" stroke-linejoin="round"/><path d="M1421.6,1689.3C1419.6,1690.8 1413.1,1694.7 1410.0,1698.5C1407.0,1702.4 1403.5,1707.0 1403.1,1712.4C1402.7,1717.8 1404.6,1724.7 1407.7,1730.8C1410.8,1737.0 1419.3,1746.2 1421.6,1749.3" fill="none" stroke="#35d3dc" stroke-width="2.7" stroke-linecap="round" stroke-linejoin="round"/>
<path d="M1435.4,1670.8C1437.0,1667.7 1440.0,1657.7 1444.7,1652.4C1449.3,1647.0 1457.0,1641.6 1463.1,1638.5C1469.3,1635.4 1478.5,1634.7 1481.6,1633.9" fill="none" stroke="#1fb0bb" stroke-width="3.8" stroke-linecap="round" stroke-linejoin="round"/><path d="M1435.4,1670.8C1437.0,1667.7 1440.0,1657.7 1444.7,1652.4C1449.3,1647.0 1457.0,1641.6 1463.1,1638.5C1469.3,1635.4 1478.5,1634.7 1481.6,1633.9" fill="none" stroke="#35d3dc" stroke-width="2.7" stroke-linecap="round" stroke-linejoin="round"/>
<path d="M1430.8,1687.0L1435.4,1675.4" fill="none" stroke="#1fb0bb" stroke-width="3.8" stroke-linecap="round" stroke-linejoin="round"/><path d="M1430.8,1687.0L1435.4,1675.4" fill="none" stroke="#35d3dc" stroke-width="2.7" stroke-linecap="round" stroke-linejoin="round"/>
<path d="M1518.5,1527.7C1517.7,1524.6 1511.6,1513.9 1513.9,1509.3C1516.2,1504.6 1529.3,1501.6 1532.4,1500.0" fill="none" stroke="#1fb0bb" stroke-width="3.8" stroke-linecap="round" stroke-linejoin="round"/><path d="M1518.5,1527.7C1517.7,1524.6 1511.6,1513.9 1513.9,1509.3C1516.2,1504.6 1529.3,1501.6 1532.4,1500.0" fill="none" stroke="#35d3dc" stroke-width="2.7" stroke-linecap="round" stroke-linejoin="round"/>
<path d="M1534.7,1504.6C1537.4,1505.4 1546.6,1505.4 1550.8,1509.3C1555.1,1513.1 1558.1,1522.0 1560.1,1527.7C1562.0,1533.5 1560.4,1540.8 1562.4,1543.9C1564.3,1547.0 1566.6,1548.5 1571.6,1546.2C1576.6,1543.9 1588.9,1532.7 1592.4,1530.0" fill="none" stroke="#1fb0bb" stroke-width="3.8" stroke-linecap="round" stroke-linejoin="round"/><path d="M1534.7,1504.6C1537.4,1505.4 1546.6,1505.4 1550.8,1509.3C1555.1,1513.1 1558.1,1522.0 1560.1,1527.7C1562.0,1533.5 1560.4,1540.8 1562.4,1543.9C1564.3,1547.0 1566.6,1548.5 1571.6,1546.2C1576.6,1543.9 1588.9,1532.7 1592.4,1530.0" fill="none" stroke="#35d3dc" stroke-width="2.7" stroke-linecap="round" stroke-linejoin="round"/>
<path d="M1453.9,1610.8C1456.2,1612.4 1462.3,1619.3 1467.7,1620.0C1473.1,1620.8 1480.4,1618.5 1486.2,1615.4C1492.0,1612.4 1499.3,1606.2 1502.4,1601.6C1505.4,1597.0 1506.6,1590.8 1504.7,1587.7C1502.7,1584.7 1495.8,1582.3 1490.8,1583.1C1485.8,1583.9 1478.5,1587.7 1474.7,1592.3C1470.8,1597.0 1468.9,1607.7 1467.7,1610.8" fill="none" stroke="#1fb0bb" stroke-width="3.8" stroke-linecap="round" stroke-linejoin="round"/><path d="M1453.9,1610.8C1456.2,1612.4 1462.3,1619.3 1467.7,1620.0C1473.1,1620.8 1480.4,1618.5 1486.2,1615.4C1492.0,1612.4 1499.3,1606.2 1502.4,1601.6C1505.4,1597.0 1506.6,1590.8 1504.7,1587.7C1502.7,1584.7 1495.8,1582.3 1490.8,1583.1C1485.8,1583.9 1478.5,1587.7 1474.7,1592.3C1470.8,1597.0 1468.9,1607.7 1467.7,1610.8" fill="none" stroke="#35d3dc" stroke-width="2.7" stroke-linecap="round" stroke-linejoin="round"/>
<path d="M1460.8,1580.8L1470.0,1571.6" fill="none" stroke="#1fb0bb" stroke-width="3.8" stroke-linecap="round" stroke-linejoin="round"/><path d="M1460.8,1580.8L1470.0,1571.6" fill="none" stroke="#35d3dc" stroke-width="2.7" stroke-linecap="round" stroke-linejoin="round"/>
<path d="M1573.9,1571.6C1572.4,1574.3 1568.5,1583.5 1564.7,1587.7C1560.8,1592.0 1555.1,1595.0 1550.8,1597.0C1546.6,1598.9 1542.4,1597.0 1539.3,1599.3C1536.2,1601.6 1533.9,1606.6 1532.4,1610.8C1530.8,1615.0 1532.4,1620.8 1530.1,1624.7C1527.7,1628.5 1523.9,1632.0 1518.5,1633.9C1513.1,1635.8 1503.9,1634.3 1497.7,1636.2C1491.6,1638.1 1484.7,1642.0 1481.6,1645.4C1478.5,1648.9 1478.1,1653.1 1479.3,1657.0C1480.4,1660.8 1484.7,1666.2 1488.5,1668.5C1492.4,1670.8 1498.1,1672.4 1502.4,1670.8C1506.6,1669.3 1511.6,1662.4 1513.9,1659.3C1516.2,1656.2 1515.8,1653.5 1516.2,1652.4" fill="none" stroke="#1fb0bb" stroke-width="3.8" stroke-linecap="round" stroke-linejoin="round"/><path d="M1573.9,1571.6C1572.4,1574.3 1568.5,1583.5 1564.7,1587.7C1560.8,1592.0 1555.1,1595.0 1550.8,1597.0C1546.6,1598.9 1542.4,1597.0 1539.3,1599.3C1536.2,1601.6 1533.9,1606.6 1532.4,1610.8C1530.8,1615.0 1532.4,1620.8 1530.1,1624.7C1527.7,1628.5 1523.9,1632.0 1518.5,1633.9C1513.1,1635.8 1503.9,1634.3 1497.7,1636.2C1491.6,1638.1 1484.7,1642.0 1481.6,1645.4C1478.5,1648.9 1478.1,1653.1 1479.3,1657.0C1480.4,1660.8 1484.7,1666.2 1488.5,1668.5C1492.4,1670.8 1498.1,1672.4 1502.4,1670.8C1506.6,1669.3 1511.6,1662.4 1513.9,1659.3C1516.2,1656.2 1515.8,1653.5 1516.2,1652.4" fill="none" stroke="#35d3dc" stroke-width="2.7" stroke-linecap="round" stroke-linejoin="round"/>
<path d="M1534.7,1587.7L1534.7,1599.3" fill="none" stroke="#1fb0bb" stroke-width="3.8" stroke-linecap="round" stroke-linejoin="round"/><path d="M1534.7,1587.7L1534.7,1599.3" fill="none" stroke="#35d3dc" stroke-width="2.7" stroke-linecap="round" stroke-linejoin="round"/>
<path d="M1530.1,1622.4L1525.4,1636.2" fill="none" stroke="#1fb0bb" stroke-width="3.8" stroke-linecap="round" stroke-linejoin="round"/><path d="M1530.1,1622.4L1525.4,1636.2" fill="none" stroke="#35d3dc" stroke-width="2.7" stroke-linecap="round" stroke-linejoin="round"/>
<path d="M1375.4,1657.0C1376.2,1659.3 1377.3,1667.4 1380.0,1670.8C1382.7,1674.3 1389.6,1676.6 1391.6,1677.7" fill="none" stroke="#1fb0bb" stroke-width="3.8" stroke-linecap="round" stroke-linejoin="round"/><path d="M1375.4,1657.0C1376.2,1659.3 1377.3,1667.4 1380.0,1670.8C1382.7,1674.3 1389.6,1676.6 1391.6,1677.7" fill="none" stroke="#35d3dc" stroke-width="2.7" stroke-linecap="round" stroke-linejoin="round"/>
<path d="M1396.2,1645.4L1398.5,1663.9" fill="none" stroke="#1fb0bb" stroke-width="3.8" stroke-linecap="round" stroke-linejoin="round"/><path d="M1396.2,1645.4L1398.5,1663.9" fill="none" stroke="#35d3dc" stroke-width="2.7" stroke-linecap="round" stroke-linejoin="round"/>
<path d="M1417.0,1474.6C1421.6,1475.0 1438.1,1478.5 1444.7,1476.9C1451.2,1475.4 1453.1,1470.0 1456.2,1465.4C1459.3,1460.8 1460.0,1451.9 1463.1,1449.2C1466.2,1446.6 1472.0,1446.2 1474.7,1449.2C1477.3,1452.3 1479.7,1461.9 1479.3,1467.7C1478.9,1473.5 1472.0,1478.5 1472.3,1483.9C1472.7,1489.3 1477.0,1495.8 1481.6,1500.0C1486.2,1504.3 1497.0,1507.7 1500.0,1509.3" fill="none" stroke="#8f8f8f" stroke-width="3.8" stroke-linecap="round" stroke-linejoin="round"/><path d="M1417.0,1474.6C1421.6,1475.0 1438.1,1478.5 1444.7,1476.9C1451.2,1475.4 1453.1,1470.0 1456.2,1465.4C1459.3,1460.8 1460.0,1451.9 1463.1,1449.2C1466.2,1446.6 1472.0,1446.2 1474.7,1449.2C1477.3,1452.3 1479.7,1461.9 1479.3,1467.7C1478.9,1473.5 1472.0,1478.5 1472.3,1483.9C1472.7,1489.3 1477.0,1495.8 1481.6,1500.0C1486.2,1504.3 1497.0,1507.7 1500.0,1509.3" fill="none" stroke="#cdcdcd" stroke-width="2.7" stroke-linecap="round" stroke-linejoin="round"/>
<path d="M1398.0,1654.2L1397.8,1651.1L1397.5,1648.1L1397.3,1645.1L1397.0,1642.1L1396.7,1639.1L1396.4,1636.2L1396.2,1633.2L1395.9,1630.2L1395.6,1627.2L1395.4,1624.2L1395.1,1621.2L1394.9,1618.3L1394.6,1615.3L1394.4,1612.3L1394.2,1609.3L1394.0,1606.4L1393.8,1603.4L1393.6,1600.4L1393.4,1597.5L1393.2,1594.6L1393.1,1591.6L1393.0,1588.7L1393.0,1585.8L1393.0,1582.9L1393.0,1580.0L1393.1,1577.0L1393.2,1574.1L1393.3,1571.2L1393.5,1568.3L1393.7,1565.4L1393.9,1562.4L1394.2,1559.4L1394.4,1556.5L1394.7,1553.5L1395.0,1550.6L1395.3,1547.6L1395.6,1544.5L1382.6,1543.4L1382.3,1546.4L1382.0,1549.3L1381.8,1552.3L1381.5,1555.3L1381.2,1558.4L1381.0,1561.4L1380.7,1564.4L1380.5,1567.5L1380.3,1570.5L1380.2,1573.6L1380.1,1576.7L1380.0,1579.7L1380.0,1582.8L1380.0,1585.9L1380.0,1589.0L1380.1,1592.1L1380.3,1595.2L1380.4,1598.2L1380.6,1601.3L1380.8,1604.3L1381.0,1607.3L1381.2,1610.3L1381.4,1613.3L1381.7,1616.3L1381.9,1619.3L1382.2,1622.3L1382.4,1625.3L1382.7,1628.3L1383.0,1631.3L1383.2,1634.3L1383.5,1637.3L1383.8,1640.3L1384.0,1643.3L1384.3,1646.3L1384.6,1649.3L1384.8,1652.2L1385.1,1655.2Z" fill="#2cc7d0" stroke="#1fb0bb" stroke-width="1.2" stroke-linejoin="round"/>
<path d="M1456.2,1430.7L1458.3,1432.9L1460.4,1435.0L1462.5,1437.1L1464.6,1439.3L1466.7,1441.4L1468.8,1443.6L1471.0,1445.7L1473.2,1447.8L1475.4,1450.0L1477.7,1452.2L1480.1,1454.3L1482.5,1456.3L1484.9,1458.2L1487.3,1460.1L1489.6,1461.9L1491.8,1463.8L1494.0,1465.6L1495.9,1467.5L1497.7,1469.4L1499.2,1471.3L1500.5,1473.3L1501.7,1475.5L1502.9,1477.8L1503.9,1480.3L1505.0,1482.9L1506.0,1485.6L1506.9,1488.4L1507.9,1491.2L1508.8,1494.1L1509.9,1497.1L1522.1,1492.5L1521.1,1489.9L1520.2,1487.1L1519.2,1484.2L1518.2,1481.3L1517.1,1478.4L1516.0,1475.4L1514.7,1472.4L1513.2,1469.4L1511.5,1466.3L1509.5,1463.3L1507.2,1460.6L1504.9,1458.1L1502.5,1455.8L1500.1,1453.7L1497.7,1451.8L1495.3,1449.9L1492.9,1448.0L1490.6,1446.2L1488.5,1444.4L1486.4,1442.5L1484.4,1440.6L1482.3,1438.6L1480.2,1436.5L1478.1,1434.4L1475.9,1432.3L1473.8,1430.1L1471.8,1428.0L1469.7,1425.9L1467.6,1423.7L1465.4,1421.6Z" fill="#3adbe3" stroke="#1fb0bb" stroke-width="1.2" stroke-linejoin="round"/>
<path d="M1520.9,1523.5L1521.1,1520.6L1521.3,1517.6L1521.5,1514.6L1521.7,1511.6L1521.9,1508.6L1522.1,1505.6L1522.3,1502.6L1522.5,1499.6L1522.7,1496.6L1522.9,1493.6L1523.0,1490.5L1523.1,1487.4L1523.2,1484.4L1523.3,1481.2L1523.3,1478.1L1523.3,1475.1L1523.2,1471.7L1523.0,1468.7L1522.7,1465.6L1522.4,1462.5L1522.1,1459.3L1521.6,1456.1L1521.1,1453.0L1520.4,1449.8L1519.7,1446.6L1518.8,1443.5L1517.8,1440.4L1516.7,1437.3L1515.3,1434.1L1513.7,1430.9L1512.2,1428.3L1510.3,1425.4L1508.4,1422.8L1511.6,1420.4L1491.3,1413.0L1493.9,1433.4L1497.1,1431.1L1498.7,1433.2L1500.1,1435.4L1501.6,1438.0L1502.7,1440.2L1503.7,1442.5L1504.6,1445.1L1505.4,1447.7L1506.1,1450.3L1506.8,1453.0L1507.3,1455.7L1507.8,1458.4L1508.2,1461.2L1508.5,1464.0L1508.8,1466.8L1509.0,1469.6L1509.2,1472.6L1509.3,1475.3L1509.3,1478.3L1509.3,1481.1L1509.2,1484.0L1509.1,1486.9L1509.0,1489.8L1508.9,1492.8L1508.7,1495.7L1508.5,1498.7L1508.3,1501.7L1508.1,1504.7L1507.9,1507.6L1507.7,1510.6L1507.5,1513.6L1507.3,1516.6L1507.1,1519.7L1506.9,1522.7Z" fill="#3adbe3" stroke="#1fb0bb" stroke-width="1.2" stroke-linejoin="round"/>
<path d="M1514.4,1485.2L1516.3,1487.4L1518.3,1489.7L1520.3,1492.0L1522.3,1494.2L1524.2,1496.5L1526.2,1498.7L1528.2,1501.0L1530.2,1503.2L1538.5,1496.0L1536.5,1493.7L1534.5,1491.5L1532.5,1489.2L1530.6,1487.0L1528.6,1484.7L1526.6,1482.5L1524.6,1480.2L1522.7,1477.9Z" fill="#3adbe3" stroke="#1fb0bb" stroke-width="1.2" stroke-linejoin="round"/>
<path d="M1439.1,1669.4L1439.4,1666.3L1439.6,1663.2L1439.8,1660.2L1440.0,1657.2L1440.2,1654.2L1440.4,1651.2L1440.6,1648.3L1440.8,1645.3L1441.1,1642.3L1441.3,1639.4L1441.6,1636.5L1441.8,1633.6L1442.1,1630.7L1442.5,1627.7L1442.8,1624.8L1443.2,1622.0L1443.6,1619.1L1444.0,1616.4L1444.5,1613.7L1445.1,1611.0L1445.8,1608.5L1446.5,1605.9L1447.3,1603.3L1448.3,1600.7L1449.2,1598.0L1450.3,1595.4L1451.4,1592.7L1452.5,1589.9L1453.7,1587.1L1454.9,1584.3L1456.0,1581.4L1457.2,1578.4L1458.3,1575.4L1459.3,1572.2L1460.3,1569.0L1461.1,1565.8L1461.7,1562.8L1462.4,1559.8L1463.0,1556.8L1463.6,1553.7L1464.1,1550.6L1464.6,1547.4L1465.1,1544.2L1465.5,1541.0L1465.8,1537.8L1466.0,1534.4L1466.1,1531.1L1466.1,1527.6L1465.9,1524.1L1465.2,1519.9L1464.5,1517.0L1462.9,1512.8L1461.0,1509.1L1458.9,1505.8L1456.9,1502.9L1455.0,1500.5L1452.9,1498.0L1451.0,1495.8L1436.4,1508.0L1438.4,1510.3L1440.1,1512.4L1442.0,1514.7L1443.4,1516.7L1444.5,1518.5L1445.3,1520.1L1446.0,1521.4L1446.7,1524.4L1447.0,1526.1L1447.1,1528.6L1447.1,1531.1L1447.0,1533.7L1446.8,1536.4L1446.6,1539.1L1446.2,1541.9L1445.9,1544.6L1445.4,1547.4L1444.9,1550.2L1444.4,1553.0L1443.8,1555.8L1443.2,1558.7L1442.5,1561.5L1441.9,1564.2L1441.1,1566.7L1440.3,1569.3L1439.4,1571.9L1438.3,1574.5L1437.3,1577.1L1436.1,1579.8L1435.0,1582.6L1433.8,1585.4L1432.7,1588.3L1431.5,1591.2L1430.4,1594.1L1429.4,1597.2L1428.4,1600.3L1427.4,1603.5L1426.6,1606.7L1425.9,1610.0L1425.3,1613.2L1424.8,1616.3L1424.3,1619.4L1423.9,1622.5L1423.6,1625.6L1423.2,1628.6L1422.9,1631.7L1422.6,1634.8L1422.4,1637.8L1422.1,1640.8L1421.9,1643.9L1421.7,1646.9L1421.5,1649.9L1421.3,1652.9L1421.1,1655.9L1420.9,1658.9L1420.7,1661.9L1420.4,1664.8L1420.2,1667.7Z" fill="#3adbe3" stroke="#1fb0bb" stroke-width="1.2" stroke-linejoin="round"/>
<path d="M1418.0,1667.9L1417.8,1664.8L1417.5,1661.8L1417.2,1658.8L1416.9,1655.8L1416.6,1652.8L1416.3,1649.8L1416.0,1646.8L1415.7,1643.9L1415.5,1640.9L1415.2,1637.9L1414.9,1634.9L1414.6,1632.0L1414.4,1629.0L1414.1,1626.0L1413.9,1623.1L1413.6,1620.1L1413.4,1617.2L1413.2,1614.2L1413.0,1611.2L1412.8,1608.3L1412.7,1605.3L1412.5,1602.4L1412.4,1599.5L1412.3,1596.6L1412.3,1593.7L1412.2,1590.7L1412.3,1587.8L1412.3,1584.9L1412.4,1582.1L1412.6,1579.2L1412.7,1576.3L1413.0,1573.4L1413.2,1570.5L1413.5,1567.6L1413.8,1564.7L1414.1,1561.8L1414.5,1558.9L1414.8,1555.9L1415.2,1553.0L1415.6,1550.1L1416.1,1547.1L1416.5,1544.2L1417.0,1541.3L1417.4,1538.3L1417.9,1535.3L1418.3,1532.4L1418.8,1529.4L1419.3,1526.4L1419.7,1523.4L1420.1,1520.4L1420.6,1517.4L1421.0,1514.5L1421.4,1511.6L1421.9,1508.7L1422.4,1505.7L1422.9,1502.8L1423.4,1499.9L1423.8,1496.9L1424.4,1494.0L1424.9,1491.1L1425.4,1488.1L1425.9,1485.2L1426.5,1482.2L1427.0,1479.3L1427.5,1476.3L1428.1,1473.4L1428.6,1470.4L1429.1,1467.4L1413.4,1464.6L1412.9,1467.6L1412.3,1470.5L1411.8,1473.5L1411.2,1476.4L1410.7,1479.4L1410.2,1482.3L1409.6,1485.3L1409.1,1488.3L1408.6,1491.2L1408.1,1494.2L1407.6,1497.2L1407.1,1500.2L1406.6,1503.2L1406.1,1506.1L1405.6,1509.1L1405.2,1512.2L1404.7,1515.2L1404.3,1518.1L1403.9,1521.1L1403.4,1524.0L1403.0,1527.0L1402.5,1529.9L1402.1,1532.9L1401.6,1535.8L1401.1,1538.8L1400.7,1541.8L1400.2,1544.8L1399.8,1547.8L1399.4,1550.8L1399.0,1553.8L1398.6,1556.9L1398.2,1559.9L1397.9,1563.0L1397.6,1566.0L1397.3,1569.1L1397.0,1572.2L1396.8,1575.3L1396.6,1578.4L1396.4,1581.5L1396.3,1584.6L1396.3,1587.7L1396.2,1590.8L1396.3,1593.8L1396.3,1596.9L1396.4,1600.0L1396.6,1603.1L1396.7,1606.2L1396.9,1609.2L1397.0,1612.3L1397.2,1615.3L1397.5,1618.3L1397.7,1621.3L1397.9,1624.3L1398.2,1627.4L1398.4,1630.4L1398.7,1633.4L1399.0,1636.4L1399.2,1639.4L1399.5,1642.4L1399.8,1645.4L1400.1,1648.4L1400.4,1651.4L1400.7,1654.4L1401.0,1657.3L1401.3,1660.3L1401.6,1663.3L1401.8,1666.2L1402.1,1669.1Z" fill="#3adbe3" stroke="#1fb0bb" stroke-width="1.2" stroke-linejoin="round"/>
<path d="M1385.0,1644.8L1384.8,1641.8L1384.5,1638.7L1384.3,1635.7L1384.0,1632.7L1383.7,1629.7L1383.5,1626.7L1383.2,1623.8L1382.9,1620.8L1382.7,1617.8L1382.4,1614.8L1382.2,1611.8L1381.9,1608.9L1381.7,1605.9L1381.4,1602.9L1381.2,1599.9L1380.9,1597.0L1380.7,1594.0L1380.5,1591.0L1380.3,1588.1L1380.1,1585.1L1379.9,1582.2L1379.8,1579.2L1379.6,1576.3L1379.5,1573.4L1379.4,1570.4L1379.3,1567.4L1379.3,1564.5L1379.3,1561.7L1379.3,1558.8L1379.4,1555.9L1379.5,1553.0L1379.6,1550.1L1379.7,1547.2L1379.9,1544.2L1380.1,1541.2L1380.3,1538.3L1380.6,1535.4L1380.8,1532.4L1381.1,1529.5L1381.3,1526.5L1381.6,1523.6L1381.9,1520.6L1382.2,1517.6L1382.5,1514.7L1382.8,1511.7L1383.2,1508.7L1383.4,1505.7L1383.7,1502.6L1384.0,1499.6L1384.2,1496.6L1384.5,1493.6L1389.0,1494.0L1378.1,1472.0L1363.1,1491.7L1367.5,1492.1L1367.3,1495.2L1367.0,1498.2L1366.8,1501.1L1366.5,1504.0L1366.2,1507.0L1365.9,1509.9L1365.6,1512.9L1365.3,1515.9L1365.0,1518.9L1364.7,1521.9L1364.4,1524.9L1364.1,1527.9L1363.9,1531.0L1363.6,1534.0L1363.4,1537.1L1363.1,1540.1L1362.9,1543.1L1362.8,1546.2L1362.6,1549.3L1362.5,1552.3L1362.4,1555.4L1362.3,1558.5L1362.3,1561.7L1362.3,1564.8L1362.3,1567.9L1362.4,1571.0L1362.5,1574.0L1362.7,1577.0L1362.8,1580.1L1363.0,1583.1L1363.2,1586.2L1363.4,1589.2L1363.6,1592.2L1363.8,1595.2L1364.0,1598.2L1364.2,1601.3L1364.5,1604.3L1364.7,1607.3L1365.0,1610.3L1365.2,1613.3L1365.5,1616.3L1365.7,1619.3L1366.0,1622.3L1366.3,1625.3L1366.5,1628.3L1366.8,1631.3L1367.1,1634.2L1367.3,1637.2L1367.6,1640.2L1367.9,1643.1L1368.1,1646.1Z" fill="#3adbe3" stroke="#1fb0bb" stroke-width="1.2" stroke-linejoin="round"/>
<path d="M1449.0,1616.3L1451.3,1614.5L1453.7,1612.7L1456.0,1610.8L1458.4,1609.0L1460.8,1607.1L1463.2,1605.3L1465.6,1603.4L1467.9,1601.6L1470.3,1599.7L1472.7,1597.8L1475.0,1595.9L1477.4,1593.9L1479.8,1591.9L1482.1,1589.9L1484.5,1587.8L1486.8,1585.7L1489.0,1583.6L1491.2,1581.3L1493.4,1579.1L1495.5,1576.9L1498.4,1579.6L1500.4,1561.0L1482.3,1564.6L1485.3,1567.3L1483.3,1569.4L1481.2,1571.5L1479.2,1573.5L1477.1,1575.6L1475.0,1577.5L1472.9,1579.4L1470.7,1581.3L1468.5,1583.2L1466.2,1585.0L1463.9,1586.9L1461.6,1588.7L1459.2,1590.6L1456.9,1592.4L1454.6,1594.2L1452.2,1596.1L1449.8,1597.9L1447.5,1599.7L1445.1,1601.6L1442.7,1603.4L1440.3,1605.3Z" fill="#3adbe3" stroke="#1fb0bb" stroke-width="1.2" stroke-linejoin="round"/>
<path d="M1371.9,1608.6L1374.8,1609.2L1377.7,1609.8L1380.7,1610.4L1383.6,1611.1L1386.6,1611.7L1389.5,1612.3L1392.4,1612.9L1395.4,1613.5L1398.3,1614.1L1400.8,1602.4L1397.8,1601.8L1394.9,1601.1L1391.9,1600.5L1389.0,1599.9L1386.1,1599.3L1383.1,1598.7L1380.2,1598.1L1377.3,1597.5L1374.3,1596.9Z" fill="#3adbe3" stroke="#1fb0bb" stroke-width="1.2" stroke-linejoin="round"/>
<path d="M1370.8,1645.4L1391.6,1645.4L1391.6,1657.0L1373.1,1657.0Z" fill="#2cc7d0" stroke="#1fb0bb" stroke-width="1.2" stroke-linejoin="round"/>
<path d="M1323.8,1579.3L1324.2,1582.2L1324.6,1585.2L1325.1,1588.2L1325.5,1591.2L1325.9,1594.1L1336.8,1592.6L1336.4,1589.6L1336.0,1586.6L1335.5,1583.7L1335.1,1580.7L1334.7,1577.7Z" fill="#3adbe3" stroke="#1fb0bb" stroke-width="1.2" stroke-linejoin="round"/>
<path d="M1320.5,1591.9L1343.6,1593.5L1335.2,1626.0Z" fill="#3adbe3" stroke="#1fb0bb" stroke-width="1.2" stroke-linejoin="round"/>
<path d="M1291.0,1567.2L1293.2,1568.8L1295.5,1570.7L1298.0,1572.7L1300.5,1574.6L1302.9,1576.4L1305.7,1578.2L1308.8,1580.0L1312.4,1581.5L1316.2,1582.4L1319.8,1582.8L1323.4,1582.9L1327.2,1582.6L1331.1,1581.8L1335.1,1580.2L1338.9,1577.5L1341.8,1573.6L1343.2,1569.6L1343.8,1566.0L1344.0,1562.6L1344.1,1559.3L1344.0,1556.3L1343.9,1553.1L1343.7,1550.1L1343.6,1547.0L1343.4,1544.1L1331.4,1544.7L1331.6,1547.8L1331.8,1550.8L1331.9,1553.7L1332.0,1556.5L1332.1,1559.5L1332.0,1562.2L1331.8,1564.8L1331.5,1567.1L1330.8,1568.8L1330.0,1569.5L1328.8,1570.0L1327.2,1570.4L1325.2,1570.8L1323.0,1570.9L1320.6,1570.9L1318.2,1570.6L1316.3,1570.2L1314.4,1569.4L1312.2,1568.2L1310.0,1566.7L1307.6,1565.0L1305.4,1563.2L1303.1,1561.4L1300.8,1559.5L1298.2,1557.5Z" fill="#3adbe3" stroke="#1fb0bb" stroke-width="1.2" stroke-linejoin="round"/>
<ellipse cx="1314.2" cy="1550.8" rx="14" ry="9" fill="#9fdfe3"/>
<ellipse cx="1314.2" cy="1550.8" rx="18.0" ry="13.0" fill="none" stroke="#1fb0bb" stroke-width="13.6" transform="rotate(0 1314.2 1550.8)"/><ellipse cx="1314.2" cy="1550.8" rx="18.0" ry="13.0" fill="none" stroke="#3adbe3" stroke-width="12.0" transform="rotate(0 1314.2 1550.8)"/>
<path d="M1292.1,1539.8L1289.8,1537.4L1287.8,1535.4L1285.7,1533.3L1284.0,1531.3L1282.8,1529.7L1282.1,1529.0L1281.6,1528.7L1282.0,1527.2L1283.1,1525.4L1284.5,1523.5L1286.5,1521.2L1288.3,1519.5L1290.3,1517.7L1292.4,1516.1L1294.1,1515.0L1295.9,1514.2L1298.2,1513.5L1301.1,1512.9L1303.8,1512.5L1306.6,1512.1L1305.0,1500.2L1302.0,1500.6L1298.6,1501.2L1295.7,1501.8L1292.2,1502.8L1288.6,1504.4L1285.3,1506.5L1282.6,1508.6L1280.0,1510.8L1277.6,1513.2L1275.6,1515.4L1273.4,1518.3L1271.4,1521.6L1270.0,1525.8L1270.3,1531.4L1272.5,1535.9L1274.8,1539.1L1277.1,1541.7L1279.2,1543.8L1281.5,1546.0L1283.3,1547.9Z" fill="#3adbe3" stroke="#1fb0bb" stroke-width="1.2" stroke-linejoin="round"/>
<path d="M1500.2,1506.0L1498.6,1508.2L1496.7,1510.6L1494.7,1513.1L1493.0,1515.6L1491.2,1518.4L1489.5,1521.5L1488.1,1525.3L1487.7,1530.0L1488.5,1534.2L1489.7,1537.7L1491.1,1540.8L1492.4,1543.5L1493.9,1546.2L1503.6,1540.9L1502.2,1538.4L1500.8,1535.7L1499.8,1533.3L1499.1,1531.2L1498.7,1529.5L1498.7,1528.3L1499.3,1526.4L1500.4,1524.3L1501.8,1522.1L1503.6,1519.6L1505.3,1517.4L1507.2,1515.1L1509.1,1512.5Z" fill="#3adbe3" stroke="#1fb0bb" stroke-width="1.2" stroke-linejoin="round"/>
<ellipse cx="1516.2" cy="1552.0" rx="12" ry="7" fill="#9fdfe3"/>
<ellipse cx="1516.2" cy="1552.0" rx="16.0" ry="11.0" fill="none" stroke="#1fb0bb" stroke-width="14.1" transform="rotate(0 1516.2 1552.0)"/><ellipse cx="1516.2" cy="1552.0" rx="16.0" ry="11.0" fill="none" stroke="#3adbe3" stroke-width="12.5" transform="rotate(0 1516.2 1552.0)"/>
<path d="M1403.7,1470.4L1402.4,1473.0L1401.0,1475.7L1399.7,1478.5L1398.4,1481.6L1397.3,1485.2L1397.0,1490.0L1397.7,1493.0L1399.7,1496.8L1401.8,1499.7L1403.6,1502.0L1410.8,1496.6L1408.9,1494.1L1407.5,1492.2L1406.5,1490.8L1405.7,1487.9L1406.1,1486.8L1406.8,1484.8L1407.8,1482.3L1409.1,1479.7L1410.4,1477.1L1411.8,1474.3Z" fill="#cdcdcd" stroke="#8f8f8f" stroke-width="1.2" stroke-linejoin="round"/>
<ellipse cx="1420.4" cy="1523.1" rx="19.0" ry="13.0" fill="none" stroke="#8f8f8f" stroke-width="11.6" transform="rotate(15 1420.4 1523.1)"/><ellipse cx="1420.4" cy="1523.1" rx="19.0" ry="13.0" fill="none" stroke="#cdcdcd" stroke-width="10.0" transform="rotate(15 1420.4 1523.1)"/>
<path d="M1315.4,1616.6C1313.9,1616.4 1309.2,1613.3 1306.2,1615.4C1303.1,1617.5 1299.6,1624.3 1296.9,1629.3C1294.2,1634.3 1292.3,1642.4 1290.0,1645.4C1287.7,1648.5 1284.0,1646.3 1283.1,1647.7C1282.2,1649.1 1284.0,1650.5 1284.7,1653.8C1285.3,1657.2 1287.0,1661.9 1287.0,1667.7C1287.0,1673.5 1288.1,1683.1 1284.7,1688.5C1281.2,1693.9 1270.0,1695.4 1266.2,1700.0C1262.4,1704.6 1260.8,1710.0 1261.6,1716.2C1262.4,1722.3 1268.1,1729.6 1270.8,1736.9C1273.5,1744.3 1277.7,1753.9 1277.7,1760.0C1277.7,1766.2 1274.7,1769.3 1270.8,1773.9C1267.0,1778.5 1257.7,1782.3 1254.7,1787.7C1251.6,1793.1 1251.2,1800.0 1252.3,1806.2C1253.5,1812.3 1260.4,1818.5 1261.6,1824.7C1262.7,1830.8 1261.6,1838.5 1259.3,1843.1C1257.0,1847.7 1251.6,1851.6 1247.7,1852.3C1243.9,1853.1 1238.1,1848.5 1236.2,1847.7" fill="none" stroke="#8f8f8f" stroke-width="4.0" stroke-linecap="round" stroke-linejoin="round"/><path d="M1315.4,1616.6C1313.9,1616.4 1309.2,1613.3 1306.2,1615.4C1303.1,1617.5 1299.6,1624.3 1296.9,1629.3C1294.2,1634.3 1292.3,1642.4 1290.0,1645.4C1287.7,1648.5 1284.0,1646.3 1283.1,1647.7C1282.2,1649.1 1284.0,1650.5 1284.7,1653.8C1285.3,1657.2 1287.0,1661.9 1287.0,1667.7C1287.0,1673.5 1288.1,1683.1 1284.7,1688.5C1281.2,1693.9 1270.0,1695.4 1266.2,1700.0C1262.4,1704.6 1260.8,1710.0 1261.6,1716.2C1262.4,1722.3 1268.1,1729.6 1270.8,1736.9C1273.5,1744.3 1277.7,1753.9 1277.7,1760.0C1277.7,1766.2 1274.7,1769.3 1270.8,1773.9C1267.0,1778.5 1257.7,1782.3 1254.7,1787.7C1251.6,1793.1 1251.2,1800.0 1252.3,1806.2C1253.5,1812.3 1260.4,1818.5 1261.6,1824.7C1262.7,1830.8 1261.6,1838.5 1259.3,1843.1C1257.0,1847.7 1251.6,1851.6 1247.7,1852.3C1243.9,1853.1 1238.1,1848.5 1236.2,1847.7" fill="none" stroke="#cfcfcf" stroke-width="2.9" stroke-linecap="round" stroke-linejoin="round"/>
<path d="M711.5,1680.0L720.8,1670.8L734.6,1673.1L736.9,1680.0L725.4,1688.1L713.8,1685.8L711.5,1680.0" fill="none" stroke="#a80000" stroke-width="7.2" stroke-linecap="round" stroke-linejoin="round"/><path d="M711.5,1680.0L720.8,1670.8L734.6,1673.1L736.9,1680.0L725.4,1688.1L713.8,1685.8L711.5,1680.0" fill="none" stroke="#e30b0b" stroke-width="6.0" stroke-linecap="round" stroke-linejoin="round"/>
<path d="M734.6,1672.0L746.2,1662.7L756.5,1667.4L758.9,1682.4" fill="none" stroke="#a80000" stroke-width="9.2" stroke-linecap="round" stroke-linejoin="round"/><path d="M734.6,1672.0L746.2,1662.7L756.5,1667.4L758.9,1682.4" fill="none" stroke="#e30b0b" stroke-width="8.0" stroke-linecap="round" stroke-linejoin="round"/>
<path d="M756.5,1667.4L763.5,1646.6" fill="none" stroke="#a80000" stroke-width="9.2" stroke-linecap="round" stroke-linejoin="round"/><path d="M756.5,1667.4L763.5,1646.6" fill="none" stroke="#e30b0b" stroke-width="8.0" stroke-linecap="round" stroke-linejoin="round"/>
<path d="M784.2,1675.4L801.6,1678.9L810.8,1689.3L792.3,1688.1" fill="none" stroke="#a80000" stroke-width="9.2" stroke-linecap="round" stroke-linejoin="round"/><path d="M784.2,1675.4L801.6,1678.9L810.8,1689.3L792.3,1688.1" fill="none" stroke="#e30b0b" stroke-width="8.0" stroke-linecap="round" stroke-linejoin="round"/>
<path d="M801.6,1678.9L815.4,1677.7" fill="none" stroke="#a80000" stroke-width="9.2" stroke-linecap="round" stroke-linejoin="round"/><path d="M801.6,1678.9L815.4,1677.7" fill="none" stroke="#e30b0b" stroke-width="8.0" stroke-linecap="round" stroke-linejoin="round"/>
<path d="M830.4,1735.4L838.5,1726.2L850.0,1733.1L851.2,1747.0L843.1,1753.9L833.9,1749.3L830.4,1735.4" fill="none" stroke="#a80000" stroke-width="7.2" stroke-linecap="round" stroke-linejoin="round"/><path d="M830.4,1735.4L838.5,1726.2L850.0,1733.1L851.2,1747.0L843.1,1753.9L833.9,1749.3L830.4,1735.4" fill="none" stroke="#e30b0b" stroke-width="6.0" stroke-linecap="round" stroke-linejoin="round"/>
<path d="M850.0,1740.1L875.4,1742.4L882.3,1756.2L896.2,1763.1L914.7,1763.1L928.5,1740.1" fill="none" stroke="#a80000" stroke-width="9.2" stroke-linecap="round" stroke-linejoin="round"/><path d="M850.0,1740.1L875.4,1742.4L882.3,1756.2L896.2,1763.1L914.7,1763.1L928.5,1740.1" fill="none" stroke="#e30b0b" stroke-width="8.0" stroke-linecap="round" stroke-linejoin="round"/>
<path d="M882.3,1756.2L884.7,1735.4" fill="none" stroke="#a80000" stroke-width="9.2" stroke-linecap="round" stroke-linejoin="round"/><path d="M882.3,1756.2L884.7,1735.4" fill="none" stroke="#e30b0b" stroke-width="8.0" stroke-linecap="round" stroke-linejoin="round"/>
<path d="M896.2,1763.1L882.3,1779.3" fill="none" stroke="#a80000" stroke-width="9.2" stroke-linecap="round" stroke-linejoin="round"/><path d="M896.2,1763.1L882.3,1779.3" fill="none" stroke="#e30b0b" stroke-width="8.0" stroke-linecap="round" stroke-linejoin="round"/>
<path d="M914.7,1763.1L921.6,1781.6L935.4,1788.5L941.2,1785.1" fill="none" stroke="#a80000" stroke-width="9.2" stroke-linecap="round" stroke-linejoin="round"/><path d="M914.7,1763.1L921.6,1781.6L935.4,1788.5L941.2,1785.1" fill="none" stroke="#e30b0b" stroke-width="8.0" stroke-linecap="round" stroke-linejoin="round"/>
<path d="M910.7,1788 L925.4,1845" stroke="#ff0000" stroke-width="6.5" fill="none"/>
<path d="M1041.6,1759.7L1057.8,1763.1L1069.3,1756.2L1085.5,1752.8" fill="none" stroke="#a80000" stroke-width="9.2" stroke-linecap="round" stroke-linejoin="round"/><path d="M1041.6,1759.7L1057.8,1763.1L1069.3,1756.2L1085.5,1752.8" fill="none" stroke="#e30b0b" stroke-width="8.0" stroke-linecap="round" stroke-linejoin="round"/>
<path d="M1057.8,1763.1L1053.1,1774.7L1062.4,1781.6" fill="none" stroke="#a80000" stroke-width="9.2" stroke-linecap="round" stroke-linejoin="round"/><path d="M1057.8,1763.1L1053.1,1774.7L1062.4,1781.6" fill="none" stroke="#e30b0b" stroke-width="8.0" stroke-linecap="round" stroke-linejoin="round"/>
<path d="M1067.0,1749.3L1069.3,1756.2" fill="none" stroke="#a80000" stroke-width="9.2" stroke-linecap="round" stroke-linejoin="round"/><path d="M1067.0,1749.3L1069.3,1756.2" fill="none" stroke="#e30b0b" stroke-width="8.0" stroke-linecap="round" stroke-linejoin="round"/>
<path d="M1125.4,1678.1L1128.9,1693.1L1113.9,1701.2" fill="none" stroke="#a80000" stroke-width="7.2" stroke-linecap="round" stroke-linejoin="round"/><path d="M1125.4,1678.1L1128.9,1693.1L1113.9,1701.2" fill="none" stroke="#e30b0b" stroke-width="6.0" stroke-linecap="round" stroke-linejoin="round"/>
<path d="M1128.9,1693.1L1134.6,1708.1" fill="none" stroke="#a80000" stroke-width="7.2" stroke-linecap="round" stroke-linejoin="round"/><path d="M1128.9,1693.1L1134.6,1708.1" fill="none" stroke="#e30b0b" stroke-width="6.0" stroke-linecap="round" stroke-linejoin="round"/>
<path d="M1343.1,1413.5L1363.9,1415.8L1384.6,1419.2L1396.2,1414.6L1403.1,1403.1" fill="none" stroke="#a80000" stroke-width="8.7" stroke-linecap="round" stroke-linejoin="round"/><path d="M1343.1,1413.5L1363.9,1415.8L1384.6,1419.2L1396.2,1414.6L1403.1,1403.1" fill="none" stroke="#e30b0b" stroke-width="7.5" stroke-linecap="round" stroke-linejoin="round"/>
<path d="M1398.5,1412.3L1398.5,1433.1" fill="none" stroke="#a80000" stroke-width="7.7" stroke-linecap="round" stroke-linejoin="round"/><path d="M1398.5,1412.3L1398.5,1433.1" fill="none" stroke="#e30b0b" stroke-width="6.5" stroke-linecap="round" stroke-linejoin="round"/>
<path d="M1403.1,1410.0L1417.0,1416.9L1430.8,1412.3L1440.0,1403.1L1453.9,1405.4L1465.4,1400.8" fill="none" stroke="#a80000" stroke-width="8.2" stroke-linecap="round" stroke-linejoin="round"/><path d="M1403.1,1410.0L1417.0,1416.9L1430.8,1412.3L1440.0,1403.1L1453.9,1405.4L1465.4,1400.8" fill="none" stroke="#e30b0b" stroke-width="7.0" stroke-linecap="round" stroke-linejoin="round"/>
<path d="M1430.8,1412.3L1435.4,1405.4L1444.7,1400.8" fill="none" stroke="#a80000" stroke-width="7.2" stroke-linecap="round" stroke-linejoin="round"/><path d="M1430.8,1412.3L1435.4,1405.4L1444.7,1400.8" fill="none" stroke="#e30b0b" stroke-width="6.0" stroke-linecap="round" stroke-linejoin="round"/>
<path d="M1586.6,1527.7L1599.3,1527.7L1615.5,1525.4" fill="none" stroke="#a80000" stroke-width="7.2" stroke-linecap="round" stroke-linejoin="round"/><path d="M1586.6,1527.7L1599.3,1527.7L1615.5,1525.4" fill="none" stroke="#e30b0b" stroke-width="6.0" stroke-linecap="round" stroke-linejoin="round"/>
<path d="M1599.3,1527.7L1605.1,1518.5" fill="none" stroke="#a80000" stroke-width="7.2" stroke-linecap="round" stroke-linejoin="round"/><path d="M1599.3,1527.7L1605.1,1518.5" fill="none" stroke="#e30b0b" stroke-width="6.0" stroke-linecap="round" stroke-linejoin="round"/>
<path d="M1599.3,1527.7L1599.3,1545.0" fill="none" stroke="#a80000" stroke-width="7.2" stroke-linecap="round" stroke-linejoin="round"/><path d="M1599.3,1527.7L1599.3,1545.0" fill="none" stroke="#e30b0b" stroke-width="6.0" stroke-linecap="round" stroke-linejoin="round"/>
<path d="M1295.0,1892.7L1307.7,1891.6L1317.0,1880.0L1328.5,1877.7L1335.4,1888.1" fill="none" stroke="#a80000" stroke-width="7.7" stroke-linecap="round" stroke-linejoin="round"/><path d="M1295.0,1892.7L1307.7,1891.6L1317.0,1880.0L1328.5,1877.7L1335.4,1888.1" fill="none" stroke="#e30b0b" stroke-width="6.5" stroke-linecap="round" stroke-linejoin="round"/>
<path d="M1307.7,1891.6L1312.4,1903.1" fill="none" stroke="#a80000" stroke-width="7.7" stroke-linecap="round" stroke-linejoin="round"/><path d="M1307.7,1891.6L1312.4,1903.1" fill="none" stroke="#e30b0b" stroke-width="6.5" stroke-linecap="round" stroke-linejoin="round"/>
<path d="M1328.5,1877.7L1330.8,1861.6L1323.9,1855.8" fill="none" stroke="#a80000" stroke-width="7.7" stroke-linecap="round" stroke-linejoin="round"/><path d="M1328.5,1877.7L1330.8,1861.6L1323.9,1855.8" fill="none" stroke="#e30b0b" stroke-width="6.5" stroke-linecap="round" stroke-linejoin="round"/>
<path d="M1166.9,1979.3L1180.8,1977.0L1183.1,1967.8L1192.3,1963.1" fill="none" stroke="#a80000" stroke-width="8.2" stroke-linecap="round" stroke-linejoin="round"/><path d="M1166.9,1979.3L1180.8,1977.0L1183.1,1967.8L1192.3,1963.1" fill="none" stroke="#e30b0b" stroke-width="7.0" stroke-linecap="round" stroke-linejoin="round"/>
<path d="M873.8,2063.1L880.8,2058.5L892.3,2063.1L894.6,2071.2L883.1,2071.2L873.8,2063.1" fill="none" stroke="#a80000" stroke-width="7.2" stroke-linecap="round" stroke-linejoin="round"/><path d="M873.8,2063.1L880.8,2058.5L892.3,2063.1L894.6,2071.2L883.1,2071.2L873.8,2063.1" fill="none" stroke="#e30b0b" stroke-width="6.0" stroke-linecap="round" stroke-linejoin="round"/>
<path d="M894.6,2067.7L906.2,2063.1L913.1,2053.9L908.5,2043.5" fill="none" stroke="#a80000" stroke-width="9.2" stroke-linecap="round" stroke-linejoin="round"/><path d="M894.6,2067.7L906.2,2063.1L913.1,2053.9L908.5,2043.5" fill="none" stroke="#e30b0b" stroke-width="8.0" stroke-linecap="round" stroke-linejoin="round"/>
<path d="M913.1,2053.9L926.9,2056.2L936.2,2063.1" fill="none" stroke="#a80000" stroke-width="9.2" stroke-linecap="round" stroke-linejoin="round"/><path d="M913.1,2053.9L926.9,2056.2L936.2,2063.1" fill="none" stroke="#e30b0b" stroke-width="8.0" stroke-linecap="round" stroke-linejoin="round"/>
<path d="M1014.1,2397.9L1026.7,2399.1L1038.1,2392.8" fill="none" stroke="#a80000" stroke-width="7.7" stroke-linecap="round" stroke-linejoin="round"/><path d="M1014.1,2397.9L1026.7,2399.1L1038.1,2392.8" fill="none" stroke="#e30b0b" stroke-width="6.5" stroke-linecap="round" stroke-linejoin="round"/>
<path d="M1026.7,2399.1L1019.1,2414.3L1009.0,2427.0" fill="none" stroke="#a80000" stroke-width="7.7" stroke-linecap="round" stroke-linejoin="round"/><path d="M1026.7,2399.1L1019.1,2414.3L1009.0,2427.0" fill="none" stroke="#e30b0b" stroke-width="6.5" stroke-linecap="round" stroke-linejoin="round"/>
<path d="M1133.2,2513.2L1135.7,2533.5L1145.9,2541.1" fill="none" stroke="#a80000" stroke-width="7.7" stroke-linecap="round" stroke-linejoin="round"/><path d="M1133.2,2513.2L1135.7,2533.5L1145.9,2541.1" fill="none" stroke="#e30b0b" stroke-width="6.5" stroke-linecap="round" stroke-linejoin="round"/>
<path d="M1142.1,2510.7L1144.6,2528.4" fill="none" stroke="#a80000" stroke-width="7.7" stroke-linecap="round" stroke-linejoin="round"/><path d="M1142.1,2510.7L1144.6,2528.4" fill="none" stroke="#e30b0b" stroke-width="6.5" stroke-linecap="round" stroke-linejoin="round"/>
</g>
<text x="449.3" y="1502.6" font-size="40" fill="#76923c" textLength="354.0" lengthAdjust="spacingAndGlyphs">N-terminal Domain</text>
<text x="1008.0" y="1494.3" font-size="70" fill="#ff0000" font-weight="700" textLength="200.8" lengthAdjust="spacingAndGlyphs">P272L</text>
<path d="M1109.6,1513 L1063.3,1732" fill="none" stroke="#ff0000" stroke-width="5"/>
<path d="M1052.8,1705 L1062.3,1735.5 L1084.6,1711.6" fill="none" stroke="#ff0000" stroke-width="5" stroke-linejoin="miter" stroke-miterlimit="10"/>
<text x="621.9" y="1637.4" font-size="43" fill="#404040" textLength="94.3" lengthAdjust="spacingAndGlyphs" stroke="#fff" stroke-width="1.3" paint-order="fill stroke">S98F</text>
<text x="606.3" y="1751.5" font-size="43" fill="#404040" textLength="124.5" lengthAdjust="spacingAndGlyphs" stroke="#fff" stroke-width="1.3" paint-order="fill stroke">A262S</text>
<text x="676.3" y="1867.6" font-size="43" fill="#404040" textLength="63.3" lengthAdjust="spacingAndGlyphs" stroke="#fff" stroke-width="1.3" paint-order="fill stroke">L5F</text>
<text x="761.9" y="1889.9" font-size="43" fill="#d522cf" textLength="85.0" lengthAdjust="spacingAndGlyphs" stroke="#fff" stroke-width="1.3" paint-order="fill stroke">L18F</text>
<text x="860.4" y="1905.4" font-size="43" fill="#404040" textLength="130.6" lengthAdjust="spacingAndGlyphs" stroke="#fff" stroke-width="1.3" paint-order="fill stroke">A222V</text>
<text x="1118.0" y="1641.5" font-size="43" fill="#d522cf" textLength="124.0" lengthAdjust="spacingAndGlyphs" stroke="#fff" stroke-width="1.3" paint-order="fill stroke">S982A</text>
<text x="1448.5" y="1360.6" font-size="43" fill="#1a9e52" textLength="128.5" lengthAdjust="spacingAndGlyphs" stroke="#fff" stroke-width="1.3" paint-order="fill stroke">N501Y</text>
<text x="1203.7" y="1411.3" font-size="43" fill="#d522cf" textLength="128.4" lengthAdjust="spacingAndGlyphs" stroke="#fff" stroke-width="1.3" paint-order="fill stroke">N439K</text>
<text x="1549.3" y="1449.9" font-size="40" fill="#2aa9e0" textLength="469.5" lengthAdjust="spacingAndGlyphs">Receptor Binding Domain</text>
<text x="1647.2" y="1560.5" font-size="43" fill="#d522cf" textLength="126.8" lengthAdjust="spacingAndGlyphs" stroke="#fff" stroke-width="1.3" paint-order="fill stroke">S477N</text>
<text x="1430.0" y="1910.8" font-size="40" fill="#e3a160" textLength="240.3" lengthAdjust="spacingAndGlyphs">Subdomain 1</text>
<text x="1271.6" y="1970.0" font-size="43" fill="#d522cf" textLength="132.2" lengthAdjust="spacingAndGlyphs" stroke="#fff" stroke-width="1.3" paint-order="fill stroke">A570D</text>
<text x="1241.5" y="2060.1" font-size="43" fill="#1a9e52" textLength="131.3" lengthAdjust="spacingAndGlyphs" stroke="#fff" stroke-width="1.3" paint-order="fill stroke">D614G</text>
<text x="754.7" y="2125.8" font-size="43" fill="#e3a672" textLength="127.9" lengthAdjust="spacingAndGlyphs" stroke="#fff" stroke-width="1.3" paint-order="fill stroke">P681H</text>
<text x="1194.2" y="2267.5" font-size="40" fill="#7d3cc8" textLength="241.4" lengthAdjust="spacingAndGlyphs">Subdomain 2</text>
<text x="1209.8" y="2448.4" font-size="43" fill="#d522cf" textLength="158.4" lengthAdjust="spacingAndGlyphs" stroke="#fff" stroke-width="1.3" paint-order="fill stroke">D1118H</text>
<text x="888.9" y="2477.8" font-size="43" fill="#d522cf" textLength="107.8" lengthAdjust="spacingAndGlyphs" stroke="#fff" stroke-width="1.3" paint-order="fill stroke">T716I</text>
<line x1="735.9" y1="1724.0" x2="777.4" y2="1697.0" stroke="#262626" stroke-width="6.5" stroke-linecap="butt"/>
<line x1="751.5" y1="1822.5" x2="826.1" y2="1759.3" stroke="#262626" stroke-width="7" stroke-linecap="butt"/>
<line x1="804.4" y1="1828.7" x2="835.5" y2="1799.2" stroke="#ff00ff" stroke-width="6.5" stroke-linecap="butt"/>
<line x1="1175.2" y1="1995.0" x2="1225.3" y2="2040.0" stroke="#00a650" stroke-width="7" stroke-linecap="butt"/>
<line x1="1146.4" y1="2516.4" x2="1244.4" y2="2461.6" stroke="#ffaaee" stroke-width="7" stroke-linecap="butt"/>
</g>
</svg></body></html>
